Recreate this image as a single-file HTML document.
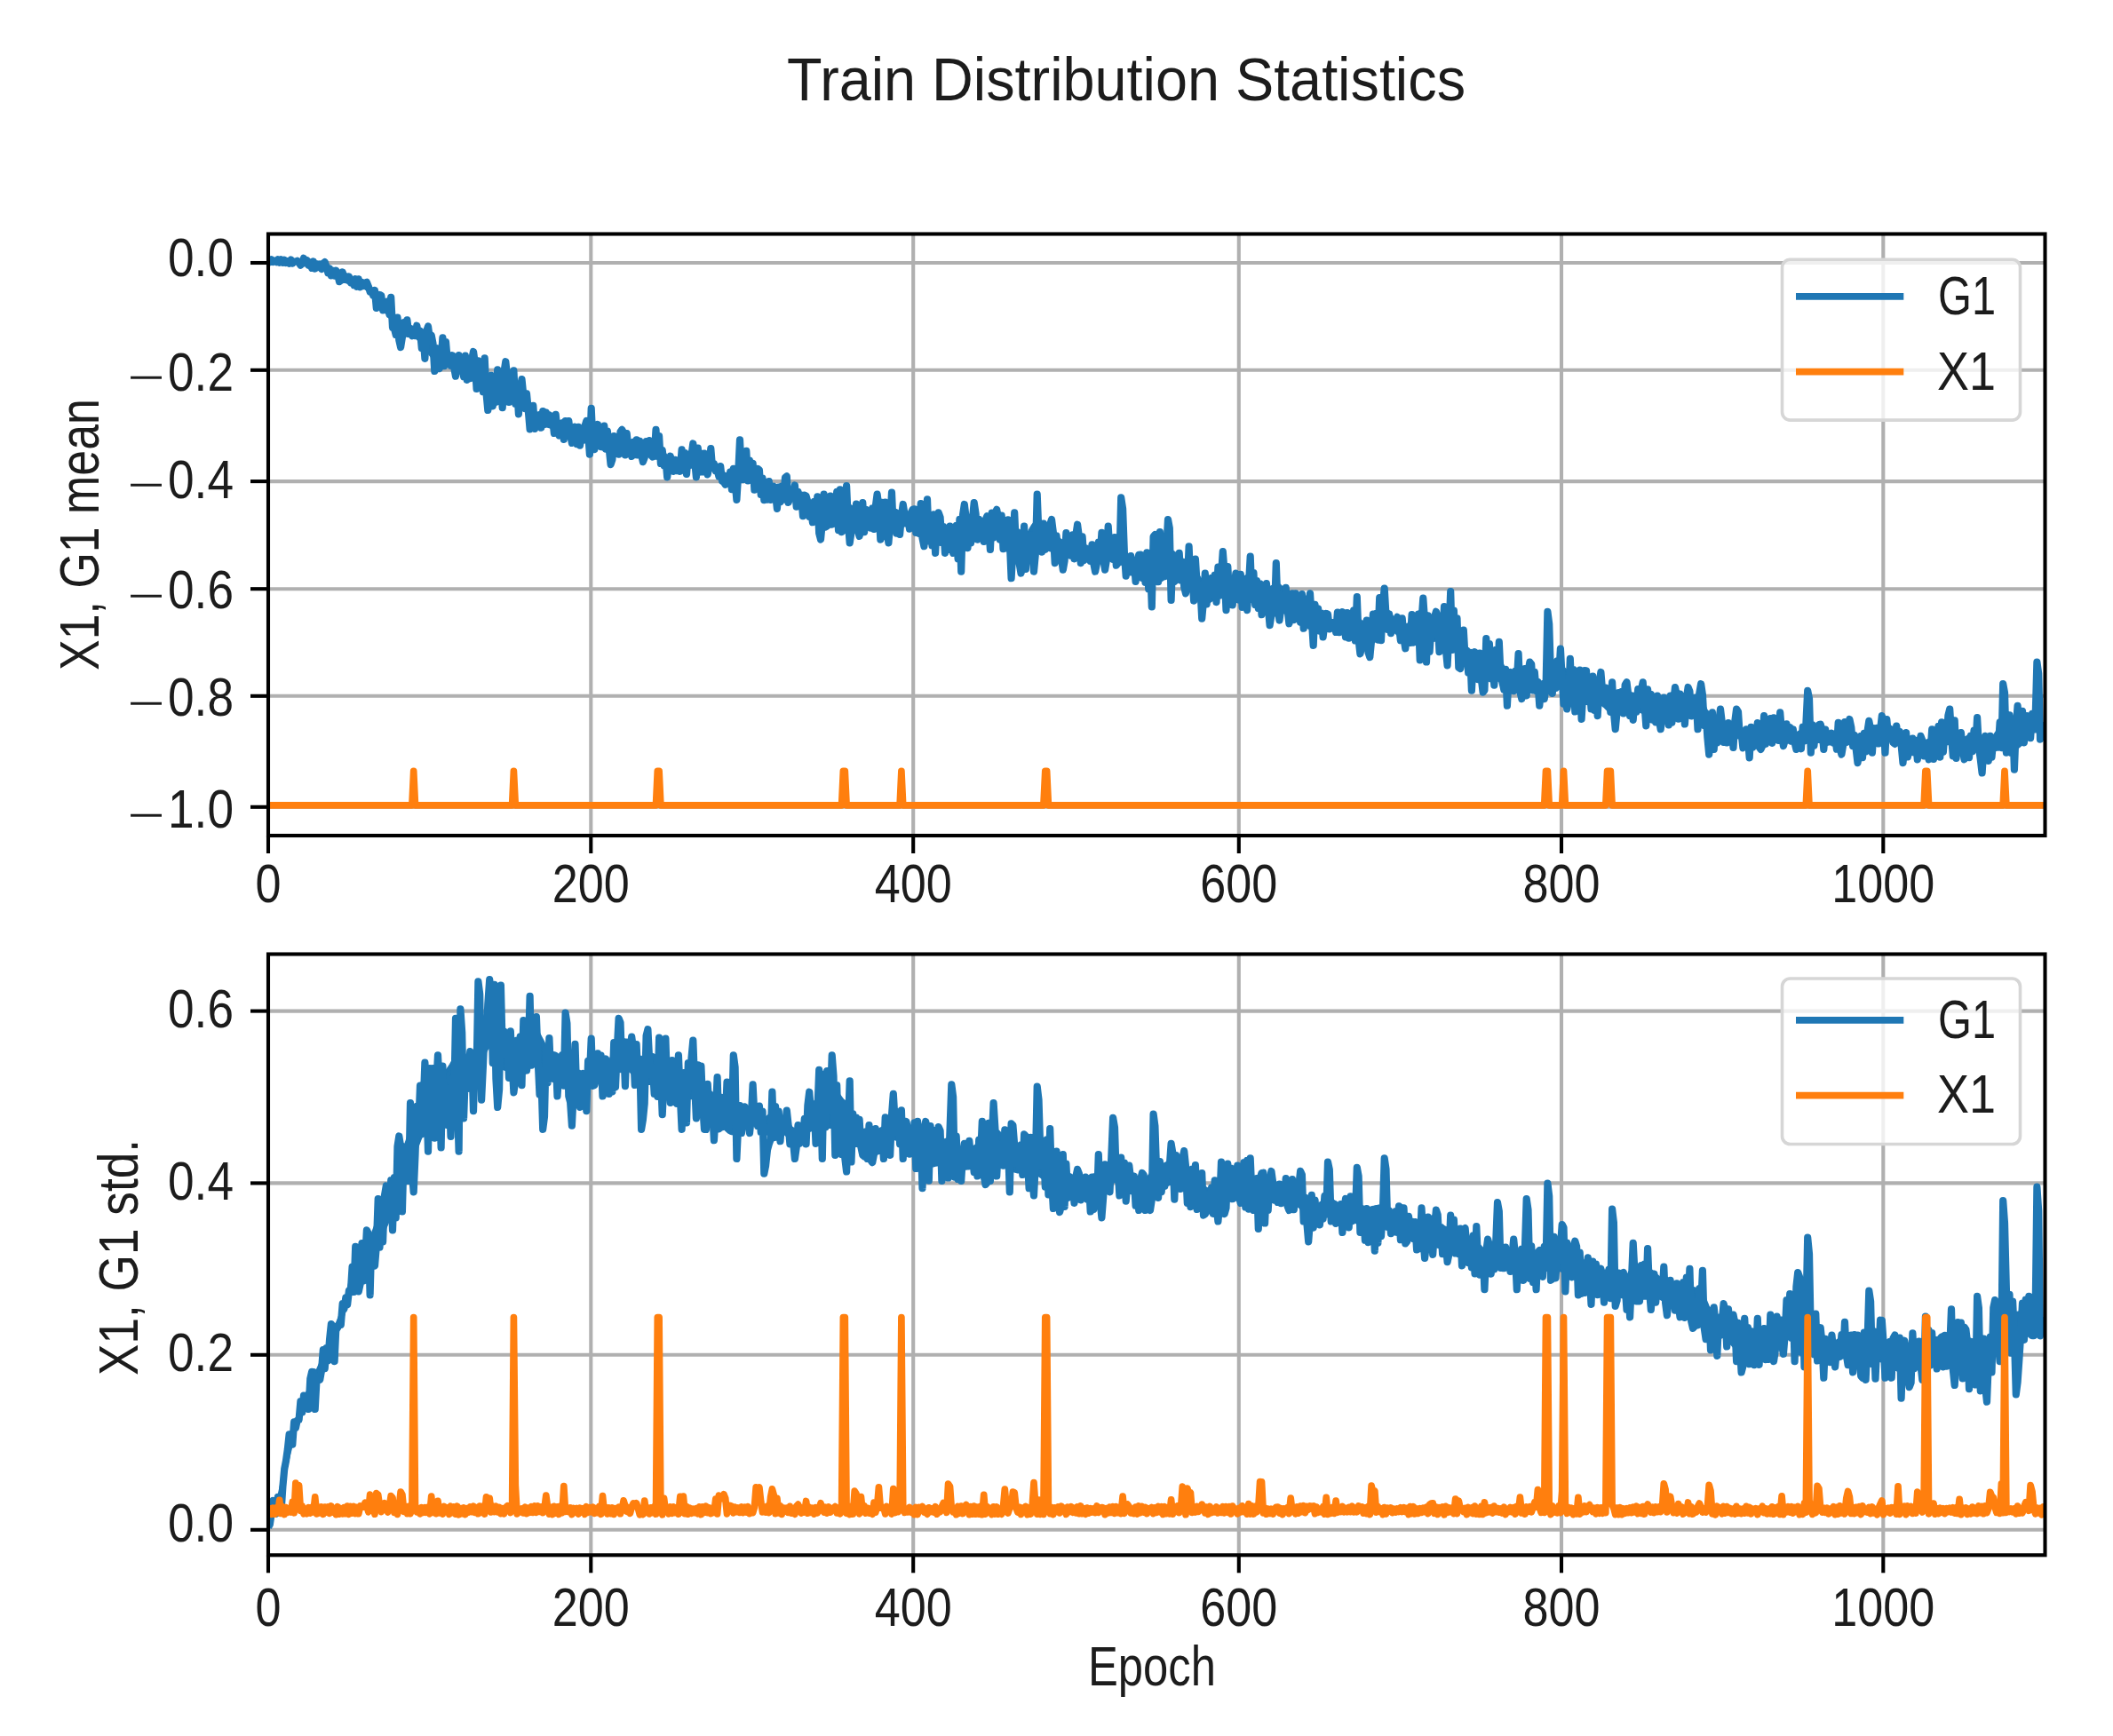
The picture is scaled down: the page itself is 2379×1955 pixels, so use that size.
<!DOCTYPE html>
<html lang="en"><head><meta charset="utf-8"><title>Train Distribution Statistics</title>
<style>html,body{margin:0;padding:0;background:#fff}svg{display:block;filter:blur(0.7px)}text{font-family:"Liberation Sans",sans-serif;fill:#1c1c1c}</style></head><body>
<svg width="2379" height="1955" viewBox="0 0 2379 1955">
<rect width="2379" height="1955" fill="#fff"/>
<defs><clipPath id="c1"><rect x="302.0" y="263.5" width="2000.5" height="677.5"/></clipPath><clipPath id="c2"><rect x="302.0" y="1074.5" width="2000.5" height="676.8"/></clipPath></defs>
<g>
<line x1="665.3" y1="263.5" x2="665.3" y2="941.0" stroke="#b0b0b0" stroke-width="4.1"/>
<line x1="1028.2" y1="263.5" x2="1028.2" y2="941.0" stroke="#b0b0b0" stroke-width="4.1"/>
<line x1="1394.8" y1="263.5" x2="1394.8" y2="941.0" stroke="#b0b0b0" stroke-width="4.1"/>
<line x1="1758.0" y1="263.5" x2="1758.0" y2="941.0" stroke="#b0b0b0" stroke-width="4.1"/>
<line x1="2120.3" y1="263.5" x2="2120.3" y2="941.0" stroke="#b0b0b0" stroke-width="4.1"/>
<line x1="302.0" y1="296.0" x2="2302.5" y2="296.0" stroke="#b0b0b0" stroke-width="4.1"/>
<line x1="302.0" y1="416.8" x2="2302.5" y2="416.8" stroke="#b0b0b0" stroke-width="4.1"/>
<line x1="302.0" y1="542.1" x2="2302.5" y2="542.1" stroke="#b0b0b0" stroke-width="4.1"/>
<line x1="302.0" y1="663.2" x2="2302.5" y2="663.2" stroke="#b0b0b0" stroke-width="4.1"/>
<line x1="302.0" y1="783.8" x2="2302.5" y2="783.8" stroke="#b0b0b0" stroke-width="4.1"/>
<line x1="302.0" y1="908.8" x2="2302.5" y2="908.8" stroke="#b0b0b0" stroke-width="4.1"/>
<g clip-path="url(#c1)">
<polygon fill="#1f77b4" stroke="#1f77b4" stroke-width="3" stroke-linejoin="round" points="302.0,293.3 303.8,293.3 305.6,293.3 307.5,293.3 309.3,293.3 311.1,293.3 312.9,293.3 314.7,293.3 316.5,293.3 318.4,293.3 320.2,293.3 322.0,293.3 323.8,293.3 325.6,293.3 327.5,293.3 329.3,293.3 331.1,293.2 332.9,293.2 334.7,293.2 336.6,293.2 338.4,293.3 340.2,293.4 342.0,293.5 343.8,293.8 345.6,294.1 347.5,294.4 349.3,294.8 351.1,295.3 352.9,295.7 354.7,296.2 356.6,296.6 358.4,297.0 360.2,297.5 362.0,298.0 363.8,298.7 365.7,299.4 367.5,300.1 369.3,301.0 371.1,301.9 372.9,302.9 374.7,303.9 376.6,304.9 378.4,305.9 380.2,306.9 382.0,307.9 383.8,308.8 385.7,309.7 387.5,310.5 389.3,311.3 391.1,312.0 392.9,312.8 394.8,313.5 396.6,314.2 398.4,315.0 400.2,315.7 402.0,316.4 403.8,317.1 405.7,317.9 407.5,318.6 409.3,319.4 411.1,320.5 412.9,321.7 414.8,323.0 416.6,324.6 418.4,326.3 420.2,328.3 422.0,330.2 423.8,332.1 425.7,333.9 427.5,335.6 429.3,337.1 431.1,338.6 432.9,339.9 434.8,341.1 436.6,342.7 438.4,344.9 440.2,347.9 442.0,351.6 443.9,355.2 445.7,358.5 447.5,361.6 449.3,364.1 451.1,365.7 452.9,366.3 454.8,366.1 456.6,366.0 458.4,366.1 460.2,366.5 462.0,367.1 463.9,367.8 465.7,368.9 467.5,369.9 469.3,371.0 471.1,372.1 473.0,373.2 474.8,374.3 476.6,375.5 478.4,377.4 480.2,379.7 482.0,381.9 483.9,384.0 485.7,386.0 487.5,387.8 489.3,389.4 491.1,390.1 493.0,390.3 494.8,390.6 496.6,391.2 498.4,392.0 500.2,393.0 502.0,394.2 503.9,395.7 505.7,397.4 507.5,399.2 509.3,400.9 511.1,402.6 513.0,404.0 514.8,405.2 516.6,406.2 518.4,406.9 520.2,407.4 522.1,407.7 523.9,407.8 525.7,407.9 527.5,408.1 529.3,408.4 531.1,408.9 533.0,409.5 534.8,410.3 536.6,411.3 538.4,412.4 540.2,413.7 542.1,415.0 543.9,416.3 545.7,418.2 547.5,421.0 549.3,423.7 551.2,425.9 553.0,427.8 554.8,429.4 556.6,430.5 558.4,430.7 560.2,429.6 562.1,428.3 563.9,427.0 565.7,426.1 567.5,425.5 569.3,425.4 571.2,425.7 573.0,426.5 574.8,427.7 576.6,429.3 578.4,431.0 580.3,432.7 582.1,434.5 583.9,436.6 585.7,438.8 587.5,441.3 589.3,444.0 591.2,447.0 593.0,450.2 594.8,453.5 596.6,456.6 598.4,459.3 600.3,461.7 602.1,463.6 603.9,465.2 605.7,466.4 607.5,467.2 609.3,467.8 611.2,468.5 613.0,469.1 614.8,469.8 616.6,470.4 618.4,471.1 620.3,471.7 622.1,472.4 623.9,473.1 625.7,473.9 627.5,474.7 629.4,475.5 631.2,476.4 633.0,477.4 634.8,478.3 636.6,479.2 638.4,480.0 640.3,480.8 642.1,481.4 643.9,481.9 645.7,482.4 647.5,482.8 649.4,483.1 651.2,483.5 653.0,483.8 654.8,484.2 656.6,484.1 658.5,483.4 660.3,482.1 662.1,480.7 663.9,479.6 665.7,478.6 667.5,477.8 669.4,477.7 671.2,478.4 673.0,479.8 674.8,481.5 676.6,483.2 678.5,485.1 680.3,487.0 682.1,488.9 683.9,491.0 685.7,493.1 687.6,495.0 689.4,496.3 691.2,497.0 693.0,497.1 694.8,496.7 696.6,496.1 698.5,495.3 700.3,494.7 702.1,494.5 703.9,494.8 705.7,495.4 707.6,496.4 709.4,497.5 711.2,498.5 713.0,499.6 714.8,500.6 716.6,501.4 718.5,501.8 720.3,501.9 722.1,501.8 723.9,501.3 725.7,500.6 727.6,499.5 729.4,498.5 731.2,497.4 733.0,496.4 734.8,495.9 736.7,496.0 738.5,496.7 740.3,498.0 742.1,499.9 743.9,502.4 745.7,505.6 747.6,508.8 749.4,511.9 751.2,514.4 753.0,516.3 754.8,517.7 756.7,518.5 758.5,518.8 760.3,518.5 762.1,517.8 763.9,517.1 765.8,516.3 767.6,515.6 769.4,514.9 771.2,514.2 773.0,513.5 774.8,512.8 776.7,512.3 778.5,511.9 780.3,511.7 782.1,511.6 783.9,511.6 785.8,511.8 787.6,512.1 789.4,512.3 791.2,512.6 793.0,512.9 794.9,513.3 796.7,514.0 798.5,515.1 800.3,516.5 802.1,518.2 803.9,520.3 805.8,522.7 807.6,525.1 809.4,527.2 811.2,529.2 813.0,530.9 814.9,532.3 816.7,533.6 818.5,534.6 820.3,535.3 822.1,535.0 823.9,533.7 825.8,531.3 827.6,527.9 829.4,524.1 831.2,520.5 833.0,517.4 834.9,515.6 836.7,515.1 838.5,515.8 840.3,517.8 842.1,520.4 844.0,523.0 845.8,525.5 847.6,528.1 849.4,530.6 851.2,533.0 853.0,535.4 854.9,537.6 856.7,539.8 858.5,541.9 860.3,543.9 862.1,545.9 864.0,547.9 865.8,549.7 867.6,551.1 869.4,552.1 871.2,552.6 873.1,552.6 874.9,552.1 876.7,551.2 878.5,550.0 880.3,548.8 882.1,548.0 884.0,547.6 885.8,547.7 887.6,548.1 889.4,549.0 891.2,550.4 893.1,552.1 894.9,553.9 896.7,555.6 898.5,557.4 900.3,559.1 902.1,560.8 904.0,562.3 905.8,563.6 907.6,564.8 909.4,565.8 911.2,566.6 913.1,567.3 914.9,567.9 916.7,568.4 918.5,569.0 920.3,569.6 922.2,570.2 924.0,570.6 925.8,570.8 927.6,570.8 929.4,570.6 931.2,570.2 933.1,569.8 934.9,569.2 936.7,568.8 938.5,568.4 940.3,568.0 942.2,567.8 944.0,567.5 945.8,567.3 947.6,567.1 949.4,567.2 951.3,567.4 953.1,567.8 954.9,568.4 956.7,569.1 958.5,570.1 960.3,571.1 962.2,572.2 964.0,573.2 965.8,574.3 967.6,575.1 969.4,575.7 971.3,576.0 973.1,576.1 974.9,576.0 976.7,575.6 978.5,575.0 980.4,574.4 982.2,573.9 984.0,573.3 985.8,572.9 987.6,572.5 989.4,572.2 991.3,572.0 993.1,571.9 994.9,571.8 996.7,571.8 998.5,571.8 1000.4,572.0 1002.2,572.3 1004.0,572.7 1005.8,573.2 1007.6,573.9 1009.4,574.7 1011.3,575.6 1013.1,576.4 1014.9,577.2 1016.7,577.9 1018.5,578.6 1020.4,579.2 1022.2,579.8 1024.0,580.3 1025.8,580.6 1027.6,580.7 1029.5,580.8 1031.3,580.6 1033.1,580.4 1034.9,580.0 1036.7,579.6 1038.5,579.3 1040.4,579.4 1042.2,579.8 1044.0,580.4 1045.8,581.4 1047.6,582.7 1049.5,584.3 1051.3,586.1 1053.1,587.8 1054.9,589.5 1056.7,591.1 1058.6,592.7 1060.4,594.2 1062.2,595.7 1064.0,597.2 1065.8,598.3 1067.6,599.0 1069.5,599.4 1071.3,599.3 1073.1,599.0 1074.9,598.2 1076.7,597.0 1078.6,595.9 1080.4,594.7 1082.2,593.4 1084.0,592.0 1085.8,590.4 1087.7,588.7 1089.5,586.7 1091.3,584.8 1093.1,583.4 1094.9,582.4 1096.7,582.0 1098.6,582.1 1100.4,582.9 1102.2,584.2 1104.0,585.8 1105.8,587.5 1107.7,588.8 1109.5,589.6 1111.3,589.9 1113.1,589.8 1114.9,589.3 1116.7,588.3 1118.6,587.3 1120.4,586.6 1122.2,586.4 1124.0,586.5 1125.8,587.1 1127.7,588.1 1129.5,589.5 1131.3,591.0 1133.1,592.6 1134.9,594.1 1136.8,595.6 1138.6,597.1 1140.4,598.5 1142.2,600.0 1144.0,601.5 1145.8,602.9 1147.7,604.3 1149.5,604.9 1151.3,605.0 1153.1,604.3 1154.9,603.0 1156.8,601.0 1158.6,598.3 1160.4,595.1 1162.2,592.0 1164.0,589.6 1165.9,588.0 1167.7,587.1 1169.5,587.0 1171.3,587.6 1173.1,588.9 1174.9,590.9 1176.8,592.8 1178.6,594.8 1180.4,596.6 1182.2,598.3 1184.0,600.0 1185.9,601.6 1187.7,603.1 1189.5,604.5 1191.3,605.9 1193.1,607.2 1195.0,608.6 1196.8,609.5 1198.6,610.1 1200.4,610.3 1202.2,610.1 1204.0,609.6 1205.9,608.6 1207.7,607.4 1209.5,606.7 1211.3,606.5 1213.1,606.8 1215.0,607.6 1216.8,608.9 1218.6,610.6 1220.4,612.8 1222.2,614.9 1224.0,616.8 1225.9,618.2 1227.7,619.0 1229.5,619.4 1231.3,619.2 1233.1,618.4 1235.0,617.2 1236.8,615.7 1238.6,614.2 1240.4,612.7 1242.2,611.3 1244.1,610.3 1245.9,609.5 1247.7,609.1 1249.5,609.0 1251.3,609.3 1253.1,609.8 1255.0,610.6 1256.8,611.5 1258.6,613.4 1260.4,616.4 1262.2,619.7 1264.1,622.9 1265.9,626.0 1267.7,629.0 1269.5,631.7 1271.3,633.3 1273.2,633.7 1275.0,633.7 1276.8,633.7 1278.6,633.6 1280.4,633.4 1282.2,633.1 1284.1,632.6 1285.9,632.1 1287.7,631.5 1289.5,630.8 1291.3,630.0 1293.2,629.3 1295.0,628.6 1296.8,627.8 1298.6,626.8 1300.4,625.6 1302.2,624.3 1304.1,622.8 1305.9,621.2 1307.7,619.4 1309.5,617.6 1311.3,616.5 1313.2,616.1 1315.0,616.3 1316.8,617.2 1318.6,618.8 1320.4,621.1 1322.3,623.9 1324.1,626.3 1325.9,628.2 1327.7,629.7 1329.5,630.7 1331.3,631.4 1333.2,631.6 1335.0,631.9 1336.8,632.7 1338.6,633.9 1340.4,635.5 1342.3,637.5 1344.1,640.0 1345.9,642.9 1347.7,645.7 1349.5,648.6 1351.4,651.4 1353.2,653.8 1355.0,655.5 1356.8,656.5 1358.6,656.9 1360.4,656.5 1362.3,655.5 1364.1,653.8 1365.9,651.9 1367.7,649.9 1369.5,648.0 1371.4,646.2 1373.2,645.0 1375.0,644.3 1376.8,644.1 1378.6,644.5 1380.5,645.5 1382.3,646.9 1384.1,648.8 1385.9,650.7 1387.7,652.1 1389.5,653.1 1391.4,653.7 1393.2,653.8 1395.0,653.5 1396.8,652.7 1398.6,651.5 1400.5,650.3 1402.3,649.0 1404.1,648.1 1405.9,647.8 1407.7,648.1 1409.5,648.9 1411.4,650.3 1413.2,652.3 1415.0,654.9 1416.8,657.7 1418.6,660.5 1420.5,663.1 1422.3,665.0 1424.1,666.1 1425.9,666.4 1427.7,665.9 1429.6,664.7 1431.4,662.6 1433.2,660.4 1435.0,658.9 1436.8,658.1 1438.6,658.1 1440.5,658.8 1442.3,660.2 1444.1,662.4 1445.9,664.9 1447.7,667.4 1449.6,669.9 1451.4,672.2 1453.2,674.3 1455.0,676.2 1456.8,677.8 1458.7,679.1 1460.5,680.2 1462.3,681.0 1464.1,681.7 1465.9,682.4 1467.7,683.2 1469.6,683.9 1471.4,684.7 1473.2,685.5 1475.0,686.5 1476.8,687.5 1478.7,688.6 1480.5,689.8 1482.3,691.1 1484.1,692.3 1485.9,693.6 1487.8,694.8 1489.6,696.0 1491.4,696.9 1493.2,697.6 1495.0,698.1 1496.8,698.4 1498.7,698.5 1500.5,698.4 1502.3,698.3 1504.1,698.1 1505.9,698.0 1507.8,697.7 1509.6,697.4 1511.4,697.0 1513.2,696.5 1515.0,696.0 1516.8,695.4 1518.7,694.7 1520.5,694.0 1522.3,693.4 1524.1,693.3 1525.9,693.7 1527.8,694.6 1529.6,696.2 1531.4,698.2 1533.2,700.8 1535.0,703.3 1536.9,704.9 1538.7,705.7 1540.5,705.6 1542.3,704.6 1544.1,702.7 1545.9,700.0 1547.8,697.0 1549.6,694.0 1551.4,691.1 1553.2,688.4 1555.0,686.5 1556.9,685.4 1558.7,685.2 1560.5,685.7 1562.3,687.1 1564.1,689.2 1566.0,691.9 1567.8,694.6 1569.6,697.1 1571.4,699.4 1573.2,701.5 1575.0,703.1 1576.9,704.1 1578.7,704.7 1580.5,704.7 1582.3,704.5 1584.1,703.9 1586.0,703.1 1587.8,702.2 1589.6,701.3 1591.4,700.4 1593.2,699.4 1595.1,698.5 1596.9,697.7 1598.7,697.1 1600.5,696.8 1602.3,696.8 1604.1,696.9 1606.0,697.4 1607.8,698.1 1609.6,698.9 1611.4,699.8 1613.2,700.4 1615.1,700.6 1616.9,700.5 1618.7,700.2 1620.5,699.5 1622.3,698.5 1624.1,697.2 1626.0,695.9 1627.8,694.8 1629.6,694.4 1631.4,694.9 1633.2,696.0 1635.1,697.9 1636.9,700.6 1638.7,704.1 1640.5,708.1 1642.3,712.0 1644.2,715.9 1646.0,719.7 1647.8,723.4 1649.6,727.0 1651.4,730.5 1653.2,734.0 1655.1,737.3 1656.9,740.0 1658.7,741.9 1660.5,743.2 1662.3,743.8 1664.2,743.8 1666.0,743.0 1667.8,741.7 1669.6,740.4 1671.4,739.4 1673.3,738.5 1675.1,737.8 1676.9,737.3 1678.7,737.0 1680.5,736.8 1682.3,737.0 1684.2,737.9 1686.0,739.4 1687.8,741.5 1689.6,744.3 1691.4,747.7 1693.3,751.7 1695.1,755.8 1696.9,758.9 1698.7,760.9 1700.5,761.8 1702.3,761.6 1704.2,760.3 1706.0,758.5 1707.8,756.4 1709.6,754.9 1711.4,753.9 1713.3,753.5 1715.1,753.7 1716.9,754.4 1718.7,755.4 1720.5,756.7 1722.4,758.2 1724.2,760.1 1726.0,762.2 1727.8,764.7 1729.6,767.4 1731.4,769.7 1733.3,770.8 1735.1,770.7 1736.9,769.6 1738.7,767.8 1740.5,765.5 1742.4,762.6 1744.2,759.6 1746.0,757.2 1747.8,755.5 1749.6,754.3 1751.5,753.0 1753.3,752.1 1755.1,751.6 1756.9,751.6 1758.7,751.9 1760.5,752.6 1762.4,753.8 1764.2,755.3 1766.0,756.8 1767.8,758.4 1769.6,759.9 1771.5,761.4 1773.3,763.0 1775.1,764.5 1776.9,766.0 1778.7,767.4 1780.6,768.7 1782.4,769.7 1784.2,770.5 1786.0,771.0 1787.8,771.4 1789.6,771.6 1791.5,771.6 1793.3,771.6 1795.1,771.6 1796.9,771.6 1798.7,771.9 1800.6,772.4 1802.4,773.1 1804.2,774.1 1806.0,775.3 1807.8,776.8 1809.6,778.5 1811.5,780.0 1813.3,781.2 1815.1,782.0 1816.9,782.5 1818.7,782.7 1820.6,782.6 1822.4,782.2 1824.2,781.6 1826.0,781.1 1827.8,780.7 1829.7,780.5 1831.5,780.4 1833.3,780.4 1835.1,780.5 1836.9,780.7 1838.7,781.1 1840.6,781.4 1842.4,781.7 1844.2,782.1 1846.0,782.5 1847.8,783.1 1849.7,783.8 1851.5,784.7 1853.3,785.6 1855.1,786.8 1856.9,788.0 1858.8,789.3 1860.6,790.5 1862.4,791.6 1864.2,792.4 1866.0,792.8 1867.8,793.0 1869.7,792.9 1871.5,792.4 1873.3,791.7 1875.1,790.9 1876.9,790.0 1878.8,789.2 1880.6,788.3 1882.4,787.6 1884.2,787.1 1886.0,786.6 1887.9,786.3 1889.7,786.1 1891.5,786.1 1893.3,786.2 1895.1,786.2 1896.9,786.3 1898.8,786.3 1900.6,786.3 1902.4,786.3 1904.2,786.2 1906.0,786.1 1907.9,786.0 1909.7,785.9 1911.5,786.2 1913.3,787.2 1915.1,788.9 1916.9,791.3 1918.8,794.5 1920.6,798.4 1922.4,802.8 1924.2,806.6 1926.0,809.6 1927.9,811.6 1929.7,812.8 1931.5,813.1 1933.3,813.0 1935.1,812.8 1937.0,813.1 1938.8,814.0 1940.6,815.4 1942.4,817.3 1944.2,818.9 1946.0,819.6 1947.9,819.4 1949.7,818.2 1951.5,816.9 1953.3,815.9 1955.1,815.2 1957.0,815.6 1958.8,817.2 1960.6,819.6 1962.4,822.5 1964.2,825.0 1966.1,826.7 1967.9,827.6 1969.7,827.6 1971.5,826.9 1973.3,825.7 1975.1,824.5 1977.0,823.4 1978.8,822.2 1980.6,821.0 1982.4,820.0 1984.2,819.0 1986.1,818.2 1987.9,817.5 1989.7,816.9 1991.5,816.4 1993.3,816.0 1995.2,815.7 1997.0,815.3 1998.8,815.0 2000.6,814.8 2002.4,815.0 2004.2,815.5 2006.1,816.3 2007.9,817.5 2009.7,819.0 2011.5,820.8 2013.3,822.7 2015.2,824.1 2017.0,825.1 2018.8,825.7 2020.6,825.8 2022.4,825.5 2024.2,824.8 2026.1,823.8 2027.9,822.9 2029.7,821.9 2031.5,821.3 2033.3,820.8 2035.2,820.5 2037.0,820.5 2038.8,820.7 2040.6,821.1 2042.4,821.7 2044.3,822.2 2046.1,822.8 2047.9,823.2 2049.7,823.6 2051.5,823.8 2053.3,824.1 2055.2,824.2 2057.0,824.3 2058.8,824.3 2060.6,824.3 2062.4,824.4 2064.3,824.4 2066.1,824.3 2067.9,824.1 2069.7,823.7 2071.5,823.3 2073.4,822.8 2075.2,822.1 2077.0,821.3 2078.8,821.0 2080.6,821.2 2082.4,821.8 2084.3,823.0 2086.1,824.6 2087.9,826.6 2089.7,829.2 2091.5,831.2 2093.4,832.4 2095.2,832.6 2097.0,831.9 2098.8,830.6 2100.6,828.8 2102.4,826.6 2104.3,824.5 2106.1,822.9 2107.9,821.7 2109.7,821.0 2111.5,820.5 2113.4,820.0 2115.2,819.7 2117.0,819.5 2118.8,819.5 2120.6,819.6 2122.5,819.8 2124.3,820.2 2126.1,820.6 2127.9,821.1 2129.7,821.6 2131.5,822.3 2133.4,823.1 2135.2,824.2 2137.0,825.4 2138.8,826.9 2140.6,828.6 2142.5,830.4 2144.3,831.9 2146.1,833.2 2147.9,834.3 2149.7,835.1 2151.6,835.6 2153.4,835.9 2155.2,836.1 2157.0,836.3 2158.8,836.3 2160.6,836.2 2162.5,836.0 2164.3,835.6 2166.1,835.1 2167.9,834.5 2169.7,833.8 2171.6,832.9 2173.4,831.9 2175.2,830.8 2177.0,829.6 2178.8,828.2 2180.7,826.7 2182.5,825.1 2184.3,823.5 2186.1,821.8 2187.9,820.2 2189.7,818.9 2191.6,818.2 2193.4,818.1 2195.2,818.6 2197.0,819.8 2198.8,821.5 2200.7,823.9 2202.5,826.5 2204.3,828.5 2206.1,830.0 2207.9,831.0 2209.7,831.4 2211.6,831.2 2213.4,830.5 2215.2,829.3 2217.0,828.2 2218.8,827.0 2220.7,825.9 2222.5,825.3 2224.3,825.4 2226.1,826.2 2227.9,827.7 2229.8,829.8 2231.6,832.1 2233.4,834.2 2235.2,835.6 2237.0,836.1 2238.8,835.6 2240.7,834.3 2242.5,832.1 2244.3,829.5 2246.1,827.0 2247.9,824.4 2249.8,821.8 2251.6,819.6 2253.4,817.7 2255.2,816.3 2257.0,815.3 2258.9,814.7 2260.7,814.5 2262.5,814.7 2264.3,815.0 2266.1,815.3 2267.9,815.6 2269.8,815.8 2271.6,815.9 2273.4,816.0 2275.2,815.9 2277.0,815.8 2278.9,815.6 2280.7,815.1 2282.5,814.4 2284.3,813.6 2286.1,812.6 2288.0,811.6 2289.8,810.9 2291.6,810.7 2293.4,811.1 2295.2,811.9 2297.0,813.0 2298.9,813.7 2300.7,814.8 2302.5,815.8 2302.5,826.3 2300.7,825.7 2298.9,825.2 2297.0,824.8 2295.2,824.3 2293.4,823.9 2291.6,823.9 2289.8,824.1 2288.0,824.8 2286.1,826.1 2284.3,827.8 2282.5,829.7 2280.7,831.9 2278.9,834.4 2277.0,837.0 2275.2,839.1 2273.4,840.6 2271.6,841.6 2269.8,841.9 2267.9,841.7 2266.1,840.8 2264.3,839.5 2262.5,838.1 2260.7,836.9 2258.9,836.2 2257.0,836.0 2255.2,836.3 2253.4,837.2 2251.6,838.6 2249.8,840.5 2247.9,842.8 2246.1,845.1 2244.3,847.4 2242.5,849.7 2240.7,851.7 2238.8,852.9 2237.0,853.3 2235.2,852.9 2233.4,851.7 2231.6,849.8 2229.8,847.7 2227.9,845.6 2226.1,844.1 2224.3,843.1 2222.5,842.6 2220.7,842.7 2218.8,843.2 2217.0,843.7 2215.2,844.2 2213.4,844.7 2211.6,844.9 2209.7,844.9 2207.9,844.6 2206.1,844.1 2204.3,843.2 2202.5,842.1 2200.7,840.7 2198.8,839.4 2197.0,838.5 2195.2,837.9 2193.4,837.6 2191.6,837.7 2189.7,838.1 2187.9,838.8 2186.1,839.7 2184.3,840.6 2182.5,841.5 2180.7,842.4 2178.8,843.3 2177.0,844.0 2175.2,844.6 2173.4,845.2 2171.6,845.7 2169.7,846.1 2167.9,846.4 2166.1,846.7 2164.3,846.9 2162.5,847.2 2160.6,847.4 2158.8,847.7 2157.0,847.9 2155.2,848.1 2153.4,848.2 2151.6,848.2 2149.7,847.7 2147.9,846.8 2146.1,845.5 2144.3,843.7 2142.5,841.4 2140.6,838.9 2138.8,836.6 2137.0,834.7 2135.2,833.4 2133.4,832.5 2131.5,832.2 2129.7,832.3 2127.9,832.8 2126.1,833.2 2124.3,833.7 2122.5,834.2 2120.6,834.6 2118.8,835.0 2117.0,835.3 2115.2,835.6 2113.4,835.8 2111.5,836.0 2109.7,836.2 2107.9,836.7 2106.1,837.5 2104.3,838.8 2102.4,840.5 2100.6,842.3 2098.8,843.7 2097.0,844.7 2095.2,845.0 2093.4,844.6 2091.5,843.3 2089.7,841.3 2087.9,838.7 2086.1,836.7 2084.3,835.2 2082.4,834.2 2080.6,833.7 2078.8,833.8 2077.0,834.4 2075.2,835.4 2073.4,836.3 2071.5,837.0 2069.7,837.6 2067.9,837.9 2066.1,838.0 2064.3,837.9 2062.4,837.6 2060.6,837.3 2058.8,836.9 2057.0,836.6 2055.2,836.3 2053.3,836.1 2051.5,835.8 2049.7,835.7 2047.9,835.6 2046.1,835.5 2044.3,835.5 2042.4,835.5 2040.6,835.5 2038.8,835.5 2037.0,835.6 2035.2,835.6 2033.3,835.7 2031.5,835.9 2029.7,836.0 2027.9,836.2 2026.1,836.4 2024.2,836.5 2022.4,836.6 2020.6,836.5 2018.8,836.1 2017.0,835.6 2015.2,834.9 2013.3,834.0 2011.5,832.9 2009.7,831.9 2007.9,831.0 2006.1,830.4 2004.2,830.0 2002.4,829.8 2000.6,829.8 1998.8,830.0 1997.0,830.4 1995.2,830.8 1993.3,831.1 1991.5,831.5 1989.7,832.0 1987.9,832.5 1986.1,833.1 1984.2,833.8 1982.4,834.6 1980.6,835.5 1978.8,836.5 1977.0,837.5 1975.1,838.4 1973.3,839.4 1971.5,840.4 1969.7,840.9 1967.9,840.7 1966.1,839.6 1964.2,837.8 1962.4,835.1 1960.6,832.1 1958.8,829.4 1957.0,827.5 1955.1,826.8 1953.3,827.1 1951.5,827.9 1949.7,829.1 1947.9,830.4 1946.0,830.9 1944.2,830.7 1942.4,829.8 1940.6,828.7 1938.8,828.1 1937.0,828.1 1935.1,828.5 1933.3,829.5 1931.5,830.2 1929.7,830.5 1927.9,829.9 1926.0,828.3 1924.2,825.8 1922.4,822.3 1920.6,818.1 1918.8,814.3 1916.9,811.2 1915.1,808.6 1913.3,806.7 1911.5,805.4 1909.7,804.7 1907.9,804.4 1906.0,804.0 1904.2,803.7 1902.4,803.4 1900.6,803.2 1898.8,803.0 1896.9,802.7 1895.1,802.6 1893.3,802.4 1891.5,802.2 1889.7,802.2 1887.9,802.3 1886.0,802.5 1884.2,802.9 1882.4,803.3 1880.6,804.0 1878.8,804.7 1876.9,805.5 1875.1,806.3 1873.3,807.1 1871.5,807.8 1869.7,808.2 1867.8,808.5 1866.0,808.5 1864.2,808.3 1862.4,807.9 1860.6,807.3 1858.8,806.5 1856.9,805.7 1855.1,805.0 1853.3,804.2 1851.5,803.4 1849.7,802.7 1847.8,801.9 1846.0,801.1 1844.2,800.4 1842.4,799.6 1840.6,798.8 1838.7,798.1 1836.9,797.3 1835.1,796.7 1833.3,796.4 1831.5,796.4 1829.7,796.7 1827.8,797.3 1826.0,798.2 1824.2,799.4 1822.4,800.6 1820.6,801.8 1818.7,802.4 1816.9,802.7 1815.1,802.4 1813.3,801.7 1811.5,800.6 1809.6,799.0 1807.8,797.1 1806.0,795.5 1804.2,794.1 1802.4,793.1 1800.6,792.4 1798.7,792.0 1796.9,791.9 1795.1,792.1 1793.3,792.3 1791.5,792.5 1789.6,792.7 1787.8,792.8 1786.0,792.6 1784.2,792.2 1782.4,791.6 1780.6,790.7 1778.7,789.6 1776.9,788.2 1775.1,786.8 1773.3,785.4 1771.5,784.0 1769.6,782.7 1767.8,781.3 1766.0,780.1 1764.2,778.8 1762.4,777.6 1760.5,776.6 1758.7,775.8 1756.9,775.2 1755.1,774.8 1753.3,774.6 1751.5,774.6 1749.6,774.7 1747.8,774.9 1746.0,775.4 1744.2,776.4 1742.4,778.0 1740.5,779.6 1738.7,780.9 1736.9,781.9 1735.1,782.5 1733.3,782.5 1731.4,781.6 1729.6,779.8 1727.8,777.8 1726.0,776.1 1724.2,774.7 1722.4,773.5 1720.5,772.7 1718.7,772.2 1716.9,771.9 1715.1,771.9 1713.3,772.2 1711.4,772.8 1709.6,773.8 1707.8,775.0 1706.0,776.6 1704.2,777.8 1702.3,778.4 1700.5,778.2 1698.7,777.0 1696.9,775.0 1695.1,772.1 1693.3,768.4 1691.4,764.8 1689.6,761.9 1687.8,759.7 1686.0,758.2 1684.2,757.4 1682.3,757.3 1680.5,757.9 1678.7,758.8 1676.9,759.7 1675.1,760.4 1673.3,761.1 1671.4,761.8 1669.6,762.3 1667.8,762.8 1666.0,763.3 1664.2,763.2 1662.3,762.6 1660.5,761.4 1658.7,759.7 1656.9,757.5 1655.1,754.7 1653.2,751.3 1651.4,748.1 1649.6,745.0 1647.8,742.2 1646.0,739.5 1644.2,737.1 1642.3,734.8 1640.5,732.8 1638.7,730.8 1636.9,729.0 1635.1,727.4 1633.2,726.0 1631.4,724.8 1629.6,723.9 1627.8,723.2 1626.0,722.7 1624.1,722.3 1622.3,721.8 1620.5,721.5 1618.7,721.3 1616.9,721.2 1615.1,721.3 1613.2,721.5 1611.4,721.7 1609.6,722.2 1607.8,722.6 1606.0,722.9 1604.1,723.1 1602.3,723.3 1600.5,723.3 1598.7,723.3 1596.9,723.1 1595.1,722.8 1593.2,722.5 1591.4,722.2 1589.6,721.9 1587.8,721.6 1586.0,721.3 1584.1,721.0 1582.3,720.3 1580.5,719.5 1578.7,718.3 1576.9,717.1 1575.0,715.7 1573.2,714.2 1571.4,712.6 1569.6,711.1 1567.8,709.8 1566.0,708.7 1564.1,707.5 1562.3,706.7 1560.5,706.3 1558.7,706.5 1556.9,707.2 1555.0,708.3 1553.2,710.0 1551.4,712.1 1549.6,714.4 1547.8,716.7 1545.9,719.0 1544.1,721.2 1542.3,722.8 1540.5,723.8 1538.7,724.2 1536.9,724.1 1535.0,723.4 1533.2,722.2 1531.4,720.6 1529.6,719.1 1527.8,717.8 1525.9,716.6 1524.1,715.4 1522.3,714.5 1520.5,713.6 1518.7,712.7 1516.8,711.9 1515.0,711.1 1513.2,710.4 1511.4,709.9 1509.6,709.5 1507.8,709.3 1505.9,709.1 1504.1,709.2 1502.3,709.2 1500.5,709.3 1498.7,709.3 1496.8,709.4 1495.0,709.4 1493.2,709.4 1491.4,709.5 1489.6,709.5 1487.8,709.4 1485.9,709.4 1484.1,709.4 1482.3,709.4 1480.5,709.4 1478.7,709.2 1476.8,708.7 1475.0,708.0 1473.2,707.1 1471.4,705.9 1469.6,704.5 1467.7,702.9 1465.9,701.3 1464.1,699.6 1462.3,698.0 1460.5,696.3 1458.7,694.8 1456.8,693.2 1455.0,691.7 1453.2,690.3 1451.4,689.0 1449.6,687.6 1447.7,686.4 1445.9,685.1 1444.1,683.8 1442.3,682.7 1440.5,682.0 1438.6,681.7 1436.8,681.9 1435.0,682.4 1433.2,683.4 1431.4,684.8 1429.6,686.0 1427.7,686.6 1425.9,686.7 1424.1,686.2 1422.3,685.2 1420.5,683.6 1418.6,681.5 1416.8,679.3 1415.0,677.0 1413.2,674.9 1411.4,673.2 1409.5,671.8 1407.7,670.7 1405.9,670.0 1404.1,669.6 1402.3,669.6 1400.5,669.8 1398.6,670.0 1396.8,670.1 1395.0,670.2 1393.2,670.3 1391.4,670.2 1389.5,670.0 1387.7,669.8 1385.9,669.4 1384.1,669.0 1382.3,668.6 1380.5,668.4 1378.6,668.4 1376.8,668.7 1375.0,669.2 1373.2,670.0 1371.4,671.0 1369.5,672.3 1367.7,673.6 1365.9,675.0 1364.1,676.3 1362.3,677.5 1360.4,678.1 1358.6,678.0 1356.8,677.4 1355.0,676.2 1353.2,674.4 1351.4,672.1 1349.5,669.3 1347.7,666.5 1345.9,663.7 1344.1,660.9 1342.3,658.3 1340.4,656.0 1338.6,653.8 1336.8,651.8 1335.0,650.0 1333.2,648.5 1331.3,647.3 1329.5,646.5 1327.7,645.9 1325.9,645.6 1324.1,645.6 1322.3,645.9 1320.4,646.5 1318.6,647.3 1316.8,648.1 1315.0,649.1 1313.2,650.1 1311.3,651.3 1309.5,652.5 1307.7,653.8 1305.9,655.1 1304.1,656.0 1302.2,656.6 1300.4,656.7 1298.6,656.6 1296.8,656.0 1295.0,655.1 1293.2,653.8 1291.3,652.6 1289.5,651.3 1287.7,650.1 1285.9,649.0 1284.1,648.1 1282.2,647.4 1280.4,646.9 1278.6,646.7 1276.8,646.6 1275.0,646.8 1273.2,647.1 1271.3,646.8 1269.5,645.3 1267.7,642.4 1265.9,639.3 1264.1,636.2 1262.2,633.1 1260.4,630.0 1258.6,627.3 1256.8,626.0 1255.0,626.0 1253.1,626.2 1251.3,626.5 1249.5,626.8 1247.7,627.2 1245.9,627.7 1244.1,628.3 1242.2,628.9 1240.4,629.6 1238.6,630.4 1236.8,631.1 1235.0,631.9 1233.1,632.5 1231.3,632.7 1229.5,632.7 1227.7,632.3 1225.9,631.5 1224.0,630.5 1222.2,629.1 1220.4,627.6 1218.6,626.0 1216.8,624.8 1215.0,624.0 1213.1,623.5 1211.3,623.4 1209.5,623.8 1207.7,624.5 1205.9,625.6 1204.0,626.5 1202.2,627.0 1200.4,627.3 1198.6,627.2 1196.8,626.8 1195.0,626.1 1193.1,625.1 1191.3,624.1 1189.5,623.0 1187.7,622.0 1185.9,621.2 1184.0,620.4 1182.2,619.8 1180.4,619.3 1178.6,618.9 1176.8,618.6 1174.9,618.4 1173.1,618.2 1171.3,618.2 1169.5,618.4 1167.7,618.9 1165.9,619.6 1164.0,620.6 1162.2,621.8 1160.4,623.3 1158.6,624.8 1156.8,626.2 1154.9,627.3 1153.1,628.1 1151.3,628.8 1149.5,629.2 1147.7,629.3 1145.8,629.0 1144.0,628.2 1142.2,627.0 1140.4,625.4 1138.6,623.3 1136.8,620.9 1134.9,618.0 1133.1,614.9 1131.3,611.9 1129.5,608.9 1127.7,606.0 1125.8,603.8 1124.0,602.2 1122.2,601.3 1120.4,601.1 1118.6,601.6 1116.7,602.7 1114.9,603.9 1113.1,604.7 1111.3,605.0 1109.5,604.8 1107.7,604.2 1105.8,603.2 1104.0,601.7 1102.2,600.2 1100.4,599.3 1098.6,599.3 1096.7,600.2 1094.9,602.1 1093.1,604.9 1091.3,608.2 1089.5,611.7 1087.7,614.6 1085.8,616.8 1084.0,618.1 1082.2,618.6 1080.4,618.2 1078.6,617.5 1076.7,616.7 1074.9,615.9 1073.1,615.2 1071.3,614.5 1069.5,613.8 1067.6,613.1 1065.8,612.4 1064.0,611.8 1062.2,611.2 1060.4,610.5 1058.6,609.6 1056.7,608.7 1054.9,607.7 1053.1,606.6 1051.3,605.4 1049.5,604.0 1047.6,602.7 1045.8,601.5 1044.0,600.3 1042.2,599.2 1040.4,598.2 1038.5,597.2 1036.7,596.3 1034.9,595.4 1033.1,594.6 1031.3,593.8 1029.5,593.2 1027.6,592.7 1025.8,592.4 1024.0,592.1 1022.2,591.9 1020.4,591.9 1018.5,592.0 1016.7,592.1 1014.9,592.3 1013.1,592.5 1011.3,592.8 1009.4,593.2 1007.6,593.5 1005.8,593.7 1004.0,593.8 1002.2,593.9 1000.4,593.8 998.5,593.7 996.7,593.5 994.9,593.2 993.1,593.0 991.3,592.8 989.4,592.6 987.6,592.5 985.8,592.4 984.0,592.4 982.2,592.4 980.4,592.4 978.5,592.4 976.7,592.4 974.9,592.5 973.1,592.5 971.3,592.5 969.4,592.4 967.6,592.4 965.8,592.4 964.0,592.4 962.2,592.3 960.3,592.3 958.5,592.2 956.7,592.1 954.9,591.9 953.1,591.5 951.3,590.9 949.4,590.2 947.6,589.4 945.8,588.4 944.0,587.4 942.2,586.3 940.3,585.3 938.5,584.9 936.7,584.9 934.9,585.4 933.1,586.4 931.2,587.3 929.4,588.2 927.6,588.9 925.8,589.0 924.0,588.6 922.2,587.6 920.3,586.0 918.5,584.4 916.7,582.9 914.9,581.3 913.1,579.7 911.2,578.2 909.4,576.6 907.6,575.0 905.8,573.4 904.0,571.8 902.1,570.2 900.3,568.6 898.5,567.0 896.7,565.3 894.9,563.7 893.1,562.1 891.2,560.5 889.4,559.4 887.6,558.7 885.8,558.3 884.0,558.3 882.1,558.8 880.3,559.6 878.5,560.7 876.7,561.8 874.9,562.6 873.1,562.9 871.2,562.9 869.4,562.4 867.6,561.5 865.8,560.2 864.0,558.5 862.1,556.7 860.3,554.9 858.5,553.1 856.7,551.3 854.9,549.4 853.0,547.5 851.2,545.6 849.4,543.7 847.6,541.7 845.8,539.7 844.0,537.7 842.1,535.7 840.3,533.7 838.5,532.2 836.7,531.8 834.9,532.4 833.0,534.1 831.2,536.8 829.4,539.8 827.6,542.9 825.8,545.4 823.9,547.0 822.1,547.5 820.3,546.9 818.5,545.3 816.7,543.4 814.9,541.5 813.0,539.6 811.2,537.7 809.4,535.8 807.6,533.9 805.8,532.0 803.9,530.2 802.1,528.8 800.3,527.6 798.5,526.8 796.7,526.1 794.9,525.8 793.0,525.8 791.2,525.8 789.4,525.8 787.6,525.8 785.8,525.9 783.9,525.9 782.1,526.0 780.3,526.1 778.5,526.3 776.7,526.5 774.8,526.8 773.0,527.1 771.2,527.4 769.4,527.7 767.6,528.0 765.8,528.3 763.9,528.6 762.1,528.9 760.3,529.2 758.5,529.2 756.7,528.7 754.8,527.8 753.0,526.4 751.2,524.5 749.4,522.2 747.6,519.4 745.7,516.6 743.9,513.7 742.1,511.4 740.3,509.6 738.5,508.4 736.7,507.7 734.8,507.5 733.0,507.8 731.2,508.5 729.4,509.3 727.6,510.1 725.7,510.8 723.9,511.4 722.1,511.7 720.3,511.7 718.5,511.6 716.6,511.1 714.8,510.5 713.0,509.6 711.2,508.7 709.4,507.8 707.6,506.9 705.7,506.0 703.9,505.6 702.1,505.6 700.3,506.0 698.5,506.9 696.6,507.9 694.8,508.7 693.0,509.2 691.2,509.0 689.4,508.1 687.6,506.4 685.7,504.2 683.9,501.7 682.1,499.7 680.3,497.9 678.5,496.4 676.6,495.3 674.8,494.5 673.0,494.0 671.2,493.7 669.4,493.7 667.5,494.3 665.7,495.2 663.9,496.0 662.1,496.8 660.3,497.6 658.5,498.1 656.6,498.2 654.8,497.8 653.0,497.0 651.2,496.1 649.4,495.3 647.5,494.5 645.7,493.7 643.9,492.8 642.1,491.9 640.3,491.0 638.4,490.1 636.6,489.1 634.8,488.1 633.0,487.0 631.2,486.0 629.4,485.1 627.5,484.2 625.7,483.4 623.9,482.7 622.1,482.0 620.3,481.4 618.4,480.8 616.6,480.3 614.8,479.7 613.0,479.1 611.2,478.6 609.3,478.0 607.5,477.4 605.7,476.7 603.9,475.8 602.1,474.5 600.3,472.9 598.4,471.0 596.6,468.8 594.8,466.3 593.0,463.6 591.2,461.1 589.3,458.8 587.5,456.6 585.7,454.7 583.9,453.1 582.1,451.6 580.3,450.3 578.4,449.2 576.6,448.0 574.8,446.9 573.0,446.1 571.2,445.5 569.3,445.2 567.5,445.2 565.7,445.5 563.9,446.0 562.1,446.7 560.2,447.5 558.4,448.0 556.6,447.7 554.8,446.7 553.0,445.4 551.2,443.8 549.3,441.8 547.5,439.4 545.7,436.9 543.9,434.9 542.1,433.3 540.2,431.8 538.4,430.2 536.6,428.7 534.8,427.3 533.0,425.9 531.1,424.7 529.3,423.6 527.5,422.6 525.7,421.6 523.9,420.7 522.1,419.8 520.2,418.8 518.4,417.8 516.6,416.8 514.8,415.7 513.0,414.5 511.1,413.3 509.3,412.1 507.5,410.8 505.7,409.5 503.9,408.3 502.0,407.3 500.2,406.5 498.4,405.8 496.6,405.4 494.8,405.2 493.0,405.2 491.1,405.3 489.3,404.8 487.5,403.2 485.7,401.3 483.9,399.0 482.0,396.5 480.2,393.7 478.4,390.7 476.6,388.1 474.8,386.2 473.0,384.4 471.1,382.6 469.3,380.9 467.5,379.1 465.7,377.4 463.9,375.8 462.0,374.6 460.2,374.0 458.4,373.9 456.6,374.2 454.8,375.0 452.9,376.2 451.1,376.6 449.3,375.9 447.5,374.2 445.7,371.6 443.9,368.4 442.0,364.7 440.2,360.5 438.4,356.9 436.6,353.8 434.8,351.3 432.9,349.0 431.1,346.7 429.3,344.5 427.5,342.2 425.7,340.0 423.8,337.8 422.0,335.6 420.2,333.4 418.4,331.2 416.6,329.3 414.8,327.6 412.9,326.1 411.1,324.8 409.3,323.8 407.5,322.9 405.7,322.2 403.8,321.4 402.0,320.7 400.2,320.0 398.4,319.3 396.6,318.5 394.8,317.8 392.9,317.1 391.1,316.3 389.3,315.6 387.5,314.8 385.7,314.0 383.8,313.2 382.0,312.3 380.2,311.4 378.4,310.4 376.6,309.5 374.7,308.5 372.9,307.6 371.1,306.6 369.3,305.7 367.5,304.9 365.7,304.1 363.8,303.3 362.0,302.6 360.2,302.0 358.4,301.4 356.6,300.8 354.7,300.2 352.9,299.7 351.1,299.1 349.3,298.5 347.5,297.9 345.6,297.5 343.8,297.0 342.0,296.7 340.2,296.4 338.4,296.2 336.6,296.1 334.7,296.0 332.9,296.0 331.1,295.9 329.3,295.8 327.5,295.7 325.6,295.7 323.8,295.6 322.0,295.5 320.2,295.4 318.4,295.3 316.5,295.3 314.7,295.2 312.9,295.1 311.1,295.0 309.3,295.0 307.5,294.9 305.6,294.9 303.8,294.9 302.0,294.8"/>
<polyline fill="none" stroke="#1f77b4" stroke-width="8.20" stroke-linejoin="round" stroke-linecap="butt" points="302.0,296.0 303.8,295.3 305.6,292.2 307.5,294.9 309.3,293.7 311.1,295.1 312.9,292.3 314.7,295.7 316.5,292.3 318.4,295.8 320.2,292.7 322.0,295.9 323.8,294.4 325.6,296.7 327.5,292.5 329.3,296.6 331.1,294.5 332.9,294.7 334.7,293.8 336.6,296.0 338.4,298.7 340.2,296.6 342.0,290.8 343.8,296.4 345.6,293.1 347.5,298.9 349.3,295.3 351.1,301.9 352.9,294.4 354.7,302.6 356.6,297.1 358.4,300.7 360.2,297.5 362.0,303.0 363.8,296.7 365.7,295.1 367.5,300.1 369.3,307.3 371.1,302.3 372.9,310.3 374.7,304.7 376.6,310.5 378.4,304.6 380.2,309.4 382.0,317.2 383.8,315.9 385.7,306.4 387.5,314.9 389.3,310.9 391.1,315.6 392.9,311.4 394.8,318.2 396.6,316.0 398.4,321.1 400.2,314.1 402.0,322.8 403.8,314.3 405.7,323.3 407.5,317.9 409.3,322.1 411.1,318.5 412.9,317.8 414.8,322.5 416.6,328.6 418.4,327.4 420.2,333.0 422.0,327.0 423.8,347.0 425.7,336.6 427.5,332.0 429.3,332.9 431.1,349.4 432.9,343.7 434.8,349.4 436.6,339.4 438.4,354.0 440.2,334.8 442.0,369.1 443.9,369.7 445.7,376.9 447.5,357.6 449.3,383.1 451.1,391.0 452.9,379.8 454.8,363.1 456.6,375.6 458.4,360.4 460.2,376.0 462.0,375.4 463.9,378.1 465.7,372.1 467.5,378.1 469.3,366.7 471.1,377.9 473.0,372.5 474.8,392.2 476.6,380.0 478.4,403.8 480.2,372.9 482.0,367.5 483.9,381.6 485.7,377.4 487.5,387.1 489.3,418.0 491.1,392.0 493.0,404.7 494.8,415.2 496.6,406.8 498.4,380.3 500.2,412.2 502.0,385.1 503.9,407.7 505.7,402.2 507.5,411.7 509.3,400.2 511.1,413.5 513.0,423.7 514.8,413.4 516.6,400.1 518.4,414.3 520.2,409.5 522.1,424.2 523.9,400.7 525.7,427.8 527.5,404.4 529.3,426.2 531.1,405.4 533.0,395.9 534.8,408.9 536.6,437.9 538.4,406.4 540.2,434.0 542.1,407.5 543.9,441.2 545.7,403.4 547.5,442.9 549.3,462.0 551.2,443.7 553.0,422.9 554.8,457.3 556.6,432.3 558.4,452.8 560.2,416.3 562.1,443.7 563.9,432.6 565.7,459.2 567.5,418.9 569.3,407.2 571.2,424.9 573.0,453.0 574.8,423.1 576.6,446.7 578.4,417.4 580.3,454.9 582.1,435.8 583.9,466.3 585.7,437.2 587.5,427.1 589.3,445.0 591.2,460.1 593.0,443.4 594.8,462.3 596.6,483.3 598.4,477.2 600.3,456.9 602.1,482.9 603.9,471.0 605.7,476.8 607.5,467.2 609.3,481.7 611.2,463.1 613.0,477.9 614.8,464.5 616.6,476.1 618.4,467.3 620.3,477.2 622.1,470.5 623.9,488.0 625.7,466.9 627.5,485.8 629.4,490.4 631.2,487.7 633.0,476.5 634.8,494.9 636.6,474.2 638.4,490.3 640.3,474.0 642.1,488.9 643.9,498.9 645.7,494.0 647.5,480.7 649.4,500.1 651.2,480.8 653.0,501.7 654.8,490.3 656.6,492.4 658.5,479.7 660.3,474.0 662.1,486.4 663.9,511.7 665.7,459.8 667.5,499.7 669.4,506.0 671.2,490.0 673.0,478.0 674.8,490.6 676.6,503.2 678.5,503.3 680.3,479.7 682.1,505.6 683.9,485.7 685.7,504.8 687.6,523.1 689.4,517.5 691.2,491.0 693.0,510.8 694.8,494.3 696.6,511.7 698.5,486.2 700.3,483.9 702.1,487.2 703.9,512.5 705.7,488.2 707.6,507.5 709.4,499.1 711.2,513.9 713.0,497.9 714.8,512.2 716.6,495.3 718.5,512.5 720.3,496.7 722.1,512.2 723.9,520.2 725.7,515.3 727.6,497.0 729.4,508.2 731.2,496.1 733.0,512.7 734.8,514.5 736.7,513.7 738.5,483.9 740.3,514.0 742.1,491.2 743.9,521.9 745.7,507.0 747.6,524.3 749.4,516.4 751.2,537.3 753.0,522.2 754.8,513.7 756.7,523.2 758.5,530.8 760.3,517.9 762.1,530.2 763.9,518.2 765.8,530.8 767.6,506.4 769.4,529.5 771.2,510.0 773.0,533.9 774.8,512.1 776.7,521.5 778.5,512.6 780.3,499.5 782.1,518.4 783.9,537.3 785.8,504.7 787.6,531.7 789.4,510.6 791.2,531.4 793.0,510.5 794.9,521.8 796.7,534.4 798.5,524.3 800.3,505.2 802.1,527.2 803.9,522.2 805.8,530.4 807.6,529.2 809.4,536.4 811.2,525.1 813.0,541.7 814.9,542.9 816.7,545.8 818.5,535.8 820.3,542.6 822.1,531.7 823.9,551.2 825.8,527.9 827.6,542.4 829.4,562.8 831.2,533.7 833.0,495.3 834.9,534.9 836.7,540.1 838.5,535.8 840.3,507.9 842.1,541.4 844.0,518.6 845.8,534.8 847.6,521.8 849.4,551.7 851.2,533.0 853.0,527.9 854.9,529.3 856.7,557.1 858.5,538.6 860.3,563.2 862.1,548.3 864.0,562.6 865.8,542.0 867.6,563.0 869.4,550.4 871.2,547.8 873.1,555.9 874.9,572.8 876.7,548.7 878.5,565.4 880.3,547.5 882.1,562.8 884.0,537.7 885.8,536.4 887.6,566.0 889.4,560.6 891.2,552.4 893.1,560.2 894.9,546.5 896.7,570.7 898.5,553.9 900.3,567.1 902.1,557.5 904.0,581.1 905.8,557.5 907.6,558.5 909.4,565.1 911.2,581.8 913.1,572.2 914.9,588.2 916.7,564.9 918.5,582.3 920.3,559.4 922.2,600.6 924.0,607.6 925.8,588.3 927.6,556.6 929.4,593.6 931.2,592.5 933.1,581.4 934.9,558.5 936.7,590.7 938.5,573.4 940.3,578.7 942.2,553.9 944.0,597.2 945.8,551.4 947.6,599.1 949.4,571.6 951.3,597.1 953.1,547.2 954.9,588.4 956.7,611.4 958.5,599.4 960.3,574.3 962.2,593.9 964.0,567.6 965.8,597.2 967.6,603.8 969.4,595.7 971.3,566.1 973.1,599.1 974.9,573.9 976.7,589.3 978.5,576.9 980.4,594.6 982.2,572.3 984.0,595.9 985.8,570.2 987.6,556.6 989.4,570.4 991.3,607.6 993.1,565.9 994.9,604.4 996.7,565.6 998.5,594.9 1000.4,611.4 1002.2,588.9 1004.0,554.7 1005.8,597.0 1007.6,578.2 1009.4,600.6 1011.3,580.4 1013.1,601.9 1014.9,581.2 1016.7,568.0 1018.5,579.0 1020.4,587.0 1022.2,581.8 1024.0,595.7 1025.8,577.5 1027.6,573.7 1029.5,573.3 1031.3,600.0 1033.1,578.8 1034.9,600.8 1036.7,567.2 1038.5,605.9 1040.4,615.2 1042.2,593.1 1044.0,562.3 1045.8,609.5 1047.6,582.3 1049.5,614.4 1051.3,579.4 1053.1,622.8 1054.9,588.8 1056.7,577.4 1058.6,582.7 1060.4,611.3 1062.2,593.2 1064.0,622.8 1065.8,598.7 1067.6,618.9 1069.5,592.6 1071.3,616.2 1073.1,622.8 1074.9,619.4 1076.7,591.9 1078.6,629.3 1080.4,584.8 1082.2,643.6 1084.0,580.2 1085.8,568.0 1087.7,583.6 1089.5,617.1 1091.3,583.9 1093.1,611.4 1094.9,585.0 1096.7,566.1 1098.6,578.7 1100.4,607.6 1102.2,584.8 1104.0,595.8 1105.8,589.6 1107.7,609.9 1109.5,585.7 1111.3,581.2 1113.1,590.6 1114.9,619.0 1116.7,577.6 1118.6,605.6 1120.4,578.1 1122.2,573.7 1124.0,584.2 1125.8,607.6 1127.7,580.6 1129.5,618.1 1131.3,599.7 1133.1,617.3 1134.9,585.4 1136.8,609.2 1138.6,651.2 1140.4,619.3 1142.2,577.4 1144.0,618.1 1145.8,599.3 1147.7,634.8 1149.5,645.5 1151.3,638.2 1153.1,592.6 1154.9,640.9 1156.8,610.7 1158.6,623.1 1160.4,602.8 1162.2,613.4 1164.0,643.6 1165.9,623.0 1167.7,556.6 1169.5,602.4 1171.3,597.5 1173.1,621.6 1174.9,589.5 1176.8,618.8 1178.6,592.4 1180.4,615.5 1182.2,590.7 1184.0,585.0 1185.9,600.0 1187.7,634.1 1189.5,603.4 1191.3,622.2 1193.1,611.6 1195.0,628.6 1196.8,641.7 1198.6,631.6 1200.4,600.2 1202.2,621.4 1204.0,609.4 1205.9,625.7 1207.7,602.3 1209.5,629.3 1211.3,602.8 1213.1,590.7 1215.0,605.2 1216.8,634.1 1218.6,604.4 1220.4,631.1 1222.2,617.0 1224.0,625.4 1225.9,619.4 1227.7,631.8 1229.5,613.4 1231.3,634.5 1233.1,643.6 1235.0,634.3 1236.8,610.7 1238.6,629.9 1240.4,599.9 1242.2,628.9 1244.1,641.7 1245.9,630.6 1247.7,592.6 1249.5,622.4 1251.3,611.8 1253.1,629.8 1255.0,605.2 1256.8,636.7 1258.6,634.1 1260.4,633.1 1262.2,560.4 1264.1,572.8 1265.9,622.9 1267.7,648.7 1269.5,629.3 1271.3,643.5 1273.2,626.1 1275.0,643.5 1276.8,631.0 1278.6,654.9 1280.4,633.3 1282.2,624.8 1284.1,624.7 1285.9,651.0 1287.7,634.8 1289.5,655.9 1291.3,622.3 1293.2,663.4 1295.0,633.0 1296.8,683.3 1298.6,604.4 1300.4,602.1 1302.2,617.4 1304.1,655.2 1305.9,599.0 1307.7,649.0 1309.5,604.4 1311.3,649.2 1313.2,618.9 1315.0,585.0 1316.8,594.8 1318.6,675.8 1320.4,624.4 1322.3,655.1 1324.1,653.0 1325.9,647.9 1327.7,622.9 1329.5,653.5 1331.3,632.7 1333.2,661.1 1335.0,668.2 1336.8,659.4 1338.6,615.3 1340.4,657.7 1342.3,647.0 1344.1,676.6 1345.9,629.6 1347.7,659.6 1349.5,657.7 1351.4,662.1 1353.2,696.6 1355.0,676.7 1356.8,645.6 1358.6,680.5 1360.4,655.9 1362.3,671.5 1364.1,650.8 1365.9,665.4 1367.7,647.6 1369.5,678.1 1371.4,638.6 1373.2,670.6 1375.0,647.8 1376.8,621.0 1378.6,644.6 1380.5,687.1 1382.3,638.0 1384.1,670.7 1385.9,651.6 1387.7,681.4 1389.5,658.0 1391.4,645.6 1393.2,651.6 1395.0,675.6 1396.8,646.8 1398.6,683.8 1400.5,653.0 1402.3,672.3 1404.1,687.1 1405.9,659.6 1407.7,626.7 1409.5,674.8 1411.4,645.0 1413.2,681.1 1415.0,654.1 1416.8,684.9 1418.6,657.4 1420.5,692.2 1422.3,674.3 1424.1,684.2 1425.9,657.0 1427.7,682.8 1429.6,704.2 1431.4,692.8 1433.2,662.8 1435.0,690.4 1436.8,634.2 1438.6,685.9 1440.5,698.5 1442.3,684.4 1444.1,671.0 1445.9,687.4 1447.7,661.8 1449.6,686.3 1451.4,702.3 1453.2,696.4 1455.0,668.3 1456.8,698.1 1458.7,668.3 1460.5,695.0 1462.3,678.0 1464.1,700.8 1465.9,669.2 1467.7,707.7 1469.6,674.3 1471.4,703.3 1473.2,682.6 1475.0,668.3 1476.8,697.4 1478.7,726.9 1480.5,680.8 1482.3,700.8 1484.1,685.4 1485.9,710.6 1487.8,690.6 1489.6,717.4 1491.4,702.7 1493.2,691.0 1495.0,691.6 1496.8,708.4 1498.7,701.3 1500.5,705.1 1502.3,701.9 1504.1,711.9 1505.9,689.7 1507.8,712.2 1509.6,695.3 1511.4,689.1 1513.2,697.7 1515.0,717.4 1516.8,690.1 1518.7,718.7 1520.5,699.0 1522.3,707.8 1524.1,687.4 1525.9,721.5 1527.8,672.1 1529.6,720.0 1531.4,736.3 1533.2,728.5 1535.0,702.3 1536.9,727.3 1538.7,698.6 1540.5,734.8 1542.3,740.1 1544.1,721.1 1545.9,691.5 1547.8,713.6 1549.6,690.9 1551.4,720.6 1553.2,673.1 1555.0,721.2 1556.9,679.9 1558.7,662.6 1560.5,693.2 1562.3,708.9 1564.1,691.6 1566.0,713.1 1567.8,699.2 1569.6,705.7 1571.4,698.4 1573.2,694.8 1575.0,704.9 1576.9,721.2 1578.7,696.4 1580.5,718.9 1582.3,730.3 1584.1,713.1 1586.0,705.4 1587.8,723.9 1589.6,692.1 1591.4,723.6 1593.2,693.9 1595.1,719.9 1596.9,691.6 1598.7,743.4 1600.5,699.5 1602.3,673.7 1604.1,699.5 1606.0,745.5 1607.8,693.4 1609.6,734.0 1611.4,707.2 1613.2,714.4 1615.1,694.7 1616.9,688.8 1618.7,694.0 1620.5,734.1 1622.3,693.8 1624.1,727.8 1626.0,683.2 1627.8,730.6 1629.6,749.3 1631.4,713.1 1633.2,666.1 1635.1,731.9 1636.9,687.7 1638.7,730.4 1640.5,696.4 1642.3,751.8 1644.2,753.0 1646.0,739.3 1647.8,709.6 1649.6,741.3 1651.4,732.5 1653.2,757.7 1655.1,734.9 1656.9,777.7 1658.7,743.1 1660.5,734.2 1662.3,740.1 1664.2,765.1 1666.0,735.5 1667.8,764.3 1669.6,779.6 1671.4,777.4 1673.3,719.1 1675.1,755.2 1676.9,725.0 1678.7,764.4 1680.5,746.6 1682.3,771.7 1684.2,731.8 1686.0,763.6 1687.8,722.9 1689.6,761.7 1691.4,768.2 1693.3,776.5 1695.1,753.8 1696.9,794.7 1698.7,760.8 1700.5,757.0 1702.3,758.2 1704.2,778.2 1706.0,755.9 1707.8,767.8 1709.6,736.1 1711.4,779.3 1713.3,787.1 1715.1,771.7 1716.9,753.1 1718.7,783.3 1720.5,755.9 1722.4,745.6 1724.2,748.0 1726.0,777.5 1727.8,756.9 1729.6,778.1 1731.4,767.9 1733.3,794.7 1735.1,774.2 1736.9,770.2 1738.7,787.1 1740.5,776.3 1742.4,688.8 1744.2,702.8 1746.0,761.7 1747.8,780.9 1749.6,747.3 1751.5,775.0 1753.3,744.4 1755.1,763.4 1756.9,730.5 1758.7,764.1 1760.5,792.8 1762.4,775.6 1764.2,798.5 1766.0,790.3 1767.8,741.8 1769.6,782.0 1771.5,754.0 1773.3,801.5 1775.1,761.6 1776.9,794.1 1778.7,754.5 1780.6,809.8 1782.4,778.4 1784.2,755.1 1786.0,755.3 1787.8,784.8 1789.6,769.2 1791.5,798.4 1793.3,761.5 1795.1,799.8 1796.9,771.2 1798.7,806.1 1800.6,768.4 1802.4,757.0 1804.2,779.0 1806.0,789.9 1807.8,774.5 1809.6,790.8 1811.5,779.7 1813.3,802.0 1815.1,768.3 1816.9,801.6 1818.7,821.2 1820.6,801.5 1822.4,780.2 1824.2,797.2 1826.0,778.9 1827.8,803.4 1829.7,771.1 1831.5,768.3 1833.3,782.7 1835.1,806.1 1836.9,784.0 1838.7,810.8 1840.6,784.0 1842.4,801.6 1844.2,776.2 1846.0,793.9 1847.8,777.0 1849.7,768.3 1851.5,792.7 1853.3,817.4 1855.1,776.3 1856.9,798.2 1858.8,781.9 1860.6,810.7 1862.4,786.8 1864.2,813.4 1866.0,783.5 1867.8,810.0 1869.7,821.2 1871.5,807.4 1873.3,785.6 1875.1,803.5 1876.9,788.7 1878.8,816.4 1880.6,783.7 1882.4,813.6 1884.2,791.4 1886.0,774.0 1887.9,782.8 1889.7,809.7 1891.5,781.5 1893.3,807.6 1895.1,784.5 1896.9,815.5 1898.8,786.7 1900.6,774.0 1902.4,778.6 1904.2,806.3 1906.0,785.8 1907.9,802.7 1909.7,785.4 1911.5,821.2 1913.3,780.6 1915.1,770.2 1916.9,782.3 1918.8,817.0 1920.6,803.0 1922.4,830.7 1924.2,849.6 1926.0,832.0 1927.9,802.4 1929.7,844.0 1931.5,815.9 1933.3,836.3 1935.1,814.3 1937.0,798.6 1938.8,813.4 1940.6,835.9 1942.4,818.8 1944.2,836.3 1946.0,814.0 1947.9,817.5 1949.7,821.8 1951.5,842.0 1953.3,812.2 1955.1,798.6 1957.0,801.5 1958.8,828.8 1960.6,825.7 1962.4,842.3 1964.2,834.6 1966.1,821.3 1967.9,830.4 1969.7,853.4 1971.5,818.8 1973.3,841.7 1975.1,830.1 1977.0,830.6 1978.8,814.1 1980.6,841.4 1982.4,843.9 1984.2,840.2 1986.1,806.2 1987.9,837.8 1989.7,821.0 1991.5,831.7 1993.3,809.1 1995.2,836.8 1997.0,808.4 1998.8,827.0 2000.6,811.7 2002.4,834.0 2004.2,802.4 2006.1,826.1 2007.9,840.1 2009.7,833.6 2011.5,815.3 2013.3,833.6 2015.2,819.0 2017.0,834.7 2018.8,821.3 2020.6,836.2 2022.4,843.9 2024.2,835.0 2026.1,829.8 2027.9,843.3 2029.7,818.5 2031.5,834.5 2033.3,816.7 2035.2,777.8 2037.0,786.8 2038.8,847.7 2040.6,816.4 2042.4,839.9 2044.3,822.3 2046.1,831.2 2047.9,816.2 2049.7,815.6 2051.5,822.7 2053.3,843.9 2055.2,821.5 2057.0,836.2 2058.8,827.6 2060.6,835.3 2062.4,825.7 2064.3,836.5 2066.1,828.7 2067.9,843.7 2069.7,813.8 2071.5,842.8 2073.4,849.6 2075.2,838.9 2077.0,813.0 2078.8,835.9 2080.6,821.7 2082.4,810.0 2084.3,819.2 2086.1,840.1 2087.9,827.8 2089.7,843.5 2091.5,859.1 2093.4,848.3 2095.2,828.9 2097.0,853.2 2098.8,825.9 2100.6,846.4 2102.4,824.3 2104.3,811.9 2106.1,821.6 2107.9,847.7 2109.7,820.1 2111.5,828.6 2113.4,820.0 2115.2,837.5 2117.0,823.0 2118.8,806.2 2120.6,814.3 2122.5,847.7 2124.3,810.0 2126.1,831.4 2127.9,820.6 2129.7,827.6 2131.5,836.3 2133.4,837.8 2135.2,817.5 2137.0,834.4 2138.8,823.7 2140.6,838.9 2142.5,859.1 2144.3,841.1 2146.1,825.1 2147.9,852.3 2149.7,833.8 2151.6,847.2 2153.4,831.5 2155.2,847.4 2157.0,833.9 2158.8,855.3 2160.6,839.7 2162.5,828.9 2164.3,833.7 2166.1,851.4 2167.9,836.9 2169.7,847.4 2171.6,855.3 2173.4,847.8 2175.2,821.3 2177.0,854.9 2178.8,831.6 2180.7,836.1 2182.5,817.8 2184.3,852.6 2186.1,813.4 2187.9,846.8 2189.7,820.6 2191.6,834.1 2193.4,805.8 2195.2,798.6 2197.0,827.1 2198.8,851.5 2200.7,811.3 2202.5,853.8 2204.3,831.2 2206.1,843.1 2207.9,825.1 2209.7,843.6 2211.6,855.3 2213.4,846.0 2215.2,833.5 2217.0,853.2 2218.8,828.6 2220.7,846.2 2222.5,822.7 2224.3,841.8 2226.1,808.1 2227.9,841.2 2229.8,855.3 2231.6,870.4 2233.4,842.2 2235.2,828.9 2237.0,837.9 2238.8,856.8 2240.7,828.9 2242.5,852.7 2244.3,832.6 2246.1,842.5 2247.9,830.5 2249.8,841.6 2251.6,813.4 2253.4,842.1 2255.2,770.2 2257.0,779.9 2258.9,847.7 2260.7,839.7 2262.5,805.3 2264.3,847.9 2266.1,810.1 2267.9,866.6 2269.8,818.5 2271.6,794.8 2273.4,820.9 2275.2,835.8 2277.0,800.8 2278.9,836.3 2280.7,813.4 2282.5,806.2 2284.3,807.4 2286.1,831.1 2288.0,803.9 2289.8,818.8 2291.6,810.1 2293.4,745.6 2295.2,758.5 2297.0,832.6 2298.9,817.5 2300.7,827.0 2302.5,818.5"/>
<polyline fill="none" stroke="#ff7f0e" stroke-width="7.70" stroke-linejoin="round" stroke-linecap="butt" points="302.0,906.8 303.8,906.8 305.6,906.8 307.5,906.8 309.3,906.8 311.1,906.8 312.9,906.8 314.7,906.8 316.5,906.8 318.4,906.8 320.2,906.8 322.0,906.8 323.8,906.8 325.6,906.8 327.5,906.8 329.3,906.8 331.1,906.8 332.9,906.8 334.7,906.8 336.6,906.8 338.4,906.8 340.2,906.8 342.0,906.8 343.8,906.8 345.6,906.8 347.5,906.8 349.3,906.8 351.1,906.8 352.9,906.8 354.7,906.8 356.6,906.8 358.4,906.8 360.2,906.8 362.0,906.8 363.8,906.8 365.7,906.8 367.5,906.8 369.3,906.8 371.1,906.8 372.9,906.8 374.7,906.8 376.6,906.8 378.4,906.8 380.2,906.8 382.0,906.8 383.8,906.8 385.7,906.8 387.5,906.8 389.3,906.8 391.1,906.8 392.9,906.8 394.8,906.8 396.6,906.8 398.4,906.8 400.2,906.8 402.0,906.8 403.8,906.8 405.7,906.8 407.5,906.8 409.3,906.8 411.1,906.8 412.9,906.8 414.8,906.8 416.6,906.8 418.4,906.8 420.2,906.8 422.0,906.8 423.8,906.8 425.7,906.8 427.5,906.8 429.3,906.8 431.1,906.8 432.9,906.8 434.8,906.8 436.6,906.8 438.4,906.8 440.2,906.8 442.0,906.8 443.9,906.8 445.7,906.8 447.5,906.8 449.3,906.8 451.1,906.8 452.9,906.8 454.8,906.8 456.6,906.8 458.4,906.8 460.2,906.8 462.0,906.8 463.9,906.8 465.7,868.3 467.5,906.8 469.3,906.8 471.1,906.8 473.0,906.8 474.8,906.8 476.6,906.8 478.4,906.8 480.2,906.8 482.0,906.8 483.9,906.8 485.7,906.8 487.5,906.8 489.3,906.8 491.1,906.8 493.0,906.8 494.8,906.8 496.6,906.8 498.4,906.8 500.2,906.8 502.0,906.8 503.9,906.8 505.7,906.8 507.5,906.8 509.3,906.8 511.1,906.8 513.0,906.8 514.8,906.8 516.6,906.8 518.4,906.8 520.2,906.8 522.1,906.8 523.9,906.8 525.7,906.8 527.5,906.8 529.3,906.8 531.1,906.8 533.0,906.8 534.8,906.8 536.6,906.8 538.4,906.8 540.2,906.8 542.1,906.8 543.9,906.8 545.7,906.8 547.5,906.8 549.3,906.8 551.2,906.8 553.0,906.8 554.8,906.8 556.6,906.8 558.4,906.8 560.2,906.8 562.1,906.8 563.9,906.8 565.7,906.8 567.5,906.8 569.3,906.8 571.2,906.8 573.0,906.8 574.8,906.8 576.6,906.8 578.4,868.3 580.3,906.8 582.1,906.8 583.9,906.8 585.7,906.8 587.5,906.8 589.3,906.8 591.2,906.8 593.0,906.8 594.8,906.8 596.6,906.8 598.4,906.8 600.3,906.8 602.1,906.8 603.9,906.8 605.7,906.8 607.5,906.8 609.3,906.8 611.2,906.8 613.0,906.8 614.8,906.8 616.6,906.8 618.4,906.8 620.3,906.8 622.1,906.8 623.9,906.8 625.7,906.8 627.5,906.8 629.4,906.8 631.2,906.8 633.0,906.8 634.8,906.8 636.6,906.8 638.4,906.8 640.3,906.8 642.1,906.8 643.9,906.8 645.7,906.8 647.5,906.8 649.4,906.8 651.2,906.8 653.0,906.8 654.8,906.8 656.6,906.8 658.5,906.8 660.3,906.8 662.1,906.8 663.9,906.8 665.7,906.8 667.5,906.8 669.4,906.8 671.2,906.8 673.0,906.8 674.8,906.8 676.6,906.8 678.5,906.8 680.3,906.8 682.1,906.8 683.9,906.8 685.7,906.8 687.6,906.8 689.4,906.8 691.2,906.8 693.0,906.8 694.8,906.8 696.6,906.8 698.5,906.8 700.3,906.8 702.1,906.8 703.9,906.8 705.7,906.8 707.6,906.8 709.4,906.8 711.2,906.8 713.0,906.8 714.8,906.8 716.6,906.8 718.5,906.8 720.3,906.8 722.1,906.8 723.9,906.8 725.7,906.8 727.6,906.8 729.4,906.8 731.2,906.8 733.0,906.8 734.8,906.8 736.7,906.8 738.5,906.8 740.3,868.3 742.1,868.3 743.9,906.8 745.7,906.8 747.6,906.8 749.4,906.8 751.2,906.8 753.0,906.8 754.8,906.8 756.7,906.8 758.5,906.8 760.3,906.8 762.1,906.8 763.9,906.8 765.8,906.8 767.6,906.8 769.4,906.8 771.2,906.8 773.0,906.8 774.8,906.8 776.7,906.8 778.5,906.8 780.3,906.8 782.1,906.8 783.9,906.8 785.8,906.8 787.6,906.8 789.4,906.8 791.2,906.8 793.0,906.8 794.9,906.8 796.7,906.8 798.5,906.8 800.3,906.8 802.1,906.8 803.9,906.8 805.8,906.8 807.6,906.8 809.4,906.8 811.2,906.8 813.0,906.8 814.9,906.8 816.7,906.8 818.5,906.8 820.3,906.8 822.1,906.8 823.9,906.8 825.8,906.8 827.6,906.8 829.4,906.8 831.2,906.8 833.0,906.8 834.9,906.8 836.7,906.8 838.5,906.8 840.3,906.8 842.1,906.8 844.0,906.8 845.8,906.8 847.6,906.8 849.4,906.8 851.2,906.8 853.0,906.8 854.9,906.8 856.7,906.8 858.5,906.8 860.3,906.8 862.1,906.8 864.0,906.8 865.8,906.8 867.6,906.8 869.4,906.8 871.2,906.8 873.1,906.8 874.9,906.8 876.7,906.8 878.5,906.8 880.3,906.8 882.1,906.8 884.0,906.8 885.8,906.8 887.6,906.8 889.4,906.8 891.2,906.8 893.1,906.8 894.9,906.8 896.7,906.8 898.5,906.8 900.3,906.8 902.1,906.8 904.0,906.8 905.8,906.8 907.6,906.8 909.4,906.8 911.2,906.8 913.1,906.8 914.9,906.8 916.7,906.8 918.5,906.8 920.3,906.8 922.2,906.8 924.0,906.8 925.8,906.8 927.6,906.8 929.4,906.8 931.2,906.8 933.1,906.8 934.9,906.8 936.7,906.8 938.5,906.8 940.3,906.8 942.2,906.8 944.0,906.8 945.8,906.8 947.6,906.8 949.4,868.3 951.3,868.3 953.1,906.8 954.9,906.8 956.7,906.8 958.5,906.8 960.3,906.8 962.2,906.8 964.0,906.8 965.8,906.8 967.6,906.8 969.4,906.8 971.3,906.8 973.1,906.8 974.9,906.8 976.7,906.8 978.5,906.8 980.4,906.8 982.2,906.8 984.0,906.8 985.8,906.8 987.6,906.8 989.4,906.8 991.3,906.8 993.1,906.8 994.9,906.8 996.7,906.8 998.5,906.8 1000.4,906.8 1002.2,906.8 1004.0,906.8 1005.8,906.8 1007.6,906.8 1009.4,906.8 1011.3,906.8 1013.1,906.8 1014.9,868.3 1016.7,906.8 1018.5,906.8 1020.4,906.8 1022.2,906.8 1024.0,906.8 1025.8,906.8 1027.6,906.8 1029.5,906.8 1031.3,906.8 1033.1,906.8 1034.9,906.8 1036.7,906.8 1038.5,906.8 1040.4,906.8 1042.2,906.8 1044.0,906.8 1045.8,906.8 1047.6,906.8 1049.5,906.8 1051.3,906.8 1053.1,906.8 1054.9,906.8 1056.7,906.8 1058.6,906.8 1060.4,906.8 1062.2,906.8 1064.0,906.8 1065.8,906.8 1067.6,906.8 1069.5,906.8 1071.3,906.8 1073.1,906.8 1074.9,906.8 1076.7,906.8 1078.6,906.8 1080.4,906.8 1082.2,906.8 1084.0,906.8 1085.8,906.8 1087.7,906.8 1089.5,906.8 1091.3,906.8 1093.1,906.8 1094.9,906.8 1096.7,906.8 1098.6,906.8 1100.4,906.8 1102.2,906.8 1104.0,906.8 1105.8,906.8 1107.7,906.8 1109.5,906.8 1111.3,906.8 1113.1,906.8 1114.9,906.8 1116.7,906.8 1118.6,906.8 1120.4,906.8 1122.2,906.8 1124.0,906.8 1125.8,906.8 1127.7,906.8 1129.5,906.8 1131.3,906.8 1133.1,906.8 1134.9,906.8 1136.8,906.8 1138.6,906.8 1140.4,906.8 1142.2,906.8 1144.0,906.8 1145.8,906.8 1147.7,906.8 1149.5,906.8 1151.3,906.8 1153.1,906.8 1154.9,906.8 1156.8,906.8 1158.6,906.8 1160.4,906.8 1162.2,906.8 1164.0,906.8 1165.9,906.8 1167.7,906.8 1169.5,906.8 1171.3,906.8 1173.1,906.8 1174.9,906.8 1176.8,868.3 1178.6,868.3 1180.4,906.8 1182.2,906.8 1184.0,906.8 1185.9,906.8 1187.7,906.8 1189.5,906.8 1191.3,906.8 1193.1,906.8 1195.0,906.8 1196.8,906.8 1198.6,906.8 1200.4,906.8 1202.2,906.8 1204.0,906.8 1205.9,906.8 1207.7,906.8 1209.5,906.8 1211.3,906.8 1213.1,906.8 1215.0,906.8 1216.8,906.8 1218.6,906.8 1220.4,906.8 1222.2,906.8 1224.0,906.8 1225.9,906.8 1227.7,906.8 1229.5,906.8 1231.3,906.8 1233.1,906.8 1235.0,906.8 1236.8,906.8 1238.6,906.8 1240.4,906.8 1242.2,906.8 1244.1,906.8 1245.9,906.8 1247.7,906.8 1249.5,906.8 1251.3,906.8 1253.1,906.8 1255.0,906.8 1256.8,906.8 1258.6,906.8 1260.4,906.8 1262.2,906.8 1264.1,906.8 1265.9,906.8 1267.7,906.8 1269.5,906.8 1271.3,906.8 1273.2,906.8 1275.0,906.8 1276.8,906.8 1278.6,906.8 1280.4,906.8 1282.2,906.8 1284.1,906.8 1285.9,906.8 1287.7,906.8 1289.5,906.8 1291.3,906.8 1293.2,906.8 1295.0,906.8 1296.8,906.8 1298.6,906.8 1300.4,906.8 1302.2,906.8 1304.1,906.8 1305.9,906.8 1307.7,906.8 1309.5,906.8 1311.3,906.8 1313.2,906.8 1315.0,906.8 1316.8,906.8 1318.6,906.8 1320.4,906.8 1322.3,906.8 1324.1,906.8 1325.9,906.8 1327.7,906.8 1329.5,906.8 1331.3,906.8 1333.2,906.8 1335.0,906.8 1336.8,906.8 1338.6,906.8 1340.4,906.8 1342.3,906.8 1344.1,906.8 1345.9,906.8 1347.7,906.8 1349.5,906.8 1351.4,906.8 1353.2,906.8 1355.0,906.8 1356.8,906.8 1358.6,906.8 1360.4,906.8 1362.3,906.8 1364.1,906.8 1365.9,906.8 1367.7,906.8 1369.5,906.8 1371.4,906.8 1373.2,906.8 1375.0,906.8 1376.8,906.8 1378.6,906.8 1380.5,906.8 1382.3,906.8 1384.1,906.8 1385.9,906.8 1387.7,906.8 1389.5,906.8 1391.4,906.8 1393.2,906.8 1395.0,906.8 1396.8,906.8 1398.6,906.8 1400.5,906.8 1402.3,906.8 1404.1,906.8 1405.9,906.8 1407.7,906.8 1409.5,906.8 1411.4,906.8 1413.2,906.8 1415.0,906.8 1416.8,906.8 1418.6,906.8 1420.5,906.8 1422.3,906.8 1424.1,906.8 1425.9,906.8 1427.7,906.8 1429.6,906.8 1431.4,906.8 1433.2,906.8 1435.0,906.8 1436.8,906.8 1438.6,906.8 1440.5,906.8 1442.3,906.8 1444.1,906.8 1445.9,906.8 1447.7,906.8 1449.6,906.8 1451.4,906.8 1453.2,906.8 1455.0,906.8 1456.8,906.8 1458.7,906.8 1460.5,906.8 1462.3,906.8 1464.1,906.8 1465.9,906.8 1467.7,906.8 1469.6,906.8 1471.4,906.8 1473.2,906.8 1475.0,906.8 1476.8,906.8 1478.7,906.8 1480.5,906.8 1482.3,906.8 1484.1,906.8 1485.9,906.8 1487.8,906.8 1489.6,906.8 1491.4,906.8 1493.2,906.8 1495.0,906.8 1496.8,906.8 1498.7,906.8 1500.5,906.8 1502.3,906.8 1504.1,906.8 1505.9,906.8 1507.8,906.8 1509.6,906.8 1511.4,906.8 1513.2,906.8 1515.0,906.8 1516.8,906.8 1518.7,906.8 1520.5,906.8 1522.3,906.8 1524.1,906.8 1525.9,906.8 1527.8,906.8 1529.6,906.8 1531.4,906.8 1533.2,906.8 1535.0,906.8 1536.9,906.8 1538.7,906.8 1540.5,906.8 1542.3,906.8 1544.1,906.8 1545.9,906.8 1547.8,906.8 1549.6,906.8 1551.4,906.8 1553.2,906.8 1555.0,906.8 1556.9,906.8 1558.7,906.8 1560.5,906.8 1562.3,906.8 1564.1,906.8 1566.0,906.8 1567.8,906.8 1569.6,906.8 1571.4,906.8 1573.2,906.8 1575.0,906.8 1576.9,906.8 1578.7,906.8 1580.5,906.8 1582.3,906.8 1584.1,906.8 1586.0,906.8 1587.8,906.8 1589.6,906.8 1591.4,906.8 1593.2,906.8 1595.1,906.8 1596.9,906.8 1598.7,906.8 1600.5,906.8 1602.3,906.8 1604.1,906.8 1606.0,906.8 1607.8,906.8 1609.6,906.8 1611.4,906.8 1613.2,906.8 1615.1,906.8 1616.9,906.8 1618.7,906.8 1620.5,906.8 1622.3,906.8 1624.1,906.8 1626.0,906.8 1627.8,906.8 1629.6,906.8 1631.4,906.8 1633.2,906.8 1635.1,906.8 1636.9,906.8 1638.7,906.8 1640.5,906.8 1642.3,906.8 1644.2,906.8 1646.0,906.8 1647.8,906.8 1649.6,906.8 1651.4,906.8 1653.2,906.8 1655.1,906.8 1656.9,906.8 1658.7,906.8 1660.5,906.8 1662.3,906.8 1664.2,906.8 1666.0,906.8 1667.8,906.8 1669.6,906.8 1671.4,906.8 1673.3,906.8 1675.1,906.8 1676.9,906.8 1678.7,906.8 1680.5,906.8 1682.3,906.8 1684.2,906.8 1686.0,906.8 1687.8,906.8 1689.6,906.8 1691.4,906.8 1693.3,906.8 1695.1,906.8 1696.9,906.8 1698.7,906.8 1700.5,906.8 1702.3,906.8 1704.2,906.8 1706.0,906.8 1707.8,906.8 1709.6,906.8 1711.4,906.8 1713.3,906.8 1715.1,906.8 1716.9,906.8 1718.7,906.8 1720.5,906.8 1722.4,906.8 1724.2,906.8 1726.0,906.8 1727.8,906.8 1729.6,906.8 1731.4,906.8 1733.3,906.8 1735.1,906.8 1736.9,906.8 1738.7,906.8 1740.5,868.3 1742.4,868.3 1744.2,906.8 1746.0,906.8 1747.8,906.8 1749.6,906.8 1751.5,906.8 1753.3,906.8 1755.1,906.8 1756.9,906.8 1758.7,906.8 1760.5,868.3 1762.4,906.8 1764.2,906.8 1766.0,906.8 1767.8,906.8 1769.6,906.8 1771.5,906.8 1773.3,906.8 1775.1,906.8 1776.9,906.8 1778.7,906.8 1780.6,906.8 1782.4,906.8 1784.2,906.8 1786.0,906.8 1787.8,906.8 1789.6,906.8 1791.5,906.8 1793.3,906.8 1795.1,906.8 1796.9,906.8 1798.7,906.8 1800.6,906.8 1802.4,906.8 1804.2,906.8 1806.0,906.8 1807.8,906.8 1809.6,868.3 1811.5,868.3 1813.3,868.3 1815.1,906.8 1816.9,906.8 1818.7,906.8 1820.6,906.8 1822.4,906.8 1824.2,906.8 1826.0,906.8 1827.8,906.8 1829.7,906.8 1831.5,906.8 1833.3,906.8 1835.1,906.8 1836.9,906.8 1838.7,906.8 1840.6,906.8 1842.4,906.8 1844.2,906.8 1846.0,906.8 1847.8,906.8 1849.7,906.8 1851.5,906.8 1853.3,906.8 1855.1,906.8 1856.9,906.8 1858.8,906.8 1860.6,906.8 1862.4,906.8 1864.2,906.8 1866.0,906.8 1867.8,906.8 1869.7,906.8 1871.5,906.8 1873.3,906.8 1875.1,906.8 1876.9,906.8 1878.8,906.8 1880.6,906.8 1882.4,906.8 1884.2,906.8 1886.0,906.8 1887.9,906.8 1889.7,906.8 1891.5,906.8 1893.3,906.8 1895.1,906.8 1896.9,906.8 1898.8,906.8 1900.6,906.8 1902.4,906.8 1904.2,906.8 1906.0,906.8 1907.9,906.8 1909.7,906.8 1911.5,906.8 1913.3,906.8 1915.1,906.8 1916.9,906.8 1918.8,906.8 1920.6,906.8 1922.4,906.8 1924.2,906.8 1926.0,906.8 1927.9,906.8 1929.7,906.8 1931.5,906.8 1933.3,906.8 1935.1,906.8 1937.0,906.8 1938.8,906.8 1940.6,906.8 1942.4,906.8 1944.2,906.8 1946.0,906.8 1947.9,906.8 1949.7,906.8 1951.5,906.8 1953.3,906.8 1955.1,906.8 1957.0,906.8 1958.8,906.8 1960.6,906.8 1962.4,906.8 1964.2,906.8 1966.1,906.8 1967.9,906.8 1969.7,906.8 1971.5,906.8 1973.3,906.8 1975.1,906.8 1977.0,906.8 1978.8,906.8 1980.6,906.8 1982.4,906.8 1984.2,906.8 1986.1,906.8 1987.9,906.8 1989.7,906.8 1991.5,906.8 1993.3,906.8 1995.2,906.8 1997.0,906.8 1998.8,906.8 2000.6,906.8 2002.4,906.8 2004.2,906.8 2006.1,906.8 2007.9,906.8 2009.7,906.8 2011.5,906.8 2013.3,906.8 2015.2,906.8 2017.0,906.8 2018.8,906.8 2020.6,906.8 2022.4,906.8 2024.2,906.8 2026.1,906.8 2027.9,906.8 2029.7,906.8 2031.5,906.8 2033.3,906.8 2035.2,868.3 2037.0,906.8 2038.8,906.8 2040.6,906.8 2042.4,906.8 2044.3,906.8 2046.1,906.8 2047.9,906.8 2049.7,906.8 2051.5,906.8 2053.3,906.8 2055.2,906.8 2057.0,906.8 2058.8,906.8 2060.6,906.8 2062.4,906.8 2064.3,906.8 2066.1,906.8 2067.9,906.8 2069.7,906.8 2071.5,906.8 2073.4,906.8 2075.2,906.8 2077.0,906.8 2078.8,906.8 2080.6,906.8 2082.4,906.8 2084.3,906.8 2086.1,906.8 2087.9,906.8 2089.7,906.8 2091.5,906.8 2093.4,906.8 2095.2,906.8 2097.0,906.8 2098.8,906.8 2100.6,906.8 2102.4,906.8 2104.3,906.8 2106.1,906.8 2107.9,906.8 2109.7,906.8 2111.5,906.8 2113.4,906.8 2115.2,906.8 2117.0,906.8 2118.8,906.8 2120.6,906.8 2122.5,906.8 2124.3,906.8 2126.1,906.8 2127.9,906.8 2129.7,906.8 2131.5,906.8 2133.4,906.8 2135.2,906.8 2137.0,906.8 2138.8,906.8 2140.6,906.8 2142.5,906.8 2144.3,906.8 2146.1,906.8 2147.9,906.8 2149.7,906.8 2151.6,906.8 2153.4,906.8 2155.2,906.8 2157.0,906.8 2158.8,906.8 2160.6,906.8 2162.5,906.8 2164.3,906.8 2166.1,906.8 2167.9,868.3 2169.7,868.3 2171.6,906.8 2173.4,906.8 2175.2,906.8 2177.0,906.8 2178.8,906.8 2180.7,906.8 2182.5,906.8 2184.3,906.8 2186.1,906.8 2187.9,906.8 2189.7,906.8 2191.6,906.8 2193.4,906.8 2195.2,906.8 2197.0,906.8 2198.8,906.8 2200.7,906.8 2202.5,906.8 2204.3,906.8 2206.1,906.8 2207.9,906.8 2209.7,906.8 2211.6,906.8 2213.4,906.8 2215.2,906.8 2217.0,906.8 2218.8,906.8 2220.7,906.8 2222.5,906.8 2224.3,906.8 2226.1,906.8 2227.9,906.8 2229.8,906.8 2231.6,906.8 2233.4,906.8 2235.2,906.8 2237.0,906.8 2238.8,906.8 2240.7,906.8 2242.5,906.8 2244.3,906.8 2246.1,906.8 2247.9,906.8 2249.8,906.8 2251.6,906.8 2253.4,906.8 2255.2,906.8 2257.0,868.3 2258.9,906.8 2260.7,906.8 2262.5,906.8 2264.3,906.8 2266.1,906.8 2267.9,906.8 2269.8,906.8 2271.6,906.8 2273.4,906.8 2275.2,906.8 2277.0,906.8 2278.9,906.8 2280.7,906.8 2282.5,906.8 2284.3,906.8 2286.1,906.8 2288.0,906.8 2289.8,906.8 2291.6,906.8 2293.4,906.8 2295.2,906.8 2297.0,906.8 2298.9,906.8 2300.7,906.8 2302.5,906.8"/>
</g>
<line x1="302.0" y1="941.0" x2="302.0" y2="961.0" stroke="#000" stroke-width="4.1"/>
<line x1="665.3" y1="941.0" x2="665.3" y2="961.0" stroke="#000" stroke-width="4.1"/>
<line x1="1028.2" y1="941.0" x2="1028.2" y2="961.0" stroke="#000" stroke-width="4.1"/>
<line x1="1394.8" y1="941.0" x2="1394.8" y2="961.0" stroke="#000" stroke-width="4.1"/>
<line x1="1758.0" y1="941.0" x2="1758.0" y2="961.0" stroke="#000" stroke-width="4.1"/>
<line x1="2120.3" y1="941.0" x2="2120.3" y2="961.0" stroke="#000" stroke-width="4.1"/>
<line x1="282.0" y1="296.0" x2="302.0" y2="296.0" stroke="#000" stroke-width="4.1"/>
<line x1="282.0" y1="416.8" x2="302.0" y2="416.8" stroke="#000" stroke-width="4.1"/>
<line x1="282.0" y1="542.1" x2="302.0" y2="542.1" stroke="#000" stroke-width="4.1"/>
<line x1="282.0" y1="663.2" x2="302.0" y2="663.2" stroke="#000" stroke-width="4.1"/>
<line x1="282.0" y1="783.8" x2="302.0" y2="783.8" stroke="#000" stroke-width="4.1"/>
<line x1="282.0" y1="908.8" x2="302.0" y2="908.8" stroke="#000" stroke-width="4.1"/>
<rect x="302.0" y="263.5" width="2000.5" height="677.5" fill="none" stroke="#000" stroke-width="4.1"/>
<rect x="2006.5" y="292.3" width="268" height="180.8" rx="9" ry="9" fill="#fff" fill-opacity="0.8" stroke="#d6d6d6" stroke-width="3.6"/>
<line x1="2022" y1="333.9" x2="2143.3" y2="333.9" stroke="#1f77b4" stroke-width="7.7"/>
<line x1="2022" y1="418.7" x2="2143.3" y2="418.7" stroke="#ff7f0e" stroke-width="7.7"/>
<text x="2182" y="353.6" font-size="61" textLength="65" lengthAdjust="spacingAndGlyphs">G1</text>
<text x="2181" y="438.8" font-size="61" textLength="66" lengthAdjust="spacingAndGlyphs">X1</text>
</g>
<g>
<line x1="665.3" y1="1074.5" x2="665.3" y2="1751.3" stroke="#b0b0b0" stroke-width="4.1"/>
<line x1="1028.2" y1="1074.5" x2="1028.2" y2="1751.3" stroke="#b0b0b0" stroke-width="4.1"/>
<line x1="1394.8" y1="1074.5" x2="1394.8" y2="1751.3" stroke="#b0b0b0" stroke-width="4.1"/>
<line x1="1758.0" y1="1074.5" x2="1758.0" y2="1751.3" stroke="#b0b0b0" stroke-width="4.1"/>
<line x1="2120.3" y1="1074.5" x2="2120.3" y2="1751.3" stroke="#b0b0b0" stroke-width="4.1"/>
<line x1="302.0" y1="1138.6" x2="2302.5" y2="1138.6" stroke="#b0b0b0" stroke-width="4.1"/>
<line x1="302.0" y1="1332.4" x2="2302.5" y2="1332.4" stroke="#b0b0b0" stroke-width="4.1"/>
<line x1="302.0" y1="1525.8" x2="2302.5" y2="1525.8" stroke="#b0b0b0" stroke-width="4.1"/>
<line x1="302.0" y1="1722.8" x2="2302.5" y2="1722.8" stroke="#b0b0b0" stroke-width="4.1"/>
<g clip-path="url(#c2)">
<polygon fill="#1f77b4" stroke="#1f77b4" stroke-width="3" stroke-linejoin="round" points="305.6,1705.5 307.5,1702.8 309.3,1699.4 311.1,1695.6 312.9,1688.5 314.7,1680.6 316.5,1672.2 318.4,1663.1 320.2,1653.5 322.0,1644.3 323.8,1635.7 325.6,1627.6 327.5,1620.1 329.3,1613.2 331.1,1606.8 332.9,1601.0 334.7,1595.5 336.6,1590.3 338.4,1585.3 340.2,1580.6 342.0,1576.2 343.8,1572.0 345.6,1568.1 347.5,1564.1 349.3,1560.2 351.1,1556.2 352.9,1552.2 354.7,1548.2 356.6,1544.2 358.4,1540.2 360.2,1536.0 362.0,1531.8 363.8,1527.5 365.7,1523.1 367.5,1518.5 369.3,1514.0 371.1,1509.5 372.9,1505.0 374.7,1500.6 376.6,1496.3 378.4,1492.1 380.2,1487.9 382.0,1483.4 383.8,1478.4 385.7,1473.0 387.5,1467.3 389.3,1461.1 391.1,1454.5 392.9,1447.4 394.8,1440.4 396.6,1434.1 398.4,1428.5 400.2,1423.8 402.0,1419.7 403.8,1416.4 405.7,1413.9 407.5,1412.1 409.3,1409.9 411.1,1407.1 412.9,1403.9 414.8,1400.2 416.6,1396.0 418.4,1391.4 420.2,1386.4 422.0,1381.7 423.8,1377.2 425.7,1373.0 427.5,1369.1 429.3,1365.5 431.1,1361.8 432.9,1358.0 434.8,1353.8 436.6,1349.2 438.4,1344.2 440.2,1338.9 442.0,1333.1 443.9,1327.2 445.7,1321.3 447.5,1315.6 449.3,1310.0 451.1,1304.5 452.9,1299.1 454.8,1293.9 456.6,1288.7 458.4,1283.6 460.2,1278.6 462.0,1273.5 463.9,1268.5 465.7,1263.4 467.5,1258.4 469.3,1253.4 471.1,1248.4 473.0,1243.4 474.8,1238.8 476.6,1234.8 478.4,1231.3 480.2,1228.4 482.0,1226.2 483.9,1224.5 485.7,1223.4 487.5,1222.5 489.3,1221.4 491.1,1220.1 493.0,1218.6 494.8,1216.7 496.6,1214.6 498.4,1212.3 500.2,1209.6 502.0,1206.9 503.9,1204.2 505.7,1201.5 507.5,1198.7 509.3,1195.4 511.1,1191.8 513.0,1187.8 514.8,1184.9 516.6,1183.2 518.4,1182.6 520.2,1183.3 522.1,1185.6 523.9,1189.0 525.7,1192.2 527.5,1193.7 529.3,1193.5 531.1,1191.6 533.0,1188.0 534.8,1182.8 536.6,1176.6 538.4,1170.5 540.2,1164.7 542.1,1159.0 543.9,1153.6 545.7,1148.3 547.5,1144.0 549.3,1140.8 551.2,1138.7 553.0,1137.8 554.8,1138.1 556.6,1139.4 558.4,1141.9 560.2,1145.0 562.1,1148.5 563.9,1152.2 565.7,1156.3 567.5,1160.6 569.3,1165.3 571.2,1169.8 573.0,1173.9 574.8,1177.7 576.6,1181.0 578.4,1183.2 580.3,1183.9 582.1,1183.3 583.9,1181.6 585.7,1178.8 587.5,1175.0 589.3,1170.0 591.2,1164.7 593.0,1160.2 594.8,1156.9 596.6,1154.8 598.4,1154.0 600.3,1154.3 602.1,1155.9 603.9,1158.6 605.7,1161.8 607.5,1165.1 609.3,1168.6 611.2,1172.2 613.0,1176.0 614.8,1180.0 616.6,1184.1 618.4,1188.4 620.3,1192.0 622.1,1194.7 623.9,1196.5 625.7,1197.5 627.5,1197.5 629.4,1196.7 631.2,1195.0 633.0,1193.8 634.8,1193.1 636.6,1193.1 638.4,1193.7 640.3,1194.9 642.1,1196.8 643.9,1199.3 645.7,1202.0 647.5,1204.8 649.4,1207.7 651.2,1210.8 653.0,1213.0 654.8,1213.6 656.6,1212.7 658.5,1210.2 660.3,1206.1 662.1,1201.9 663.9,1197.6 665.7,1194.0 667.5,1191.8 669.4,1191.1 671.2,1191.9 673.0,1194.0 674.8,1196.2 676.6,1198.3 678.5,1199.7 680.3,1200.0 682.1,1199.5 683.9,1198.0 685.7,1195.6 687.6,1192.2 689.4,1187.9 691.2,1183.5 693.0,1179.9 694.8,1177.2 696.6,1175.4 698.5,1174.4 700.3,1174.3 702.1,1175.1 703.9,1176.8 705.7,1178.5 707.6,1180.5 709.4,1182.6 711.2,1185.0 713.0,1187.6 714.8,1190.4 716.6,1193.2 718.5,1195.1 720.3,1196.1 722.1,1196.0 723.9,1194.9 725.7,1193.2 727.6,1191.2 729.4,1189.2 731.2,1187.9 733.0,1187.3 734.8,1187.4 736.7,1188.2 738.5,1189.3 740.3,1190.4 742.1,1191.4 743.9,1192.6 745.7,1193.9 747.6,1195.4 749.4,1197.0 751.2,1198.8 753.0,1200.8 754.8,1203.0 756.7,1205.3 758.5,1207.3 760.3,1208.7 762.1,1209.6 763.9,1210.0 765.8,1209.7 767.6,1208.9 769.4,1207.6 771.2,1205.9 773.0,1204.2 774.8,1202.8 776.7,1202.2 778.5,1202.5 780.3,1203.6 782.1,1205.5 783.9,1208.3 785.8,1211.7 787.6,1215.3 789.4,1218.4 791.2,1221.2 793.0,1223.5 794.9,1225.4 796.7,1227.0 798.5,1228.3 800.3,1229.7 802.1,1231.0 803.9,1232.4 805.8,1233.7 807.6,1234.9 809.4,1236.2 811.2,1237.4 813.0,1238.6 814.9,1239.8 816.7,1241.0 818.5,1242.2 820.3,1243.4 822.1,1244.6 823.9,1245.8 825.8,1247.0 827.6,1248.2 829.4,1249.4 831.2,1250.7 833.0,1251.7 834.9,1252.1 836.7,1251.9 838.5,1251.1 840.3,1249.6 842.1,1247.6 844.0,1245.6 845.8,1244.3 847.6,1244.0 849.4,1244.8 851.2,1246.6 853.0,1249.4 854.9,1253.3 856.7,1256.5 858.5,1258.5 860.3,1259.3 862.1,1258.9 864.0,1257.5 865.8,1255.7 867.6,1253.6 869.4,1252.1 871.2,1251.4 873.1,1251.6 874.9,1252.6 876.7,1254.1 878.5,1255.7 880.3,1257.3 882.1,1259.1 884.0,1260.9 885.8,1262.9 887.6,1265.0 889.4,1267.2 891.2,1269.5 893.1,1271.6 894.9,1272.7 896.7,1272.8 898.5,1272.0 900.3,1270.1 902.1,1267.2 904.0,1263.4 905.8,1259.0 907.6,1255.0 909.4,1251.4 911.2,1248.3 913.1,1245.5 914.9,1243.0 916.7,1241.0 918.5,1239.2 920.3,1237.4 922.2,1235.6 924.0,1233.9 925.8,1232.1 927.6,1230.4 929.4,1228.7 931.2,1227.0 933.1,1226.0 934.9,1225.5 936.7,1225.6 938.5,1226.4 940.3,1227.7 942.2,1229.6 944.0,1232.0 945.8,1234.4 947.6,1236.8 949.4,1239.2 951.3,1241.7 953.1,1244.4 954.9,1247.2 956.7,1250.2 958.5,1253.4 960.3,1256.8 962.2,1260.3 964.0,1263.7 965.8,1266.8 967.6,1269.5 969.4,1271.8 971.3,1273.8 973.1,1275.4 974.9,1276.6 976.7,1277.7 978.5,1278.8 980.4,1279.6 982.2,1279.9 984.0,1279.7 985.8,1279.0 987.6,1277.7 989.4,1275.9 991.3,1273.5 993.1,1270.9 994.9,1268.3 996.7,1265.6 998.5,1263.0 1000.4,1260.4 1002.2,1258.4 1004.0,1257.3 1005.8,1256.9 1007.6,1257.4 1009.4,1258.6 1011.3,1260.6 1013.1,1263.4 1014.9,1266.3 1016.7,1268.9 1018.5,1271.3 1020.4,1273.4 1022.2,1275.2 1024.0,1276.7 1025.8,1277.9 1027.6,1278.8 1029.5,1279.7 1031.3,1280.6 1033.1,1281.5 1034.9,1282.3 1036.7,1283.2 1038.5,1283.9 1040.4,1284.6 1042.2,1285.1 1044.0,1285.6 1045.8,1286.0 1047.6,1286.3 1049.5,1286.5 1051.3,1286.7 1053.1,1286.8 1054.9,1286.9 1056.7,1286.8 1058.6,1286.7 1060.4,1286.5 1062.2,1286.2 1064.0,1285.9 1065.8,1285.7 1067.6,1285.8 1069.5,1286.3 1071.3,1287.1 1073.1,1288.2 1074.9,1289.6 1076.7,1291.4 1078.6,1293.4 1080.4,1295.2 1082.2,1296.4 1084.0,1297.2 1085.8,1297.5 1087.7,1297.3 1089.5,1296.7 1091.3,1295.5 1093.1,1294.1 1094.9,1292.7 1096.7,1291.3 1098.6,1289.9 1100.4,1288.4 1102.2,1286.9 1104.0,1285.2 1105.8,1283.4 1107.7,1281.5 1109.5,1279.4 1111.3,1277.2 1113.1,1275.0 1114.9,1273.4 1116.7,1272.4 1118.6,1271.9 1120.4,1272.0 1122.2,1272.7 1124.0,1273.9 1125.8,1275.6 1127.7,1277.3 1129.5,1278.9 1131.3,1280.6 1133.1,1282.3 1134.9,1284.0 1136.8,1285.6 1138.6,1287.1 1140.4,1288.5 1142.2,1289.8 1144.0,1291.0 1145.8,1292.1 1147.7,1293.1 1149.5,1294.0 1151.3,1294.7 1153.1,1295.2 1154.9,1295.3 1156.8,1295.1 1158.6,1294.6 1160.4,1293.8 1162.2,1292.7 1164.0,1291.8 1165.9,1291.2 1167.7,1291.0 1169.5,1291.1 1171.3,1291.5 1173.1,1292.3 1174.9,1293.4 1176.8,1294.5 1178.6,1295.9 1180.4,1297.4 1182.2,1299.2 1184.0,1301.2 1185.9,1303.4 1187.7,1305.9 1189.5,1308.6 1191.3,1311.3 1193.1,1313.7 1195.0,1316.0 1196.8,1317.9 1198.6,1319.7 1200.4,1321.1 1202.2,1322.4 1204.0,1323.3 1205.9,1324.3 1207.7,1325.2 1209.5,1326.0 1211.3,1326.5 1213.1,1326.9 1215.0,1327.0 1216.8,1327.0 1218.6,1326.7 1220.4,1326.2 1222.2,1325.7 1224.0,1325.2 1225.9,1324.6 1227.7,1324.1 1229.5,1323.6 1231.3,1323.0 1233.1,1322.3 1235.0,1321.5 1236.8,1320.6 1238.6,1319.6 1240.4,1318.4 1242.2,1317.1 1244.1,1315.8 1245.9,1314.4 1247.7,1313.0 1249.5,1312.1 1251.3,1311.6 1253.1,1311.5 1255.0,1311.8 1256.8,1312.6 1258.6,1313.7 1260.4,1315.2 1262.2,1316.8 1264.1,1318.3 1265.9,1319.8 1267.7,1321.3 1269.5,1322.7 1271.3,1324.1 1273.2,1325.4 1275.0,1326.6 1276.8,1327.8 1278.6,1329.0 1280.4,1330.1 1282.2,1330.8 1284.1,1331.0 1285.9,1330.7 1287.7,1329.9 1289.5,1328.6 1291.3,1326.8 1293.2,1324.5 1295.0,1322.2 1296.8,1320.2 1298.6,1318.4 1300.4,1316.8 1302.2,1315.4 1304.1,1314.2 1305.9,1313.2 1307.7,1312.3 1309.5,1311.4 1311.3,1310.5 1313.2,1309.6 1315.0,1308.9 1316.8,1308.4 1318.6,1308.2 1320.4,1308.2 1322.3,1308.5 1324.1,1309.0 1325.9,1309.8 1327.7,1310.7 1329.5,1311.7 1331.3,1312.9 1333.2,1314.2 1335.0,1315.7 1336.8,1317.3 1338.6,1319.2 1340.4,1321.2 1342.3,1323.2 1344.1,1325.3 1345.9,1327.3 1347.7,1329.4 1349.5,1331.2 1351.4,1332.9 1353.2,1334.5 1355.0,1335.9 1356.8,1337.2 1358.6,1338.3 1360.4,1339.4 1362.3,1340.2 1364.1,1340.3 1365.9,1339.7 1367.7,1338.4 1369.5,1336.5 1371.4,1334.3 1373.2,1331.9 1375.0,1329.7 1376.8,1327.9 1378.6,1326.7 1380.5,1326.0 1382.3,1325.8 1384.1,1325.7 1385.9,1325.7 1387.7,1325.6 1389.5,1325.5 1391.4,1325.3 1393.2,1325.1 1395.0,1324.9 1396.8,1324.6 1398.6,1324.2 1400.5,1323.8 1402.3,1323.4 1404.1,1323.2 1405.9,1323.5 1407.7,1324.2 1409.5,1325.3 1411.4,1326.9 1413.2,1328.9 1415.0,1331.3 1416.8,1333.5 1418.6,1335.1 1420.5,1336.2 1422.3,1336.7 1424.1,1336.6 1425.9,1336.0 1427.7,1335.1 1429.6,1334.3 1431.4,1333.8 1433.2,1333.6 1435.0,1333.7 1436.8,1334.1 1438.6,1334.7 1440.5,1335.4 1442.3,1336.0 1444.1,1336.5 1445.9,1336.9 1447.7,1337.2 1449.6,1337.3 1451.4,1337.4 1453.2,1337.3 1455.0,1337.1 1456.8,1336.8 1458.7,1336.6 1460.5,1336.8 1462.3,1337.6 1464.1,1339.0 1465.9,1340.9 1467.7,1343.4 1469.6,1346.5 1471.4,1350.1 1473.2,1353.2 1475.0,1355.5 1476.8,1357.2 1478.7,1358.1 1480.5,1358.3 1482.3,1357.7 1484.1,1356.4 1485.9,1355.1 1487.8,1353.8 1489.6,1352.5 1491.4,1351.5 1493.2,1350.8 1495.0,1350.5 1496.8,1350.6 1498.7,1351.0 1500.5,1351.8 1502.3,1353.0 1504.1,1354.2 1505.9,1355.5 1507.8,1356.8 1509.6,1358.0 1511.4,1358.9 1513.2,1359.5 1515.0,1359.9 1516.8,1360.0 1518.7,1359.9 1520.5,1359.5 1522.3,1359.0 1524.1,1358.9 1525.9,1359.2 1527.8,1359.9 1529.6,1360.9 1531.4,1362.4 1533.2,1364.2 1535.0,1366.4 1536.9,1368.6 1538.7,1370.5 1540.5,1371.9 1542.3,1372.8 1544.1,1373.1 1545.9,1372.8 1547.8,1372.1 1549.6,1370.7 1551.4,1369.1 1553.2,1367.5 1555.0,1366.3 1556.9,1365.4 1558.7,1364.8 1560.5,1364.7 1562.3,1364.8 1564.1,1365.3 1566.0,1366.2 1567.8,1367.1 1569.6,1367.9 1571.4,1368.8 1573.2,1369.6 1575.0,1370.2 1576.9,1370.8 1578.7,1371.3 1580.5,1371.7 1582.3,1372.2 1584.1,1372.5 1586.0,1372.9 1587.8,1373.5 1589.6,1374.1 1591.4,1374.6 1593.2,1375.2 1595.1,1375.8 1596.9,1376.3 1598.7,1376.7 1600.5,1377.0 1602.3,1377.2 1604.1,1377.4 1606.0,1377.4 1607.8,1377.5 1609.6,1377.5 1611.4,1377.5 1613.2,1377.7 1615.1,1377.9 1616.9,1378.3 1618.7,1378.8 1620.5,1379.4 1622.3,1380.0 1624.1,1380.8 1626.0,1381.5 1627.8,1382.3 1629.6,1383.1 1631.4,1384.0 1633.2,1385.0 1635.1,1386.1 1636.9,1387.2 1638.7,1388.4 1640.5,1389.6 1642.3,1390.9 1644.2,1392.1 1646.0,1393.2 1647.8,1394.2 1649.6,1395.0 1651.4,1395.6 1653.2,1396.2 1655.1,1396.5 1656.9,1396.9 1658.7,1397.4 1660.5,1398.3 1662.3,1399.5 1664.2,1400.9 1666.0,1402.6 1667.8,1404.6 1669.6,1406.5 1671.4,1407.9 1673.3,1408.5 1675.1,1408.5 1676.9,1407.8 1678.7,1406.5 1680.5,1404.6 1682.3,1402.9 1684.2,1401.7 1686.0,1401.1 1687.8,1401.1 1689.6,1401.6 1691.4,1402.6 1693.3,1404.2 1695.1,1405.7 1696.9,1407.2 1698.7,1408.6 1700.5,1409.6 1702.3,1410.3 1704.2,1410.7 1706.0,1410.7 1707.8,1410.4 1709.6,1409.7 1711.4,1408.9 1713.3,1408.2 1715.1,1407.9 1716.9,1408.1 1718.7,1408.6 1720.5,1409.5 1722.4,1410.8 1724.2,1412.5 1726.0,1414.4 1727.8,1416.0 1729.6,1416.8 1731.4,1416.9 1733.3,1416.1 1735.1,1414.6 1736.9,1412.4 1738.7,1410.0 1740.5,1407.5 1742.4,1405.6 1744.2,1404.1 1746.0,1403.1 1747.8,1402.6 1749.6,1402.4 1751.5,1402.3 1753.3,1402.1 1755.1,1402.1 1756.9,1402.4 1758.7,1403.0 1760.5,1403.9 1762.4,1405.0 1764.2,1406.4 1766.0,1408.1 1767.8,1409.9 1769.6,1411.7 1771.5,1413.6 1773.3,1415.5 1775.1,1417.4 1776.9,1419.3 1778.7,1421.3 1780.6,1423.3 1782.4,1425.3 1784.2,1427.3 1786.0,1429.1 1787.8,1430.7 1789.6,1432.2 1791.5,1433.5 1793.3,1434.7 1795.1,1435.8 1796.9,1436.8 1798.7,1437.7 1800.6,1438.2 1802.4,1438.5 1804.2,1438.6 1806.0,1438.3 1807.8,1437.8 1809.6,1437.2 1811.5,1436.8 1813.3,1436.7 1815.1,1436.9 1816.9,1437.5 1818.7,1438.4 1820.6,1439.7 1822.4,1441.1 1824.2,1441.9 1826.0,1441.9 1827.8,1441.2 1829.7,1439.7 1831.5,1437.6 1833.3,1434.8 1835.1,1431.9 1836.9,1429.5 1838.7,1427.7 1840.6,1426.4 1842.4,1425.7 1844.2,1425.5 1846.0,1425.7 1847.8,1425.9 1849.7,1426.2 1851.5,1426.6 1853.3,1427.2 1855.1,1428.1 1856.9,1429.1 1858.8,1430.3 1860.6,1431.8 1862.4,1433.4 1864.2,1435.0 1866.0,1436.6 1867.8,1438.2 1869.7,1439.8 1871.5,1441.4 1873.3,1443.0 1875.1,1444.7 1876.9,1446.4 1878.8,1448.1 1880.6,1449.8 1882.4,1451.5 1884.2,1452.9 1886.0,1453.8 1887.9,1454.4 1889.7,1454.6 1891.5,1454.4 1893.3,1453.8 1895.1,1452.9 1896.9,1451.9 1898.8,1451.1 1900.6,1450.6 1902.4,1450.3 1904.2,1450.2 1906.0,1450.4 1907.9,1450.8 1909.7,1451.5 1911.5,1452.1 1913.3,1453.4 1915.1,1455.3 1916.9,1457.8 1918.8,1460.9 1920.6,1464.7 1922.4,1469.1 1924.2,1474.1 1926.0,1478.1 1927.9,1481.3 1929.7,1483.7 1931.5,1485.1 1933.3,1485.7 1935.1,1485.6 1937.0,1485.2 1938.8,1485.2 1940.6,1485.6 1942.4,1486.5 1944.2,1487.8 1946.0,1489.6 1947.9,1491.5 1949.7,1493.2 1951.5,1494.9 1953.3,1496.3 1955.1,1497.6 1957.0,1498.8 1958.8,1499.9 1960.6,1500.7 1962.4,1501.3 1964.2,1501.8 1966.1,1502.1 1967.9,1502.2 1969.7,1502.1 1971.5,1501.8 1973.3,1501.5 1975.1,1501.2 1977.0,1500.8 1978.8,1500.4 1980.6,1500.0 1982.4,1499.6 1984.2,1499.1 1986.1,1498.6 1987.9,1498.0 1989.7,1497.4 1991.5,1496.7 1993.3,1495.8 1995.2,1494.9 1997.0,1493.7 1998.8,1492.5 2000.6,1491.2 2002.4,1489.8 2004.2,1488.4 2006.1,1487.1 2007.9,1485.6 2009.7,1483.9 2011.5,1482.0 2013.3,1479.9 2015.2,1477.6 2017.0,1475.1 2018.8,1472.3 2020.6,1470.0 2022.4,1468.4 2024.2,1467.4 2026.1,1467.2 2027.9,1467.7 2029.7,1468.9 2031.5,1471.1 2033.3,1473.9 2035.2,1477.1 2037.0,1480.7 2038.8,1484.6 2040.6,1488.9 2042.4,1493.5 2044.3,1498.2 2046.1,1502.2 2047.9,1505.6 2049.7,1508.4 2051.5,1510.6 2053.3,1512.1 2055.2,1513.0 2057.0,1513.3 2058.8,1513.3 2060.6,1513.1 2062.4,1512.7 2064.3,1512.0 2066.1,1511.1 2067.9,1509.9 2069.7,1508.6 2071.5,1507.3 2073.4,1506.5 2075.2,1506.1 2077.0,1506.2 2078.8,1506.6 2080.6,1507.6 2082.4,1509.0 2084.3,1510.7 2086.1,1512.3 2087.9,1513.5 2089.7,1514.1 2091.5,1514.3 2093.4,1513.9 2095.2,1513.0 2097.0,1511.7 2098.8,1510.0 2100.6,1508.6 2102.4,1507.5 2104.3,1506.6 2106.1,1506.0 2107.9,1505.7 2109.7,1505.7 2111.5,1505.8 2113.4,1506.0 2115.2,1506.4 2117.0,1507.0 2118.8,1507.8 2120.6,1508.8 2122.5,1509.9 2124.3,1511.2 2126.1,1512.7 2127.9,1514.2 2129.7,1515.6 2131.5,1517.2 2133.4,1518.7 2135.2,1520.3 2137.0,1521.9 2138.8,1523.5 2140.6,1524.8 2142.5,1525.6 2144.3,1525.9 2146.1,1525.7 2147.9,1524.9 2149.7,1523.6 2151.6,1521.8 2153.4,1519.7 2155.2,1517.7 2157.0,1515.7 2158.8,1513.8 2160.6,1511.8 2162.5,1509.9 2164.3,1508.4 2166.1,1507.5 2167.9,1507.0 2169.7,1507.0 2171.6,1507.6 2173.4,1508.6 2175.2,1510.1 2177.0,1511.6 2178.8,1513.1 2180.7,1514.0 2182.5,1514.4 2184.3,1514.3 2186.1,1513.5 2187.9,1512.2 2189.7,1510.2 2191.6,1507.8 2193.4,1505.8 2195.2,1504.6 2197.0,1503.9 2198.8,1503.9 2200.7,1504.6 2202.5,1505.9 2204.3,1507.7 2206.1,1509.6 2207.9,1511.5 2209.7,1513.1 2211.6,1514.3 2213.4,1515.3 2215.2,1515.8 2217.0,1516.1 2218.8,1516.0 2220.7,1515.6 2222.5,1515.8 2224.3,1516.4 2226.1,1517.6 2227.9,1519.3 2229.8,1520.8 2231.6,1521.5 2233.4,1521.5 2235.2,1520.1 2237.0,1517.4 2238.8,1513.4 2240.7,1508.1 2242.5,1502.5 2244.3,1497.4 2246.1,1492.7 2247.9,1488.5 2249.8,1484.7 2251.6,1481.8 2253.4,1479.7 2255.2,1478.3 2257.0,1477.3 2258.9,1476.8 2260.7,1476.8 2262.5,1477.3 2264.3,1477.8 2266.1,1478.2 2267.9,1478.4 2269.8,1478.4 2271.6,1478.1 2273.4,1477.7 2275.2,1477.1 2277.0,1476.3 2278.9,1475.5 2280.7,1474.9 2282.5,1474.5 2284.3,1474.2 2286.1,1474.2 2288.0,1474.4 2289.8,1475.3 2291.6,1476.9 2293.4,1479.1 2295.2,1481.7 2297.0,1484.3 2298.9,1485.8 2300.7,1487.7 2302.5,1489.6 2302.5,1498.8 2300.7,1497.9 2298.9,1496.9 2297.0,1496.2 2295.2,1494.9 2293.4,1493.6 2291.6,1492.6 2289.8,1491.8 2288.0,1491.6 2286.1,1492.0 2284.3,1492.8 2282.5,1493.9 2280.7,1495.4 2278.9,1497.2 2277.0,1499.4 2275.2,1501.6 2273.4,1503.6 2271.6,1505.2 2269.8,1506.5 2267.9,1507.5 2266.1,1508.1 2264.3,1508.4 2262.5,1508.4 2260.7,1508.5 2258.9,1508.9 2257.0,1509.7 2255.2,1510.9 2253.4,1512.5 2251.6,1514.6 2249.8,1517.4 2247.9,1520.9 2246.1,1524.8 2244.3,1529.0 2242.5,1533.7 2240.7,1538.7 2238.8,1543.4 2237.0,1547.0 2235.2,1549.4 2233.4,1550.6 2231.6,1550.6 2229.8,1549.9 2227.9,1548.4 2226.1,1546.7 2224.3,1545.4 2222.5,1544.5 2220.7,1544.1 2218.8,1544.0 2217.0,1543.9 2215.2,1543.6 2213.4,1543.1 2211.6,1542.5 2209.7,1541.7 2207.9,1540.8 2206.1,1539.7 2204.3,1538.7 2202.5,1537.6 2200.7,1536.6 2198.8,1535.7 2197.0,1534.9 2195.2,1534.2 2193.4,1533.6 2191.6,1533.0 2189.7,1532.6 2187.9,1532.2 2186.1,1531.9 2184.3,1531.7 2182.5,1531.6 2180.7,1531.6 2178.8,1531.7 2177.0,1531.8 2175.2,1531.9 2173.4,1532.1 2171.6,1532.4 2169.7,1532.9 2167.9,1533.6 2166.1,1534.5 2164.3,1535.5 2162.5,1536.8 2160.6,1538.2 2158.8,1539.6 2157.0,1541.2 2155.2,1542.9 2153.4,1544.8 2151.6,1546.8 2149.7,1548.6 2147.9,1549.9 2146.1,1550.6 2144.3,1550.6 2142.5,1549.8 2140.6,1548.3 2138.8,1546.1 2137.0,1543.7 2135.2,1541.5 2133.4,1539.6 2131.5,1538.1 2129.7,1536.8 2127.9,1535.7 2126.1,1535.0 2124.3,1534.4 2122.5,1533.8 2120.6,1533.4 2118.8,1533.0 2117.0,1532.8 2115.2,1532.6 2113.4,1532.6 2111.5,1532.6 2109.7,1532.7 2107.9,1532.8 2106.1,1533.0 2104.3,1533.2 2102.4,1533.4 2100.6,1533.7 2098.8,1534.1 2097.0,1534.5 2095.2,1534.7 2093.4,1534.6 2091.5,1534.1 2089.7,1533.4 2087.9,1532.4 2086.1,1531.2 2084.3,1529.6 2082.4,1527.9 2080.6,1526.6 2078.8,1525.6 2077.0,1524.9 2075.2,1524.5 2073.4,1524.5 2071.5,1524.9 2069.7,1525.5 2067.9,1526.3 2066.1,1527.0 2064.3,1527.8 2062.4,1528.6 2060.6,1529.4 2058.8,1530.3 2057.0,1531.1 2055.2,1532.0 2053.3,1532.4 2051.5,1532.2 2049.7,1531.5 2047.9,1530.3 2046.1,1528.5 2044.3,1526.1 2042.4,1523.2 2040.6,1520.4 2038.8,1517.7 2037.0,1515.2 2035.2,1512.9 2033.3,1510.8 2031.5,1508.9 2029.7,1507.2 2027.9,1506.1 2026.1,1505.2 2024.2,1504.7 2022.4,1504.4 2020.6,1504.4 2018.8,1504.8 2017.0,1505.3 2015.2,1505.9 2013.3,1506.6 2011.5,1507.4 2009.7,1508.3 2007.9,1509.2 2006.1,1510.2 2004.2,1511.3 2002.4,1512.3 2000.6,1513.4 1998.8,1514.4 1997.0,1515.4 1995.2,1516.2 1993.3,1517.1 1991.5,1517.8 1989.7,1518.4 1987.9,1519.0 1986.1,1519.5 1984.2,1520.1 1982.4,1520.6 1980.6,1521.2 1978.8,1521.8 1977.0,1522.5 1975.1,1523.1 1973.3,1523.9 1971.5,1524.6 1969.7,1525.2 1967.9,1525.6 1966.1,1525.6 1964.2,1525.3 1962.4,1524.7 1960.6,1523.8 1958.8,1522.6 1957.0,1521.1 1955.1,1519.5 1953.3,1517.7 1951.5,1515.9 1949.7,1513.9 1947.9,1511.9 1946.0,1509.7 1944.2,1507.8 1942.4,1506.4 1940.6,1505.5 1938.8,1505.1 1937.0,1505.3 1935.1,1506.1 1933.3,1506.7 1931.5,1506.8 1929.7,1506.1 1927.9,1504.7 1926.0,1502.6 1924.2,1499.7 1922.4,1496.1 1920.6,1492.7 1918.8,1489.8 1916.9,1487.1 1915.1,1484.9 1913.3,1483.0 1911.5,1481.5 1909.7,1480.3 1907.9,1479.1 1906.0,1478.1 1904.2,1477.1 1902.4,1476.2 1900.6,1475.5 1898.8,1474.8 1896.9,1474.2 1895.1,1473.8 1893.3,1473.3 1891.5,1472.8 1889.7,1472.2 1887.9,1471.5 1886.0,1470.8 1884.2,1470.1 1882.4,1469.2 1880.6,1468.3 1878.8,1467.5 1876.9,1466.6 1875.1,1465.6 1873.3,1464.7 1871.5,1463.7 1869.7,1462.7 1867.8,1461.7 1866.0,1460.7 1864.2,1459.6 1862.4,1458.6 1860.6,1457.6 1858.8,1456.7 1856.9,1456.1 1855.1,1455.6 1853.3,1455.4 1851.5,1455.4 1849.7,1455.6 1847.8,1456.0 1846.0,1456.4 1844.2,1456.8 1842.4,1457.3 1840.6,1457.8 1838.7,1458.3 1836.9,1458.9 1835.1,1459.6 1833.3,1460.2 1831.5,1460.7 1829.7,1461.0 1827.8,1461.0 1826.0,1460.7 1824.2,1460.2 1822.4,1459.5 1820.6,1458.6 1818.7,1457.7 1816.9,1457.0 1815.1,1456.4 1813.3,1455.9 1811.5,1455.6 1809.6,1455.4 1807.8,1455.4 1806.0,1455.3 1804.2,1455.2 1802.4,1455.1 1800.6,1454.9 1798.7,1454.7 1796.9,1454.4 1795.1,1454.1 1793.3,1453.8 1791.5,1453.2 1789.6,1452.5 1787.8,1451.6 1786.0,1450.5 1784.2,1449.2 1782.4,1447.7 1780.6,1446.1 1778.7,1444.5 1776.9,1443.0 1775.1,1441.6 1773.3,1440.2 1771.5,1438.9 1769.6,1437.8 1767.8,1436.6 1766.0,1435.6 1764.2,1434.5 1762.4,1433.5 1760.5,1432.6 1758.7,1431.7 1756.9,1430.9 1755.1,1430.1 1753.3,1429.4 1751.5,1428.7 1749.6,1428.1 1747.8,1427.4 1746.0,1427.1 1744.2,1427.2 1742.4,1427.9 1740.5,1429.0 1738.7,1430.6 1736.9,1432.3 1735.1,1433.9 1733.3,1435.0 1731.4,1435.5 1729.6,1435.4 1727.8,1434.7 1726.0,1433.4 1724.2,1431.8 1722.4,1430.5 1720.5,1429.5 1718.7,1428.9 1716.9,1428.7 1715.1,1428.9 1713.3,1429.4 1711.4,1430.4 1709.6,1431.5 1707.8,1432.3 1706.0,1432.7 1704.2,1432.7 1702.3,1432.2 1700.5,1431.3 1698.7,1429.9 1696.9,1428.1 1695.1,1426.2 1693.3,1424.2 1691.4,1422.2 1689.6,1420.8 1687.8,1420.1 1686.0,1420.2 1684.2,1421.0 1682.3,1422.5 1680.5,1424.8 1678.7,1427.3 1676.9,1429.1 1675.1,1430.2 1673.3,1430.5 1671.4,1430.1 1669.6,1428.8 1667.8,1426.8 1666.0,1424.6 1664.2,1422.6 1662.3,1420.8 1660.5,1419.2 1658.7,1417.8 1656.9,1416.6 1655.1,1415.6 1653.2,1414.7 1651.4,1413.7 1649.6,1412.8 1647.8,1412.0 1646.0,1411.1 1644.2,1410.3 1642.3,1409.5 1640.5,1408.7 1638.7,1407.9 1636.9,1407.1 1635.1,1406.3 1633.2,1405.5 1631.4,1404.7 1629.6,1403.8 1627.8,1403.0 1626.0,1402.2 1624.1,1401.3 1622.3,1400.5 1620.5,1399.7 1618.7,1399.2 1616.9,1398.8 1615.1,1398.5 1613.2,1398.4 1611.4,1398.4 1609.6,1398.6 1607.8,1398.9 1606.0,1399.1 1604.1,1399.2 1602.3,1399.1 1600.5,1398.8 1598.7,1398.2 1596.9,1397.4 1595.1,1396.3 1593.2,1395.0 1591.4,1393.7 1589.6,1392.3 1587.8,1390.9 1586.0,1389.6 1584.1,1388.8 1582.3,1388.1 1580.5,1387.5 1578.7,1387.0 1576.9,1386.5 1575.0,1386.2 1573.2,1385.9 1571.4,1385.1 1569.6,1384.3 1567.8,1383.5 1566.0,1382.7 1564.1,1381.9 1562.3,1381.5 1560.5,1381.4 1558.7,1381.7 1556.9,1382.4 1555.0,1383.5 1553.2,1384.9 1551.4,1386.7 1549.6,1388.5 1547.8,1390.0 1545.9,1390.9 1544.1,1391.2 1542.3,1391.0 1540.5,1390.1 1538.7,1388.7 1536.9,1386.7 1535.0,1384.3 1533.2,1382.0 1531.4,1380.1 1529.6,1378.4 1527.8,1377.2 1525.9,1376.3 1524.1,1375.7 1522.3,1375.6 1520.5,1375.7 1518.7,1375.9 1516.8,1375.8 1515.0,1375.5 1513.2,1374.9 1511.4,1374.2 1509.6,1373.3 1507.8,1372.1 1505.9,1370.9 1504.1,1369.6 1502.3,1368.4 1500.5,1367.3 1498.7,1366.6 1496.8,1366.4 1495.0,1366.6 1493.2,1367.2 1491.4,1368.3 1489.6,1369.9 1487.8,1371.7 1485.9,1373.5 1484.1,1375.3 1482.3,1377.1 1480.5,1378.2 1478.7,1378.4 1476.8,1377.9 1475.0,1376.7 1473.2,1374.6 1471.4,1371.8 1469.6,1368.4 1467.7,1365.4 1465.9,1362.8 1464.1,1360.5 1462.3,1358.7 1460.5,1357.3 1458.7,1356.3 1456.8,1355.6 1455.0,1355.0 1453.2,1354.3 1451.4,1353.7 1449.6,1353.1 1447.7,1352.6 1445.9,1352.2 1444.1,1351.8 1442.3,1351.4 1440.5,1351.2 1438.6,1350.9 1436.8,1350.6 1435.0,1350.8 1433.2,1351.3 1431.4,1352.3 1429.6,1353.7 1427.7,1355.5 1425.9,1357.5 1424.1,1359.1 1422.3,1360.0 1420.5,1360.1 1418.6,1359.4 1416.8,1357.9 1415.0,1355.6 1413.2,1352.9 1411.4,1350.6 1409.5,1348.6 1407.7,1346.9 1405.9,1345.6 1404.1,1344.6 1402.3,1344.0 1400.5,1343.6 1398.6,1343.3 1396.8,1343.1 1395.0,1343.1 1393.2,1343.2 1391.4,1343.5 1389.5,1344.0 1387.7,1344.6 1385.9,1345.4 1384.1,1346.1 1382.3,1346.8 1380.5,1347.6 1378.6,1348.6 1376.8,1350.0 1375.0,1351.6 1373.2,1353.4 1371.4,1355.2 1369.5,1356.8 1367.7,1358.1 1365.9,1358.8 1364.1,1359.0 1362.3,1358.7 1360.4,1357.9 1358.6,1356.8 1356.8,1355.7 1355.0,1354.6 1353.2,1353.3 1351.4,1352.0 1349.5,1350.6 1347.7,1349.1 1345.9,1347.6 1344.1,1346.0 1342.3,1344.4 1340.4,1342.9 1338.6,1341.3 1336.8,1339.9 1335.0,1338.7 1333.2,1337.5 1331.3,1336.5 1329.5,1335.6 1327.7,1334.9 1325.9,1334.2 1324.1,1333.6 1322.3,1333.3 1320.4,1333.2 1318.6,1333.3 1316.8,1333.7 1315.0,1334.4 1313.2,1335.3 1311.3,1336.3 1309.5,1337.3 1307.7,1338.3 1305.9,1339.4 1304.1,1340.4 1302.2,1341.4 1300.4,1342.4 1298.6,1343.5 1296.8,1344.5 1295.0,1345.5 1293.2,1346.5 1291.3,1347.5 1289.5,1348.1 1287.7,1348.5 1285.9,1348.5 1284.1,1348.2 1282.2,1347.5 1280.4,1346.6 1278.6,1345.4 1276.8,1344.1 1275.0,1342.9 1273.2,1341.7 1271.3,1340.5 1269.5,1339.2 1267.7,1338.0 1265.9,1336.8 1264.1,1335.5 1262.2,1334.3 1260.4,1333.1 1258.6,1331.8 1256.8,1331.1 1255.0,1330.8 1253.1,1331.1 1251.3,1331.9 1249.5,1333.2 1247.7,1335.1 1245.9,1337.4 1244.1,1339.9 1242.2,1342.3 1240.4,1344.3 1238.6,1346.0 1236.8,1347.2 1235.0,1348.1 1233.1,1348.5 1231.3,1348.4 1229.5,1348.0 1227.7,1347.5 1225.9,1346.9 1224.0,1346.4 1222.2,1345.9 1220.4,1345.4 1218.6,1344.9 1216.8,1344.5 1215.0,1344.2 1213.1,1344.0 1211.3,1344.0 1209.5,1344.0 1207.7,1344.2 1205.9,1344.4 1204.0,1344.7 1202.2,1344.9 1200.4,1344.9 1198.6,1344.6 1196.8,1344.1 1195.0,1343.4 1193.1,1342.4 1191.3,1341.1 1189.5,1339.7 1187.7,1338.2 1185.9,1336.7 1184.0,1335.3 1182.2,1333.8 1180.4,1332.3 1178.6,1330.7 1176.8,1329.2 1174.9,1327.7 1173.1,1326.2 1171.3,1324.9 1169.5,1323.8 1167.7,1322.8 1165.9,1322.1 1164.0,1321.6 1162.2,1321.2 1160.4,1321.1 1158.6,1320.9 1156.8,1320.7 1154.9,1320.6 1153.1,1320.5 1151.3,1320.3 1149.5,1320.2 1147.7,1320.1 1145.8,1320.0 1144.0,1319.6 1142.2,1319.1 1140.4,1318.5 1138.6,1317.6 1136.8,1316.6 1134.9,1315.4 1133.1,1314.1 1131.3,1312.9 1129.5,1311.6 1127.7,1310.3 1125.8,1309.0 1124.0,1307.7 1122.2,1306.7 1120.4,1306.1 1118.6,1305.8 1116.7,1306.0 1114.9,1306.5 1113.1,1307.4 1111.3,1308.6 1109.5,1309.8 1107.7,1310.9 1105.8,1311.8 1104.0,1312.6 1102.2,1313.3 1100.4,1313.9 1098.6,1314.3 1096.7,1314.7 1094.9,1315.1 1093.1,1315.5 1091.3,1315.9 1089.5,1316.1 1087.7,1316.2 1085.8,1316.0 1084.0,1315.7 1082.2,1315.1 1080.4,1314.2 1078.6,1313.2 1076.7,1312.0 1074.9,1311.0 1073.1,1310.2 1071.3,1309.7 1069.5,1309.3 1067.6,1309.2 1065.8,1309.4 1064.0,1309.7 1062.2,1310.1 1060.4,1310.6 1058.6,1311.0 1056.7,1311.5 1054.9,1312.0 1053.1,1312.4 1051.3,1312.9 1049.5,1313.4 1047.6,1313.9 1045.8,1314.2 1044.0,1314.1 1042.2,1313.7 1040.4,1312.8 1038.5,1311.7 1036.7,1310.1 1034.9,1308.2 1033.1,1306.2 1031.3,1304.2 1029.5,1302.1 1027.6,1300.1 1025.8,1298.1 1024.0,1296.1 1022.2,1294.2 1020.4,1292.4 1018.5,1290.7 1016.7,1289.0 1014.9,1287.4 1013.1,1285.9 1011.3,1284.4 1009.4,1283.4 1007.6,1282.8 1005.8,1282.6 1004.0,1282.9 1002.2,1283.6 1000.4,1284.7 998.5,1286.3 996.7,1287.8 994.9,1289.4 993.1,1290.9 991.3,1292.5 989.4,1293.8 987.6,1294.8 985.8,1295.4 984.0,1295.7 982.2,1295.5 980.4,1295.1 978.5,1294.3 976.7,1293.3 974.9,1292.3 973.1,1291.4 971.3,1290.6 969.4,1290.0 967.6,1289.5 965.8,1289.1 964.0,1288.9 962.2,1288.8 960.3,1288.7 958.5,1288.2 956.7,1287.4 954.9,1286.4 953.1,1285.1 951.3,1283.4 949.4,1281.5 947.6,1279.5 945.8,1277.4 944.0,1275.4 942.2,1273.4 940.3,1271.7 938.5,1270.5 936.7,1269.8 934.9,1269.5 933.1,1269.6 931.2,1270.1 929.4,1271.1 927.6,1272.1 925.8,1272.8 924.0,1273.3 922.2,1273.6 920.3,1273.6 918.5,1273.4 916.7,1272.9 914.9,1272.6 913.1,1272.8 911.2,1273.7 909.4,1275.0 907.6,1277.0 905.8,1279.5 904.0,1282.5 902.1,1285.3 900.3,1287.3 898.5,1288.4 896.7,1288.7 894.9,1288.2 893.1,1286.8 891.2,1284.7 889.4,1282.5 887.6,1280.5 885.8,1278.8 884.0,1277.3 882.1,1276.1 880.3,1275.1 878.5,1274.4 876.7,1273.7 874.9,1273.0 873.1,1272.7 871.2,1272.8 869.4,1273.4 867.6,1274.5 865.8,1275.9 864.0,1276.9 862.1,1277.6 860.3,1277.5 858.5,1276.5 856.7,1274.7 854.9,1272.1 853.0,1268.9 851.2,1266.4 849.4,1264.6 847.6,1263.4 845.8,1262.9 844.0,1263.1 842.1,1264.0 840.3,1265.4 838.5,1267.0 836.7,1268.6 834.9,1270.3 833.0,1272.0 831.2,1273.9 829.4,1275.4 827.6,1276.4 825.8,1276.9 823.9,1276.8 822.1,1276.3 820.3,1275.3 818.5,1273.7 816.7,1272.0 814.9,1270.4 813.0,1268.7 811.2,1267.1 809.4,1265.5 807.6,1263.9 805.8,1262.4 803.9,1260.9 802.1,1259.5 800.3,1258.1 798.5,1256.8 796.7,1255.4 794.9,1253.9 793.0,1252.2 791.2,1250.3 789.4,1248.1 787.6,1245.7 785.8,1243.0 783.9,1240.6 782.1,1238.6 780.3,1237.3 778.5,1236.7 776.7,1236.6 774.8,1237.3 773.0,1238.6 771.2,1240.1 769.4,1241.6 767.6,1242.8 765.8,1243.5 763.9,1243.6 762.1,1243.3 760.3,1242.4 758.5,1241.0 756.7,1239.0 754.8,1236.9 753.0,1234.8 751.2,1232.9 749.4,1231.1 747.6,1229.5 745.7,1228.0 743.9,1226.6 742.1,1225.4 740.3,1224.2 738.5,1223.1 736.7,1221.9 734.8,1220.9 733.0,1220.4 731.2,1220.3 729.4,1220.6 727.6,1221.4 725.7,1222.0 723.9,1222.2 722.1,1222.0 720.3,1220.9 718.5,1219.0 716.6,1216.3 714.8,1213.3 713.0,1210.5 711.2,1208.2 709.4,1206.3 707.6,1204.9 705.7,1203.9 703.9,1203.3 702.1,1202.7 700.3,1202.6 698.5,1203.0 696.6,1203.8 694.8,1205.1 693.0,1206.8 691.2,1209.0 689.4,1211.6 687.6,1214.2 685.7,1216.1 683.9,1217.5 682.1,1218.2 680.3,1218.3 678.5,1217.7 676.6,1216.6 674.8,1214.9 673.0,1213.2 671.2,1211.5 669.4,1211.0 667.5,1211.7 665.7,1213.8 663.9,1217.0 662.1,1221.2 660.3,1225.6 658.5,1230.2 656.6,1234.0 654.8,1236.8 653.0,1238.6 651.2,1239.0 649.4,1238.1 647.5,1236.6 645.7,1234.4 643.9,1231.5 642.1,1228.0 640.3,1224.6 638.4,1221.7 636.6,1219.6 634.8,1218.2 633.0,1217.5 631.2,1217.6 629.4,1218.3 627.5,1218.6 625.7,1218.5 623.9,1218.1 622.1,1217.2 620.3,1215.9 618.4,1214.2 616.6,1212.1 614.8,1209.8 613.0,1207.4 611.2,1204.8 609.3,1201.9 607.5,1198.9 605.7,1195.7 603.9,1192.4 602.1,1189.5 600.3,1187.6 598.4,1186.8 596.6,1187.0 594.8,1188.3 593.0,1190.6 591.2,1194.0 589.3,1198.0 587.5,1201.8 585.7,1204.6 583.9,1206.7 582.1,1207.8 580.3,1208.1 578.4,1207.8 576.6,1207.0 574.8,1206.0 573.0,1205.2 571.2,1204.9 569.3,1204.7 567.5,1204.1 565.7,1202.7 563.9,1200.5 562.1,1197.5 560.2,1193.6 558.4,1189.0 556.6,1184.1 554.8,1180.7 553.0,1178.9 551.2,1178.7 549.3,1180.1 547.5,1183.0 545.7,1187.5 543.9,1193.1 542.1,1198.5 540.2,1203.6 538.4,1208.5 536.6,1213.1 534.8,1217.6 533.0,1221.2 531.1,1223.9 529.3,1225.8 527.5,1226.9 525.7,1227.2 523.9,1226.7 522.1,1226.9 520.2,1228.4 518.4,1231.2 516.6,1234.8 514.8,1238.8 513.0,1243.1 511.1,1247.7 509.3,1251.3 507.5,1253.7 505.7,1255.1 503.9,1256.0 502.0,1256.9 500.2,1257.9 498.4,1258.8 496.6,1259.7 494.8,1260.5 493.0,1261.3 491.1,1262.1 489.3,1262.8 487.5,1263.5 485.7,1264.2 483.9,1265.1 482.0,1266.6 480.2,1268.7 478.4,1271.5 476.6,1274.9 474.8,1278.9 473.0,1283.5 471.1,1288.5 469.3,1293.5 467.5,1298.5 465.7,1303.4 463.9,1308.3 462.0,1313.1 460.2,1317.8 458.4,1322.6 456.6,1327.2 454.8,1331.8 452.9,1336.4 451.1,1340.9 449.3,1345.5 447.5,1350.0 445.7,1354.5 443.9,1359.0 442.0,1363.4 440.2,1367.9 438.4,1372.3 436.6,1376.6 434.8,1380.9 432.9,1385.1 431.1,1389.3 429.3,1393.5 427.5,1397.8 425.7,1402.2 423.8,1406.7 422.0,1411.4 420.2,1416.1 418.4,1421.0 416.6,1425.4 414.8,1429.1 412.9,1432.2 411.1,1434.6 409.3,1436.4 407.5,1437.5 405.7,1438.0 403.8,1439.2 402.0,1441.1 400.2,1443.8 398.4,1447.3 396.6,1451.5 394.8,1456.4 392.9,1462.1 391.1,1467.8 389.3,1473.4 387.5,1479.0 385.7,1484.5 383.8,1489.9 382.0,1495.3 380.2,1500.6 378.4,1505.8 376.6,1510.8 374.7,1515.7 372.9,1520.4 371.1,1525.0 369.3,1529.3 367.5,1533.6 365.7,1537.7 363.8,1542.0 362.0,1546.2 360.2,1550.6 358.4,1555.0 356.6,1559.4 354.7,1563.8 352.9,1567.8 351.1,1571.6 349.3,1575.2 347.5,1578.5 345.6,1581.6 343.8,1584.4 342.0,1587.5 340.2,1591.2 338.4,1595.4 336.6,1600.1 334.7,1605.3 332.9,1611.0 331.1,1617.2 329.3,1623.9 327.5,1630.9 325.6,1638.4 323.8,1646.3 322.0,1654.5 320.2,1663.2 318.4,1672.1 316.5,1680.4 314.7,1688.1 312.9,1695.2 311.1,1701.6 309.3,1705.0 307.5,1707.9 305.6,1710.2"/>
<polyline fill="none" stroke="#1f77b4" stroke-width="8.20" stroke-linejoin="round" stroke-linecap="butt" points="302.0,1720.0 303.8,1717.0 305.6,1705.0 307.5,1690.0 309.3,1702.8 311.1,1704.6 312.9,1685.9 314.7,1693.1 316.5,1703.1 318.4,1674.0 320.2,1654.4 322.0,1645.1 323.8,1632.4 325.6,1615.4 327.5,1616.6 329.3,1626.7 331.1,1601.3 332.9,1608.1 334.7,1599.4 336.6,1598.8 338.4,1578.1 340.2,1590.5 342.0,1571.7 343.8,1584.2 345.6,1572.1 347.5,1586.9 349.3,1552.7 351.1,1544.9 352.9,1545.0 354.7,1587.0 356.6,1551.8 358.4,1553.2 360.2,1553.8 362.0,1543.5 363.8,1520.0 365.7,1541.2 367.5,1518.2 369.3,1532.4 371.1,1508.1 372.9,1491.0 374.7,1493.9 376.6,1533.1 378.4,1493.9 380.2,1495.0 382.0,1491.6 383.8,1491.9 385.7,1468.2 387.5,1474.0 389.3,1461.5 391.1,1469.6 392.9,1453.5 394.8,1455.3 396.6,1426.5 398.4,1455.0 400.2,1403.9 402.0,1434.5 403.8,1454.3 405.7,1445.7 407.5,1400.0 409.3,1442.5 411.1,1418.9 412.9,1385.3 414.8,1389.1 416.6,1458.4 418.4,1393.1 420.2,1423.2 422.0,1425.3 423.8,1403.7 425.7,1350.0 427.5,1404.6 429.3,1356.7 431.1,1398.3 432.9,1346.8 434.8,1335.5 436.6,1348.4 438.4,1372.7 440.2,1329.2 442.0,1385.4 443.9,1326.2 445.7,1371.3 447.5,1291.1 449.3,1279.5 451.1,1291.2 452.9,1364.5 454.8,1291.6 456.6,1330.4 458.4,1294.3 460.2,1329.9 462.0,1242.2 463.9,1321.5 465.7,1342.3 467.5,1300.5 469.3,1245.9 471.1,1272.1 473.0,1222.7 474.8,1277.3 476.6,1245.0 478.4,1196.6 480.2,1233.4 482.0,1296.7 483.9,1203.1 485.7,1248.5 487.5,1203.1 489.3,1281.7 491.1,1224.6 493.0,1188.3 494.8,1224.4 496.6,1292.5 498.4,1200.6 500.2,1257.4 502.0,1225.2 503.9,1267.0 505.7,1225.6 507.5,1279.8 509.3,1214.8 511.1,1244.3 513.0,1146.8 514.8,1235.4 516.6,1296.7 518.4,1136.4 520.2,1162.7 522.1,1259.4 523.9,1206.5 525.7,1226.1 527.5,1202.7 529.3,1184.1 531.1,1186.4 533.0,1251.1 534.8,1187.6 536.6,1203.6 538.4,1105.3 540.2,1119.5 542.1,1238.6 543.9,1200.8 545.7,1157.8 547.5,1177.6 549.3,1130.7 551.2,1103.2 553.0,1124.2 554.8,1197.2 556.6,1108.9 558.4,1214.8 560.2,1246.9 562.1,1226.8 563.9,1109.5 565.7,1182.7 567.5,1161.5 569.3,1188.6 571.2,1167.5 573.0,1213.9 574.8,1161.3 576.6,1197.6 578.4,1230.3 580.3,1216.4 582.1,1171.7 583.9,1201.2 585.7,1167.3 587.5,1222.1 589.3,1149.1 591.2,1195.3 593.0,1205.5 594.8,1188.0 596.6,1121.9 598.4,1199.7 600.3,1146.9 602.1,1176.2 603.9,1145.0 605.7,1194.0 607.5,1232.5 609.3,1210.0 611.2,1271.8 613.0,1257.4 614.8,1181.1 616.6,1219.4 618.4,1169.0 620.3,1214.4 622.1,1190.9 623.9,1188.3 625.7,1189.1 627.5,1234.5 629.4,1204.8 631.2,1209.7 633.0,1188.0 634.8,1222.6 636.6,1140.6 638.4,1152.3 640.3,1234.5 642.1,1241.2 643.9,1267.7 645.7,1230.5 647.5,1175.8 649.4,1237.8 651.2,1208.7 653.0,1246.8 654.8,1221.0 656.6,1209.0 658.5,1219.0 660.3,1251.1 662.1,1194.8 663.9,1211.4 665.7,1169.6 667.5,1222.9 669.4,1222.0 671.2,1212.8 673.0,1186.3 674.8,1214.6 676.6,1188.6 678.5,1234.5 680.3,1196.5 682.1,1192.4 683.9,1204.3 685.7,1232.0 687.6,1196.6 689.4,1229.4 691.2,1174.1 693.0,1224.1 694.8,1181.7 696.6,1146.8 698.5,1151.5 700.3,1204.4 702.1,1173.0 703.9,1223.1 705.7,1173.7 707.6,1203.6 709.4,1184.6 711.2,1167.5 713.0,1181.4 714.8,1222.0 716.6,1176.1 718.5,1220.2 720.3,1192.6 722.1,1271.8 723.9,1260.8 725.7,1242.8 727.6,1166.5 729.4,1159.2 731.2,1194.6 733.0,1210.8 734.8,1201.7 736.7,1231.9 738.5,1203.8 740.3,1234.8 742.1,1168.7 743.9,1210.2 745.7,1255.2 747.6,1215.0 749.4,1169.6 751.2,1227.4 753.0,1199.9 754.8,1241.8 756.7,1194.1 758.5,1241.0 760.3,1205.4 762.1,1242.8 763.9,1188.3 765.8,1234.0 767.6,1271.8 769.4,1228.0 771.2,1207.9 773.0,1264.4 774.8,1197.2 776.7,1223.5 778.5,1191.4 780.3,1171.7 782.1,1220.1 783.9,1259.4 785.8,1199.4 787.6,1254.3 789.4,1200.7 791.2,1245.0 793.0,1271.8 794.9,1272.0 796.7,1220.8 798.5,1250.2 800.3,1239.2 802.1,1248.4 803.9,1284.2 805.8,1253.5 807.6,1213.2 809.4,1271.3 811.2,1235.5 813.0,1269.3 814.9,1251.7 816.7,1263.7 818.5,1218.5 820.3,1270.3 822.1,1230.2 823.9,1262.6 825.8,1188.3 827.6,1201.7 829.4,1305.0 831.2,1267.0 833.0,1245.0 834.9,1276.0 836.7,1256.5 838.5,1246.3 840.3,1254.0 842.1,1261.2 844.0,1276.0 845.8,1259.2 847.6,1221.4 849.4,1256.6 851.2,1253.5 853.0,1268.0 854.9,1245.6 856.7,1275.0 858.5,1251.6 860.3,1321.6 862.1,1312.6 864.0,1294.8 865.8,1288.4 867.6,1283.4 869.4,1229.7 871.2,1281.2 873.1,1246.2 874.9,1280.6 876.7,1251.5 878.5,1285.2 880.3,1259.4 882.1,1271.8 884.0,1267.3 885.8,1250.5 887.6,1267.0 889.4,1288.4 891.2,1273.0 893.1,1286.5 894.9,1305.0 896.7,1292.2 898.5,1267.1 900.3,1287.8 902.1,1272.1 904.0,1285.2 905.8,1259.8 907.6,1288.4 909.4,1244.7 911.2,1229.7 913.1,1252.9 914.9,1270.1 916.7,1246.5 918.5,1287.8 920.3,1254.5 922.2,1204.9 924.0,1233.2 925.8,1305.0 927.6,1209.6 929.4,1269.4 931.2,1206.0 933.1,1250.5 934.9,1243.4 936.7,1188.3 938.5,1211.9 940.3,1300.8 942.2,1222.1 944.0,1288.7 945.8,1248.6 947.6,1300.0 949.4,1242.4 951.3,1304.3 953.1,1319.5 954.9,1271.8 956.7,1217.3 958.5,1308.5 960.3,1254.3 962.2,1288.2 964.0,1258.5 965.8,1288.1 967.6,1260.8 969.4,1292.0 971.3,1300.8 973.1,1302.3 974.9,1274.4 976.7,1305.0 978.5,1267.2 980.4,1306.8 982.2,1309.1 984.0,1299.8 985.8,1271.2 987.6,1296.7 989.4,1278.8 991.3,1294.3 993.1,1273.2 994.9,1305.0 996.7,1258.4 998.5,1285.3 1000.4,1270.3 1002.2,1300.8 1004.0,1255.9 1005.8,1231.8 1007.6,1262.8 1009.4,1275.8 1011.3,1252.4 1013.1,1288.2 1014.9,1250.4 1016.7,1305.0 1018.5,1270.8 1020.4,1262.9 1022.2,1273.1 1024.0,1299.6 1025.8,1278.3 1027.6,1297.9 1029.5,1264.3 1031.3,1316.0 1033.1,1262.9 1034.9,1308.1 1036.7,1279.5 1038.5,1338.2 1040.4,1270.6 1042.2,1262.9 1044.0,1276.0 1045.8,1329.6 1047.6,1268.2 1049.5,1307.3 1051.3,1272.8 1053.1,1308.8 1054.9,1291.1 1056.7,1269.1 1058.6,1273.4 1060.4,1329.9 1062.2,1288.5 1064.0,1305.9 1065.8,1285.6 1067.6,1326.5 1069.5,1273.1 1071.3,1221.4 1073.1,1235.3 1074.9,1325.7 1076.7,1279.7 1078.6,1328.0 1080.4,1294.9 1082.2,1329.9 1084.0,1300.5 1085.8,1287.8 1087.7,1289.8 1089.5,1310.8 1091.3,1284.9 1093.1,1305.1 1094.9,1300.6 1096.7,1320.1 1098.6,1293.8 1100.4,1324.5 1102.2,1283.6 1104.0,1304.4 1105.8,1262.9 1107.7,1324.3 1109.5,1334.0 1111.3,1332.2 1113.1,1264.8 1114.9,1329.9 1116.7,1285.0 1118.6,1242.2 1120.4,1270.7 1122.2,1324.5 1124.0,1288.2 1125.8,1302.1 1127.7,1289.3 1129.5,1312.7 1131.3,1272.4 1133.1,1298.5 1134.9,1287.0 1136.8,1342.3 1138.6,1265.3 1140.4,1267.1 1142.2,1289.9 1144.0,1310.8 1145.8,1298.4 1147.7,1316.8 1149.5,1289.3 1151.3,1323.0 1153.1,1277.4 1154.9,1279.5 1156.8,1303.0 1158.6,1338.2 1160.4,1280.8 1162.2,1325.9 1164.0,1346.5 1165.9,1308.3 1167.7,1223.5 1169.5,1238.5 1171.3,1297.0 1173.1,1313.6 1174.9,1286.6 1176.8,1336.7 1178.6,1283.3 1180.4,1345.4 1182.2,1271.2 1184.0,1328.7 1185.9,1361.0 1187.7,1330.3 1189.5,1296.6 1191.3,1346.8 1193.1,1365.1 1195.0,1357.4 1196.8,1300.2 1198.6,1358.9 1200.4,1310.7 1202.2,1348.9 1204.0,1325.2 1205.9,1341.3 1207.7,1326.6 1209.5,1354.8 1211.3,1325.1 1213.1,1316.8 1215.0,1322.0 1216.8,1351.3 1218.6,1330.3 1220.4,1342.7 1222.2,1325.6 1224.0,1350.6 1225.9,1330.5 1227.7,1364.5 1229.5,1325.7 1231.3,1362.0 1233.1,1329.1 1235.0,1353.0 1236.8,1300.2 1238.6,1352.4 1240.4,1371.3 1242.2,1348.0 1244.1,1311.3 1245.9,1327.9 1247.7,1316.1 1249.5,1342.3 1251.3,1303.0 1253.1,1258.8 1255.0,1269.8 1256.8,1327.2 1258.6,1315.4 1260.4,1346.4 1262.2,1303.6 1264.1,1337.3 1265.9,1309.5 1267.7,1352.7 1269.5,1329.4 1271.3,1312.7 1273.2,1328.9 1275.0,1341.5 1276.8,1324.7 1278.6,1357.7 1280.4,1332.1 1282.2,1363.0 1284.1,1328.5 1285.9,1321.0 1287.7,1323.1 1289.5,1363.0 1291.3,1333.9 1293.2,1350.6 1295.0,1363.0 1296.8,1350.9 1298.6,1254.6 1300.4,1268.0 1302.2,1321.7 1304.1,1348.9 1305.9,1308.0 1307.7,1342.3 1309.5,1317.6 1311.3,1335.9 1313.2,1313.7 1315.0,1323.9 1316.8,1313.4 1318.6,1287.8 1320.4,1299.0 1322.3,1350.6 1324.1,1301.1 1325.9,1331.7 1327.7,1307.0 1329.5,1338.9 1331.3,1304.6 1333.2,1296.1 1335.0,1313.3 1336.8,1354.8 1338.6,1321.7 1340.4,1359.1 1342.3,1316.5 1344.1,1351.9 1345.9,1312.2 1347.7,1362.0 1349.5,1340.3 1351.4,1359.6 1353.2,1321.0 1355.0,1368.6 1356.8,1367.2 1358.6,1364.5 1360.4,1345.2 1362.3,1355.2 1364.1,1337.3 1365.9,1366.8 1367.7,1329.3 1369.5,1357.6 1371.4,1375.5 1373.2,1356.0 1375.0,1308.5 1376.8,1349.4 1378.6,1367.2 1380.5,1360.3 1382.3,1310.6 1384.1,1347.8 1385.9,1315.6 1387.7,1350.2 1389.5,1318.6 1391.4,1348.6 1393.2,1312.7 1395.0,1348.2 1396.8,1354.8 1398.6,1339.2 1400.5,1309.0 1402.3,1359.5 1404.1,1306.9 1405.9,1361.6 1407.7,1304.4 1409.5,1347.0 1411.4,1363.0 1413.2,1348.5 1415.0,1327.2 1416.8,1383.8 1418.6,1327.2 1420.5,1321.0 1422.3,1320.7 1424.1,1377.5 1425.9,1333.7 1427.7,1363.0 1429.6,1327.7 1431.4,1318.9 1433.2,1332.0 1435.0,1351.7 1436.8,1337.1 1438.6,1354.0 1440.5,1333.5 1442.3,1355.2 1444.1,1339.6 1445.9,1354.1 1447.7,1327.2 1449.6,1358.2 1451.4,1363.0 1453.2,1359.1 1455.0,1328.2 1456.8,1362.2 1458.7,1336.9 1460.5,1355.8 1462.3,1335.4 1464.1,1318.9 1465.9,1323.0 1467.7,1375.5 1469.6,1348.9 1471.4,1377.6 1473.2,1398.3 1475.0,1374.3 1476.8,1345.9 1478.7,1382.6 1480.5,1351.5 1482.3,1370.9 1484.1,1361.3 1485.9,1379.3 1487.8,1359.8 1489.6,1372.7 1491.4,1346.9 1493.2,1367.6 1495.0,1308.5 1496.8,1317.2 1498.7,1375.5 1500.5,1371.0 1502.3,1355.9 1504.1,1377.8 1505.9,1363.1 1507.8,1373.0 1509.6,1356.1 1511.4,1387.9 1513.2,1362.2 1515.0,1350.0 1516.8,1362.0 1518.7,1382.4 1520.5,1347.3 1522.3,1375.1 1524.1,1353.5 1525.9,1371.2 1527.8,1314.8 1529.6,1324.5 1531.4,1387.9 1533.2,1376.7 1535.0,1361.5 1536.9,1396.7 1538.7,1361.1 1540.5,1399.1 1542.3,1383.2 1544.1,1362.5 1545.9,1362.0 1547.8,1408.7 1549.6,1361.0 1551.4,1399.9 1553.2,1360.4 1555.0,1392.1 1556.9,1364.3 1558.7,1304.4 1560.5,1316.6 1562.3,1381.9 1564.1,1363.6 1566.0,1389.1 1567.8,1365.9 1569.6,1387.5 1571.4,1364.2 1573.2,1387.9 1575.0,1358.4 1576.9,1396.2 1578.7,1360.4 1580.5,1360.4 1582.3,1400.4 1584.1,1398.1 1586.0,1369.9 1587.8,1386.0 1589.6,1375.6 1591.4,1395.1 1593.2,1376.1 1595.1,1407.4 1596.9,1383.1 1598.7,1406.1 1600.5,1360.4 1602.3,1392.6 1604.1,1417.0 1606.0,1401.1 1607.8,1370.7 1609.6,1397.7 1611.4,1372.5 1613.2,1412.8 1615.1,1383.3 1616.9,1362.5 1618.7,1368.1 1620.5,1402.1 1622.3,1382.1 1624.1,1412.2 1626.0,1388.6 1627.8,1399.4 1629.6,1421.1 1631.4,1412.4 1633.2,1368.7 1635.1,1397.8 1636.9,1373.7 1638.7,1411.5 1640.5,1393.7 1642.3,1412.2 1644.2,1383.7 1646.0,1425.3 1647.8,1385.3 1649.6,1383.2 1651.4,1402.1 1653.2,1422.2 1655.1,1405.3 1656.9,1427.5 1658.7,1391.4 1660.5,1434.4 1662.3,1381.1 1664.2,1424.9 1666.0,1435.6 1667.8,1424.2 1669.6,1409.9 1671.4,1452.2 1673.3,1409.0 1675.1,1395.6 1676.9,1402.7 1678.7,1434.6 1680.5,1401.4 1682.3,1429.4 1684.2,1399.6 1686.0,1354.2 1687.8,1364.0 1689.6,1428.0 1691.4,1410.5 1693.3,1428.2 1695.1,1404.5 1696.9,1426.9 1698.7,1410.9 1700.5,1432.0 1702.3,1415.0 1704.2,1395.6 1706.0,1413.6 1707.8,1452.2 1709.6,1411.3 1711.4,1424.5 1713.3,1406.5 1715.1,1441.8 1716.9,1405.7 1718.7,1350.0 1720.5,1362.4 1722.4,1439.9 1724.2,1403.4 1726.0,1444.0 1727.8,1416.3 1729.6,1452.2 1731.4,1410.6 1733.3,1408.1 1735.1,1414.7 1736.9,1437.8 1738.7,1403.8 1740.5,1427.8 1742.4,1332.6 1744.2,1347.3 1746.0,1441.8 1747.8,1440.5 1749.6,1392.9 1751.5,1439.3 1753.3,1410.6 1755.1,1419.8 1756.9,1404.9 1758.7,1379.0 1760.5,1382.4 1762.4,1454.3 1764.2,1399.6 1766.0,1430.2 1767.8,1413.9 1769.6,1438.3 1771.5,1403.8 1773.3,1397.7 1775.1,1403.6 1776.9,1458.4 1778.7,1410.7 1780.6,1456.9 1782.4,1422.0 1784.2,1456.0 1786.0,1431.2 1787.8,1416.4 1789.6,1433.3 1791.5,1468.8 1793.3,1420.5 1795.1,1453.1 1796.9,1423.7 1798.7,1458.1 1800.6,1434.9 1802.4,1428.8 1804.2,1442.2 1806.0,1466.7 1807.8,1433.3 1809.6,1447.3 1811.5,1429.5 1813.3,1462.1 1815.1,1361.6 1816.9,1376.9 1818.7,1470.9 1820.6,1464.6 1822.4,1433.7 1824.2,1456.7 1826.0,1434.1 1827.8,1433.0 1829.7,1449.1 1831.5,1475.0 1833.3,1441.9 1835.1,1483.3 1836.9,1442.8 1838.7,1399.8 1840.6,1434.9 1842.4,1465.4 1844.2,1439.6 1846.0,1465.4 1847.8,1425.2 1849.7,1459.9 1851.5,1423.5 1853.3,1459.6 1855.1,1406.0 1856.9,1451.1 1858.8,1475.0 1860.6,1451.8 1862.4,1434.5 1864.2,1466.7 1866.0,1445.7 1867.8,1457.9 1869.7,1442.1 1871.5,1457.7 1873.3,1426.7 1875.1,1467.2 1876.9,1481.2 1878.8,1462.7 1880.6,1441.9 1882.4,1467.1 1884.2,1447.4 1886.0,1475.7 1887.9,1445.4 1889.7,1467.7 1891.5,1483.3 1893.3,1478.2 1895.1,1444.2 1896.9,1483.8 1898.8,1438.7 1900.6,1474.8 1902.4,1428.8 1904.2,1488.1 1906.0,1495.8 1907.9,1493.9 1909.7,1465.0 1911.5,1492.3 1913.3,1451.0 1915.1,1472.0 1916.9,1430.9 1918.8,1495.8 1920.6,1508.2 1922.4,1488.6 1924.2,1475.5 1926.0,1520.4 1927.9,1488.6 1929.7,1472.4 1931.5,1491.7 1933.3,1526.9 1935.1,1483.9 1937.0,1503.9 1938.8,1487.5 1940.6,1468.2 1942.4,1475.4 1944.2,1516.5 1946.0,1474.4 1947.9,1510.3 1949.7,1499.4 1951.5,1480.6 1953.3,1489.8 1955.1,1533.1 1957.0,1489.9 1958.8,1512.7 1960.6,1545.5 1962.4,1538.4 1964.2,1484.8 1966.1,1518.0 1967.9,1495.0 1969.7,1536.2 1971.5,1499.2 1973.3,1513.9 1975.1,1537.2 1977.0,1528.4 1978.8,1484.8 1980.6,1536.8 1982.4,1499.0 1984.2,1518.9 1986.1,1496.2 1987.9,1531.1 1989.7,1502.3 1991.5,1530.9 1993.3,1480.6 1995.2,1525.5 1997.0,1533.1 1998.8,1520.9 2000.6,1482.7 2002.4,1505.2 2004.2,1486.3 2006.1,1515.2 2007.9,1524.8 2009.7,1502.8 2011.5,1464.1 2013.3,1496.0 2015.2,1457.1 2017.0,1506.9 2018.8,1471.0 2020.6,1533.1 2022.4,1449.2 2024.2,1433.0 2026.1,1438.1 2027.9,1523.0 2029.7,1463.5 2031.5,1539.3 2033.3,1483.8 2035.2,1393.6 2037.0,1412.2 2038.8,1505.8 2040.6,1484.7 2042.4,1525.3 2044.3,1479.7 2046.1,1532.5 2047.9,1510.6 2049.7,1495.2 2051.5,1513.5 2053.3,1551.7 2055.2,1507.8 2057.0,1533.5 2058.8,1514.5 2060.6,1534.1 2062.4,1503.5 2064.3,1521.2 2066.1,1539.3 2067.9,1519.9 2069.7,1514.0 2071.5,1528.0 2073.4,1503.2 2075.2,1526.5 2077.0,1488.9 2078.8,1525.6 2080.6,1537.2 2082.4,1533.0 2084.3,1503.5 2086.1,1545.3 2087.9,1503.0 2089.7,1531.2 2091.5,1503.5 2093.4,1530.8 2095.2,1549.7 2097.0,1551.6 2098.8,1500.5 2100.6,1553.8 2102.4,1515.7 2104.3,1453.7 2106.1,1465.5 2107.9,1536.2 2109.7,1499.3 2111.5,1552.7 2113.4,1510.9 2115.2,1527.3 2117.0,1486.7 2118.8,1486.9 2120.6,1512.5 2122.5,1551.7 2124.3,1521.6 2126.1,1530.4 2127.9,1510.9 2129.7,1551.7 2131.5,1507.2 2133.4,1503.5 2135.2,1523.0 2137.0,1540.2 2138.8,1506.5 2140.6,1574.6 2142.5,1522.1 2144.3,1509.7 2146.1,1518.8 2147.9,1550.6 2149.7,1562.1 2151.6,1557.0 2153.4,1501.4 2155.2,1541.3 2157.0,1514.3 2158.8,1533.5 2160.6,1510.6 2162.5,1537.1 2164.3,1553.8 2166.1,1551.4 2167.9,1482.7 2169.7,1531.2 2171.6,1498.2 2173.4,1537.6 2175.2,1501.1 2177.0,1534.5 2178.8,1508.9 2180.7,1541.4 2182.5,1518.7 2184.3,1507.6 2186.1,1505.5 2187.9,1539.3 2189.7,1503.9 2191.6,1538.7 2193.4,1506.4 2195.2,1519.6 2197.0,1474.4 2198.8,1542.1 2200.7,1560.0 2202.5,1530.1 2204.3,1489.1 2206.1,1526.2 2207.9,1489.5 2209.7,1552.3 2211.6,1494.5 2213.4,1497.2 2215.2,1513.7 2217.0,1564.2 2218.8,1510.9 2220.7,1545.4 2222.5,1519.7 2224.3,1559.5 2226.1,1459.9 2227.9,1473.0 2229.8,1566.3 2231.6,1550.8 2233.4,1507.6 2235.2,1562.0 2237.0,1578.7 2238.8,1533.7 2240.7,1505.5 2242.5,1545.5 2244.3,1472.5 2246.1,1464.1 2247.9,1470.7 2249.8,1511.2 2251.6,1533.1 2253.4,1511.7 2255.2,1352.1 2257.0,1377.2 2258.9,1451.9 2260.7,1504.8 2262.5,1457.8 2264.3,1523.7 2266.1,1465.6 2267.9,1503.9 2269.8,1570.4 2271.6,1556.4 2273.4,1530.4 2275.2,1502.2 2277.0,1467.6 2278.9,1508.9 2280.7,1463.5 2282.5,1493.6 2284.3,1459.9 2286.1,1502.7 2288.0,1504.1 2289.8,1504.1 2291.6,1481.3 2293.4,1336.7 2295.2,1363.8 2297.0,1504.3 2298.9,1486.4 2300.7,1499.9 2302.5,1494.0"/>
<polyline fill="none" stroke="#ff7f0e" stroke-width="7.70" stroke-linejoin="round" stroke-linecap="butt" points="302.0,1705.3 303.8,1698.7 305.6,1705.2 307.5,1698.2 309.3,1705.2 311.1,1698.0 312.9,1703.6 314.7,1689.4 316.5,1704.5 318.4,1696.8 320.2,1705.6 322.0,1697.6 323.8,1703.3 325.6,1699.0 327.5,1702.9 329.3,1691.5 331.1,1703.8 332.9,1670.0 334.7,1678.6 336.6,1672.7 338.4,1701.3 340.2,1696.0 342.0,1704.8 343.8,1699.3 345.6,1704.7 347.5,1697.7 349.3,1704.1 351.1,1697.4 352.9,1702.8 354.7,1685.9 356.6,1704.8 358.4,1697.0 360.2,1703.8 362.0,1697.0 363.8,1705.3 365.7,1697.1 367.5,1703.1 369.3,1696.9 371.1,1704.3 372.9,1696.0 374.7,1703.1 376.6,1698.4 378.4,1705.7 380.2,1696.7 382.0,1705.2 383.8,1698.6 385.7,1704.8 387.5,1697.7 389.3,1704.7 391.1,1696.1 392.9,1705.3 394.8,1696.5 396.6,1704.1 398.4,1696.4 400.2,1704.5 402.0,1697.5 403.8,1704.7 405.7,1695.9 407.5,1696.6 409.3,1697.1 411.1,1692.1 412.9,1696.0 414.8,1702.7 416.6,1683.2 418.4,1692.5 420.2,1698.1 422.0,1705.2 423.8,1681.7 425.7,1683.2 427.5,1696.0 429.3,1702.5 431.1,1699.0 432.9,1692.8 434.8,1696.9 436.6,1703.0 438.4,1696.4 440.2,1684.6 442.0,1686.8 443.9,1703.3 445.7,1698.0 447.5,1705.4 449.3,1696.9 451.1,1680.0 452.9,1683.2 454.8,1702.4 456.6,1699.0 458.4,1704.6 460.2,1696.3 462.0,1704.7 463.9,1698.5 465.7,1483.5 467.5,1697.5 469.3,1702.8 471.1,1698.6 473.0,1704.8 474.8,1697.7 476.6,1703.4 478.4,1697.6 480.2,1703.2 482.0,1697.2 483.9,1704.8 485.7,1685.0 487.5,1703.5 489.3,1697.3 491.1,1704.7 493.0,1690.3 494.8,1703.8 496.6,1699.0 498.4,1705.1 500.2,1696.5 502.0,1702.6 503.9,1698.1 505.7,1705.3 507.5,1696.2 509.3,1703.5 511.1,1696.9 513.0,1705.0 514.8,1696.2 516.6,1705.8 518.4,1698.6 520.2,1704.6 522.1,1697.9 523.9,1705.6 525.7,1698.8 527.5,1703.2 529.3,1697.0 531.1,1702.6 533.0,1696.1 534.8,1703.4 536.6,1697.7 538.4,1704.7 540.2,1696.1 542.1,1703.4 543.9,1696.2 545.7,1705.0 547.5,1685.8 549.3,1687.6 551.2,1687.4 553.0,1703.0 554.8,1695.9 556.6,1702.6 558.4,1696.2 560.2,1702.8 562.1,1697.4 563.9,1704.5 565.7,1698.6 567.5,1704.9 569.3,1697.9 571.2,1695.8 573.0,1699.1 574.8,1703.5 576.6,1697.2 578.4,1483.5 580.3,1672.1 582.1,1704.8 583.9,1699.0 585.7,1702.8 587.5,1699.0 589.3,1703.8 591.2,1697.2 593.0,1704.6 594.8,1698.1 596.6,1703.2 598.4,1696.6 600.3,1703.4 602.1,1695.9 603.9,1703.3 605.7,1696.0 607.5,1702.3 609.3,1697.0 611.2,1703.6 613.0,1698.5 614.8,1684.1 616.6,1697.4 618.4,1705.0 620.3,1697.2 622.1,1705.5 623.9,1696.3 625.7,1704.1 627.5,1696.8 629.4,1705.3 631.2,1696.1 633.0,1703.7 634.8,1673.6 636.6,1702.5 638.4,1697.9 640.3,1702.5 642.1,1697.9 643.9,1705.6 645.7,1698.5 647.5,1703.2 649.4,1698.5 651.2,1705.0 653.0,1698.3 654.8,1703.1 656.6,1698.8 658.5,1705.3 660.3,1696.7 662.1,1703.3 663.9,1697.6 665.7,1702.9 667.5,1697.2 669.4,1704.3 671.2,1698.6 673.0,1703.6 674.8,1696.3 676.6,1705.3 678.5,1684.6 680.3,1702.8 682.1,1697.5 683.9,1704.9 685.7,1697.9 687.6,1704.5 689.4,1697.9 691.2,1705.4 693.0,1698.6 694.8,1702.4 696.6,1697.2 698.5,1704.7 700.3,1699.1 702.1,1689.9 703.9,1695.9 705.7,1702.3 707.6,1697.4 709.4,1704.2 711.2,1697.4 713.0,1692.9 714.8,1696.3 716.6,1692.8 718.5,1699.2 720.3,1705.7 722.1,1699.1 723.9,1705.6 725.7,1690.1 727.6,1703.3 729.4,1697.9 731.2,1704.9 733.0,1697.8 734.8,1703.6 736.7,1696.6 738.5,1705.1 740.3,1483.5 742.1,1483.5 743.9,1696.9 745.7,1705.8 747.6,1687.4 749.4,1702.4 751.2,1697.9 753.0,1704.7 754.8,1697.0 756.7,1704.3 758.5,1697.0 760.3,1703.5 762.1,1698.0 763.9,1705.1 765.8,1685.3 767.6,1703.2 769.4,1685.2 771.2,1704.6 773.0,1696.6 774.8,1705.2 776.7,1698.1 778.5,1704.3 780.3,1699.1 782.1,1703.6 783.9,1698.7 785.8,1704.7 787.6,1697.0 789.4,1705.6 791.2,1697.0 793.0,1703.4 794.9,1696.3 796.7,1703.7 798.5,1698.0 800.3,1704.6 802.1,1698.2 803.9,1703.3 805.8,1688.0 807.6,1704.9 809.4,1684.2 811.2,1688.0 813.0,1687.5 814.9,1682.8 816.7,1687.2 818.5,1704.8 820.3,1698.2 822.1,1695.5 823.9,1696.3 825.8,1703.8 827.6,1697.1 829.4,1702.5 831.2,1698.0 833.0,1703.3 834.9,1697.0 836.7,1703.5 838.5,1697.3 840.3,1703.0 842.1,1696.8 844.0,1704.6 845.8,1699.1 847.6,1703.6 849.4,1697.6 851.2,1674.9 853.0,1677.3 854.9,1675.0 856.7,1691.1 858.5,1702.8 860.3,1699.3 862.1,1703.0 864.0,1696.1 865.8,1703.5 867.6,1686.1 869.4,1676.9 871.2,1683.6 873.1,1704.7 874.9,1687.4 876.7,1703.8 878.5,1695.8 880.3,1705.4 882.1,1698.1 884.0,1702.3 885.8,1698.3 887.6,1703.4 889.4,1696.3 891.2,1704.1 893.1,1699.1 894.9,1705.3 896.7,1696.3 898.5,1694.2 900.3,1698.0 902.1,1704.0 904.0,1698.0 905.8,1703.0 907.6,1690.5 909.4,1704.2 911.2,1697.3 913.1,1703.3 914.9,1698.3 916.7,1705.1 918.5,1697.7 920.3,1703.9 922.2,1699.1 924.0,1692.8 925.8,1699.0 927.6,1702.9 929.4,1697.3 931.2,1704.0 933.1,1696.9 934.9,1703.0 936.7,1698.8 938.5,1698.2 940.3,1696.6 942.2,1703.8 944.0,1698.4 945.8,1704.7 947.6,1699.1 949.4,1483.5 951.3,1483.5 953.1,1704.3 954.9,1697.3 956.7,1705.5 958.5,1696.4 960.3,1705.1 962.2,1679.2 964.0,1682.1 965.8,1699.0 967.6,1704.8 969.4,1685.5 971.3,1702.7 973.1,1695.8 974.9,1704.1 976.7,1698.1 978.5,1704.0 980.4,1699.0 982.2,1705.3 984.0,1692.2 985.8,1703.2 987.6,1696.3 989.4,1674.8 991.3,1698.1 993.1,1697.6 994.9,1697.7 996.7,1704.9 998.5,1696.5 1000.4,1702.5 1002.2,1699.0 1004.0,1705.1 1005.8,1676.5 1007.6,1703.7 1009.4,1697.8 1011.3,1702.6 1013.1,1696.7 1014.9,1483.5 1016.7,1697.0 1018.5,1703.4 1020.4,1698.9 1022.2,1702.8 1024.0,1697.4 1025.8,1703.2 1027.6,1699.2 1029.5,1705.6 1031.3,1697.4 1033.1,1705.5 1034.9,1697.4 1036.7,1698.1 1038.5,1696.5 1040.4,1703.0 1042.2,1699.0 1044.0,1705.2 1045.8,1697.8 1047.6,1702.7 1049.5,1698.9 1051.3,1703.1 1053.1,1696.6 1054.9,1705.2 1056.7,1699.0 1058.6,1702.6 1060.4,1696.6 1062.2,1692.5 1064.0,1697.2 1065.8,1703.4 1067.6,1671.0 1069.5,1673.9 1071.3,1698.8 1073.1,1702.8 1074.9,1698.5 1076.7,1705.7 1078.6,1696.5 1080.4,1704.0 1082.2,1696.1 1084.0,1704.5 1085.8,1697.1 1087.7,1694.6 1089.5,1698.1 1091.3,1705.7 1093.1,1696.7 1094.9,1705.2 1096.7,1696.1 1098.6,1705.2 1100.4,1697.2 1102.2,1705.2 1104.0,1696.3 1105.8,1705.7 1107.7,1683.3 1109.5,1705.1 1111.3,1696.4 1113.1,1703.0 1114.9,1698.5 1116.7,1705.5 1118.6,1696.8 1120.4,1705.0 1122.2,1696.9 1124.0,1705.2 1125.8,1699.0 1127.7,1705.2 1129.5,1697.2 1131.3,1677.0 1133.1,1696.0 1134.9,1704.0 1136.8,1698.3 1138.6,1696.7 1140.4,1680.1 1142.2,1680.8 1144.0,1697.9 1145.8,1703.1 1147.7,1697.1 1149.5,1705.4 1151.3,1698.1 1153.1,1702.9 1154.9,1696.4 1156.8,1705.7 1158.6,1698.2 1160.4,1705.1 1162.2,1696.3 1164.0,1669.7 1165.9,1696.0 1167.7,1705.1 1169.5,1689.1 1171.3,1705.3 1173.1,1698.0 1174.9,1705.4 1176.8,1483.5 1178.6,1483.5 1180.4,1698.0 1182.2,1704.5 1184.0,1697.5 1185.9,1705.5 1187.7,1698.0 1189.5,1702.5 1191.3,1696.9 1193.1,1703.9 1195.0,1696.2 1196.8,1698.0 1198.6,1698.8 1200.4,1705.4 1202.2,1697.2 1204.0,1702.5 1205.9,1696.7 1207.7,1703.3 1209.5,1698.3 1211.3,1703.8 1213.1,1697.0 1215.0,1704.7 1216.8,1695.9 1218.6,1704.7 1220.4,1698.7 1222.2,1705.2 1224.0,1698.1 1225.9,1704.1 1227.7,1698.7 1229.5,1702.9 1231.3,1699.1 1233.1,1703.6 1235.0,1695.9 1236.8,1703.4 1238.6,1698.6 1240.4,1697.5 1242.2,1697.9 1244.1,1705.7 1245.9,1698.6 1247.7,1703.9 1249.5,1697.1 1251.3,1703.4 1253.1,1696.7 1255.0,1704.3 1256.8,1696.7 1258.6,1703.6 1260.4,1697.4 1262.2,1704.5 1264.1,1685.2 1265.9,1704.3 1267.7,1696.0 1269.5,1694.2 1271.3,1696.7 1273.2,1703.7 1275.0,1698.9 1276.8,1704.6 1278.6,1697.1 1280.4,1705.0 1282.2,1696.0 1284.1,1703.5 1285.9,1696.5 1287.7,1703.0 1289.5,1697.4 1291.3,1704.6 1293.2,1698.8 1295.0,1702.5 1296.8,1697.5 1298.6,1704.6 1300.4,1697.9 1302.2,1703.3 1304.1,1696.5 1305.9,1702.8 1307.7,1696.7 1309.5,1705.4 1311.3,1696.7 1313.2,1704.6 1315.0,1698.8 1316.8,1704.8 1318.6,1688.9 1320.4,1705.2 1322.3,1698.6 1324.1,1702.6 1325.9,1695.9 1327.7,1703.6 1329.5,1699.0 1331.3,1674.2 1333.2,1678.2 1335.0,1705.7 1336.8,1676.0 1338.6,1681.8 1340.4,1680.9 1342.3,1703.5 1344.1,1698.5 1345.9,1703.0 1347.7,1696.5 1349.5,1702.4 1351.4,1699.2 1353.2,1694.1 1355.0,1696.8 1356.8,1703.7 1358.6,1697.2 1360.4,1705.3 1362.3,1696.5 1364.1,1703.5 1365.9,1699.1 1367.7,1702.8 1369.5,1696.9 1371.4,1703.9 1373.2,1698.6 1375.0,1703.3 1376.8,1696.7 1378.6,1703.8 1380.5,1696.8 1382.3,1703.2 1384.1,1696.8 1385.9,1704.9 1387.7,1696.1 1389.5,1699.0 1391.4,1699.3 1393.2,1704.8 1395.0,1698.4 1396.8,1702.9 1398.6,1695.8 1400.5,1702.5 1402.3,1698.1 1404.1,1705.1 1405.9,1693.6 1407.7,1705.0 1409.5,1695.8 1411.4,1705.1 1413.2,1696.4 1415.0,1702.7 1416.8,1697.5 1418.6,1668.6 1420.5,1668.8 1422.3,1703.8 1424.1,1698.0 1425.9,1705.2 1427.7,1699.3 1429.6,1704.3 1431.4,1699.3 1433.2,1705.1 1435.0,1699.1 1436.8,1697.3 1438.6,1697.1 1440.5,1704.0 1442.3,1698.6 1444.1,1705.5 1445.9,1698.9 1447.7,1702.7 1449.6,1697.7 1451.4,1704.5 1453.2,1687.2 1455.0,1702.5 1456.8,1697.9 1458.7,1704.8 1460.5,1697.0 1462.3,1704.0 1464.1,1696.1 1465.9,1702.5 1467.7,1695.8 1469.6,1703.7 1471.4,1696.4 1473.2,1700.1 1475.0,1695.9 1476.8,1696.3 1478.7,1696.0 1480.5,1704.7 1482.3,1697.1 1484.1,1703.2 1485.9,1699.2 1487.8,1702.7 1489.6,1696.8 1491.4,1705.1 1493.2,1686.4 1495.0,1705.4 1496.8,1699.3 1498.7,1704.2 1500.5,1697.5 1502.3,1704.4 1504.1,1690.1 1505.9,1703.3 1507.8,1699.3 1509.6,1702.4 1511.4,1696.5 1513.2,1702.7 1515.0,1698.6 1516.8,1702.7 1518.7,1697.4 1520.5,1702.6 1522.3,1696.3 1524.1,1702.7 1525.9,1698.2 1527.8,1702.8 1529.6,1695.9 1531.4,1697.3 1533.2,1696.9 1535.0,1704.1 1536.9,1697.9 1538.7,1704.6 1540.5,1696.7 1542.3,1705.5 1544.1,1673.2 1545.9,1681.0 1547.8,1679.0 1549.6,1703.2 1551.4,1696.5 1553.2,1702.4 1555.0,1698.7 1556.9,1705.6 1558.7,1697.6 1560.5,1704.9 1562.3,1698.2 1564.1,1702.3 1566.0,1698.1 1567.8,1703.5 1569.6,1699.3 1571.4,1703.1 1573.2,1699.0 1575.0,1702.4 1576.9,1697.8 1578.7,1702.5 1580.5,1697.7 1582.3,1702.5 1584.1,1698.4 1586.0,1705.6 1587.8,1696.6 1589.6,1704.6 1591.4,1696.7 1593.2,1704.8 1595.1,1698.9 1596.9,1704.4 1598.7,1698.7 1600.5,1703.3 1602.3,1698.1 1604.1,1702.6 1606.0,1697.1 1607.8,1704.6 1609.6,1694.2 1611.4,1693.1 1613.2,1692.8 1615.1,1704.3 1616.9,1697.0 1618.7,1705.4 1620.5,1697.7 1622.3,1703.2 1624.1,1696.9 1626.0,1705.8 1627.8,1696.3 1629.6,1703.4 1631.4,1697.9 1633.2,1702.7 1635.1,1698.1 1636.9,1704.5 1638.7,1688.0 1640.5,1704.6 1642.3,1690.0 1644.2,1698.9 1646.0,1699.0 1647.8,1702.5 1649.6,1698.4 1651.4,1705.6 1653.2,1697.4 1655.1,1703.6 1656.9,1698.0 1658.7,1704.6 1660.5,1696.1 1662.3,1705.0 1664.2,1699.2 1666.0,1705.4 1667.8,1696.3 1669.6,1705.4 1671.4,1691.9 1673.3,1703.6 1675.1,1697.6 1676.9,1702.7 1678.7,1697.6 1680.5,1704.0 1682.3,1696.1 1684.2,1702.5 1686.0,1698.4 1687.8,1703.1 1689.6,1699.1 1691.4,1704.0 1693.3,1697.2 1695.1,1705.5 1696.9,1699.1 1698.7,1702.5 1700.5,1697.5 1702.3,1702.7 1704.2,1697.7 1706.0,1705.0 1707.8,1696.5 1709.6,1702.6 1711.4,1686.2 1713.3,1704.0 1715.1,1697.5 1716.9,1705.1 1718.7,1697.0 1720.5,1702.4 1722.4,1696.6 1724.2,1702.8 1726.0,1697.9 1727.8,1691.7 1729.6,1697.0 1731.4,1677.6 1733.3,1697.7 1735.1,1703.3 1736.9,1696.4 1738.7,1703.4 1740.5,1483.5 1742.4,1483.5 1744.2,1697.6 1746.0,1705.6 1747.8,1695.8 1749.6,1703.1 1751.5,1698.6 1753.3,1703.9 1755.1,1695.9 1756.9,1703.7 1758.7,1679.3 1760.5,1483.5 1762.4,1698.8 1764.2,1704.4 1766.0,1697.4 1767.8,1703.2 1769.6,1698.3 1771.5,1705.5 1773.3,1698.8 1775.1,1704.9 1776.9,1686.4 1778.7,1705.1 1780.6,1697.3 1782.4,1702.8 1784.2,1695.9 1786.0,1702.6 1787.8,1696.4 1789.6,1694.7 1791.5,1698.7 1793.3,1702.6 1795.1,1698.2 1796.9,1704.8 1798.7,1697.7 1800.6,1704.2 1802.4,1698.0 1804.2,1704.3 1806.0,1697.2 1807.8,1703.6 1809.6,1483.5 1811.5,1483.5 1813.3,1483.5 1815.1,1694.6 1816.9,1698.6 1818.7,1705.5 1820.6,1698.1 1822.4,1705.6 1824.2,1697.7 1826.0,1705.7 1827.8,1699.0 1829.7,1704.2 1831.5,1698.8 1833.3,1703.6 1835.1,1698.0 1836.9,1703.6 1838.7,1697.1 1840.6,1702.7 1842.4,1696.2 1844.2,1704.6 1846.0,1697.7 1847.8,1704.2 1849.7,1696.6 1851.5,1705.1 1853.3,1696.9 1855.1,1694.0 1856.9,1698.3 1858.8,1703.0 1860.6,1697.2 1862.4,1703.6 1864.2,1697.0 1866.0,1702.5 1867.8,1697.0 1869.7,1702.5 1871.5,1697.2 1873.3,1670.8 1875.1,1677.6 1876.9,1702.9 1878.8,1696.1 1880.6,1685.2 1882.4,1695.9 1884.2,1703.5 1886.0,1698.2 1887.9,1704.0 1889.7,1693.6 1891.5,1702.6 1893.3,1696.9 1895.1,1705.1 1896.9,1698.1 1898.8,1703.0 1900.6,1692.0 1902.4,1704.7 1904.2,1696.8 1906.0,1705.1 1907.9,1699.0 1909.7,1703.0 1911.5,1696.5 1913.3,1693.1 1915.1,1697.3 1916.9,1703.0 1918.8,1698.9 1920.6,1703.1 1922.4,1697.8 1924.2,1672.3 1926.0,1679.1 1927.9,1704.8 1929.7,1698.6 1931.5,1705.8 1933.3,1696.2 1935.1,1702.5 1937.0,1698.1 1938.8,1704.7 1940.6,1696.5 1942.4,1704.1 1944.2,1696.6 1946.0,1703.3 1947.9,1698.5 1949.7,1704.5 1951.5,1699.2 1953.3,1705.0 1955.1,1696.3 1957.0,1704.0 1958.8,1699.0 1960.6,1704.5 1962.4,1699.1 1964.2,1704.1 1966.1,1696.3 1967.9,1703.8 1969.7,1697.4 1971.5,1704.8 1973.3,1699.1 1975.1,1702.6 1977.0,1698.8 1978.8,1705.6 1980.6,1699.1 1982.4,1702.4 1984.2,1696.3 1986.1,1703.5 1987.9,1698.8 1989.7,1704.8 1991.5,1699.2 1993.3,1704.6 1995.2,1696.8 1997.0,1705.2 1998.8,1697.9 2000.6,1703.7 2002.4,1696.8 2004.2,1705.4 2006.1,1684.9 2007.9,1705.6 2009.7,1697.9 2011.5,1702.9 2013.3,1696.6 2015.2,1703.0 2017.0,1696.7 2018.8,1704.0 2020.6,1697.5 2022.4,1702.4 2024.2,1696.5 2026.1,1705.7 2027.9,1698.2 2029.7,1705.3 2031.5,1693.0 2033.3,1703.1 2035.2,1483.5 2037.0,1689.5 2038.8,1698.5 2040.6,1705.4 2042.4,1698.2 2044.3,1703.7 2046.1,1673.3 2047.9,1676.2 2049.7,1699.1 2051.5,1702.9 2053.3,1698.2 2055.2,1703.4 2057.0,1698.2 2058.8,1704.8 2060.6,1699.1 2062.4,1702.9 2064.3,1696.6 2066.1,1705.6 2067.9,1697.4 2069.7,1705.1 2071.5,1695.9 2073.4,1703.9 2075.2,1696.7 2077.0,1704.9 2078.8,1687.1 2080.6,1679.4 2082.4,1685.8 2084.3,1704.5 2086.1,1697.6 2087.9,1704.5 2089.7,1697.3 2091.5,1703.5 2093.4,1696.7 2095.2,1705.5 2097.0,1695.8 2098.8,1702.5 2100.6,1699.3 2102.4,1703.1 2104.3,1697.4 2106.1,1704.6 2107.9,1697.0 2109.7,1703.9 2111.5,1699.2 2113.4,1705.8 2115.2,1698.3 2117.0,1693.8 2118.8,1689.9 2120.6,1705.6 2122.5,1698.7 2124.3,1702.6 2126.1,1698.2 2127.9,1704.1 2129.7,1697.6 2131.5,1702.3 2133.4,1697.2 2135.2,1705.2 2137.0,1673.8 2138.8,1705.3 2140.6,1696.1 2142.5,1702.4 2144.3,1696.2 2146.1,1705.6 2147.9,1696.0 2149.7,1702.8 2151.6,1696.5 2153.4,1704.4 2155.2,1698.3 2157.0,1704.1 2158.8,1680.0 2160.6,1684.8 2162.5,1698.4 2164.3,1702.9 2166.1,1696.1 2167.9,1483.5 2169.7,1483.5 2171.6,1704.8 2173.4,1696.4 2175.2,1702.5 2177.0,1693.1 2178.8,1705.1 2180.7,1698.8 2182.5,1704.5 2184.3,1698.1 2186.1,1703.2 2187.9,1698.7 2189.7,1704.5 2191.6,1698.7 2193.4,1702.6 2195.2,1698.2 2197.0,1702.9 2198.8,1697.8 2200.7,1704.0 2202.5,1697.7 2204.3,1704.4 2206.1,1688.4 2207.9,1705.7 2209.7,1698.1 2211.6,1703.5 2213.4,1697.9 2215.2,1705.3 2217.0,1699.3 2218.8,1704.8 2220.7,1697.1 2222.5,1703.7 2224.3,1698.3 2226.1,1704.6 2227.9,1696.0 2229.8,1703.6 2231.6,1696.5 2233.4,1704.7 2235.2,1696.0 2237.0,1703.7 2238.8,1698.9 2240.7,1680.3 2242.5,1684.8 2244.3,1686.4 2246.1,1697.4 2247.9,1703.4 2249.8,1698.9 2251.6,1704.4 2253.4,1670.8 2255.2,1703.6 2257.0,1483.5 2258.9,1703.5 2260.7,1698.7 2262.5,1702.4 2264.3,1699.1 2266.1,1702.8 2267.9,1699.1 2269.8,1704.9 2271.6,1696.1 2273.4,1704.2 2275.2,1699.0 2277.0,1703.8 2278.9,1696.7 2280.7,1691.8 2282.5,1696.7 2284.3,1701.2 2286.1,1672.6 2288.0,1679.7 2289.8,1698.7 2291.6,1704.7 2293.4,1698.0 2295.2,1703.8 2297.0,1698.4 2298.9,1705.7 2300.7,1696.8 2302.5,1702.9"/>
</g>
<line x1="302.0" y1="1751.3" x2="302.0" y2="1771.3" stroke="#000" stroke-width="4.1"/>
<line x1="665.3" y1="1751.3" x2="665.3" y2="1771.3" stroke="#000" stroke-width="4.1"/>
<line x1="1028.2" y1="1751.3" x2="1028.2" y2="1771.3" stroke="#000" stroke-width="4.1"/>
<line x1="1394.8" y1="1751.3" x2="1394.8" y2="1771.3" stroke="#000" stroke-width="4.1"/>
<line x1="1758.0" y1="1751.3" x2="1758.0" y2="1771.3" stroke="#000" stroke-width="4.1"/>
<line x1="2120.3" y1="1751.3" x2="2120.3" y2="1771.3" stroke="#000" stroke-width="4.1"/>
<line x1="282.0" y1="1138.6" x2="302.0" y2="1138.6" stroke="#000" stroke-width="4.1"/>
<line x1="282.0" y1="1332.4" x2="302.0" y2="1332.4" stroke="#000" stroke-width="4.1"/>
<line x1="282.0" y1="1525.8" x2="302.0" y2="1525.8" stroke="#000" stroke-width="4.1"/>
<line x1="282.0" y1="1722.8" x2="302.0" y2="1722.8" stroke="#000" stroke-width="4.1"/>
<rect x="302.0" y="1074.5" width="2000.5" height="676.8" fill="none" stroke="#000" stroke-width="4.1"/>
<rect x="2006.5" y="1102.0" width="268" height="186.5" rx="9" ry="9" fill="#fff" fill-opacity="0.8" stroke="#d6d6d6" stroke-width="3.6"/>
<line x1="2022" y1="1148.8" x2="2143.3" y2="1148.8" stroke="#1f77b4" stroke-width="7.7"/>
<line x1="2022" y1="1233.6" x2="2143.3" y2="1233.6" stroke="#ff7f0e" stroke-width="7.7"/>
<text x="2182" y="1168.8" font-size="61" textLength="65" lengthAdjust="spacingAndGlyphs">G1</text>
<text x="2181" y="1253.0" font-size="61" textLength="66" lengthAdjust="spacingAndGlyphs">X1</text>
</g>
<text x="287.5" y="1015.5" font-size="61" textLength="29.0" lengthAdjust="spacingAndGlyphs">0</text>
<text x="621.8" y="1015.5" font-size="61" textLength="87.0" lengthAdjust="spacingAndGlyphs">200</text>
<text x="984.7" y="1015.5" font-size="61" textLength="87.0" lengthAdjust="spacingAndGlyphs">400</text>
<text x="1351.3" y="1015.5" font-size="61" textLength="87.0" lengthAdjust="spacingAndGlyphs">600</text>
<text x="1714.5" y="1015.5" font-size="61" textLength="87.0" lengthAdjust="spacingAndGlyphs">800</text>
<text x="2062.3" y="1015.5" font-size="61" textLength="116.0" lengthAdjust="spacingAndGlyphs">1000</text>
<text x="287.5" y="1830.5" font-size="61" textLength="29.0" lengthAdjust="spacingAndGlyphs">0</text>
<text x="621.8" y="1830.5" font-size="61" textLength="87.0" lengthAdjust="spacingAndGlyphs">200</text>
<text x="984.7" y="1830.5" font-size="61" textLength="87.0" lengthAdjust="spacingAndGlyphs">400</text>
<text x="1351.3" y="1830.5" font-size="61" textLength="87.0" lengthAdjust="spacingAndGlyphs">600</text>
<text x="1714.5" y="1830.5" font-size="61" textLength="87.0" lengthAdjust="spacingAndGlyphs">800</text>
<text x="2062.3" y="1830.5" font-size="61" textLength="116.0" lengthAdjust="spacingAndGlyphs">1000</text>
<text x="189.0" y="310.9" font-size="61" textLength="74.0" lengthAdjust="spacingAndGlyphs">0.0</text>
<text font-size="61"><tspan x="143.5" y="439.4" font-size="42" textLength="42" lengthAdjust="spacingAndGlyphs">−</tspan><tspan x="189.0" y="439.7" textLength="74.0" lengthAdjust="spacingAndGlyphs">0.2</tspan></text>
<text font-size="61"><tspan x="143.5" y="560.3" font-size="42" textLength="42" lengthAdjust="spacingAndGlyphs">−</tspan><tspan x="189.0" y="560.6" textLength="74.0" lengthAdjust="spacingAndGlyphs">0.4</tspan></text>
<text font-size="61"><tspan x="143.5" y="685.1" font-size="42" textLength="42" lengthAdjust="spacingAndGlyphs">−</tspan><tspan x="189.0" y="685.4" textLength="74.0" lengthAdjust="spacingAndGlyphs">0.6</tspan></text>
<text font-size="61"><tspan x="143.5" y="805.7" font-size="42" textLength="42" lengthAdjust="spacingAndGlyphs">−</tspan><tspan x="189.0" y="806.0" textLength="74.0" lengthAdjust="spacingAndGlyphs">0.8</tspan></text>
<text font-size="61"><tspan x="143.5" y="931.6" font-size="42" textLength="42" lengthAdjust="spacingAndGlyphs">−</tspan><tspan x="189.0" y="931.9" textLength="74.0" lengthAdjust="spacingAndGlyphs">1.0</tspan></text>
<text x="189.0" y="1156.5" font-size="61" textLength="74.0" lengthAdjust="spacingAndGlyphs">0.6</text>
<text x="189.0" y="1350.6" font-size="61" textLength="74.0" lengthAdjust="spacingAndGlyphs">0.4</text>
<text x="189.0" y="1543.5" font-size="61" textLength="74.0" lengthAdjust="spacingAndGlyphs">0.2</text>
<text x="189.0" y="1736.0" font-size="61" textLength="74.0" lengthAdjust="spacingAndGlyphs">0.0</text>
<text x="1225" y="1897.5" font-size="63" textLength="144" lengthAdjust="spacingAndGlyphs">Epoch</text>
<text transform="translate(110.5,755) rotate(-90)" font-size="63" textLength="306" lengthAdjust="spacingAndGlyphs">X1, G1 mean</text>
<text transform="translate(154.5,1549) rotate(-90)" font-size="63" textLength="266" lengthAdjust="spacingAndGlyphs">X1, G1 std.</text>
<text x="886" y="113.3" font-size="69" textLength="764" lengthAdjust="spacingAndGlyphs">Train Distribution Statistics</text>
</svg></body></html>
